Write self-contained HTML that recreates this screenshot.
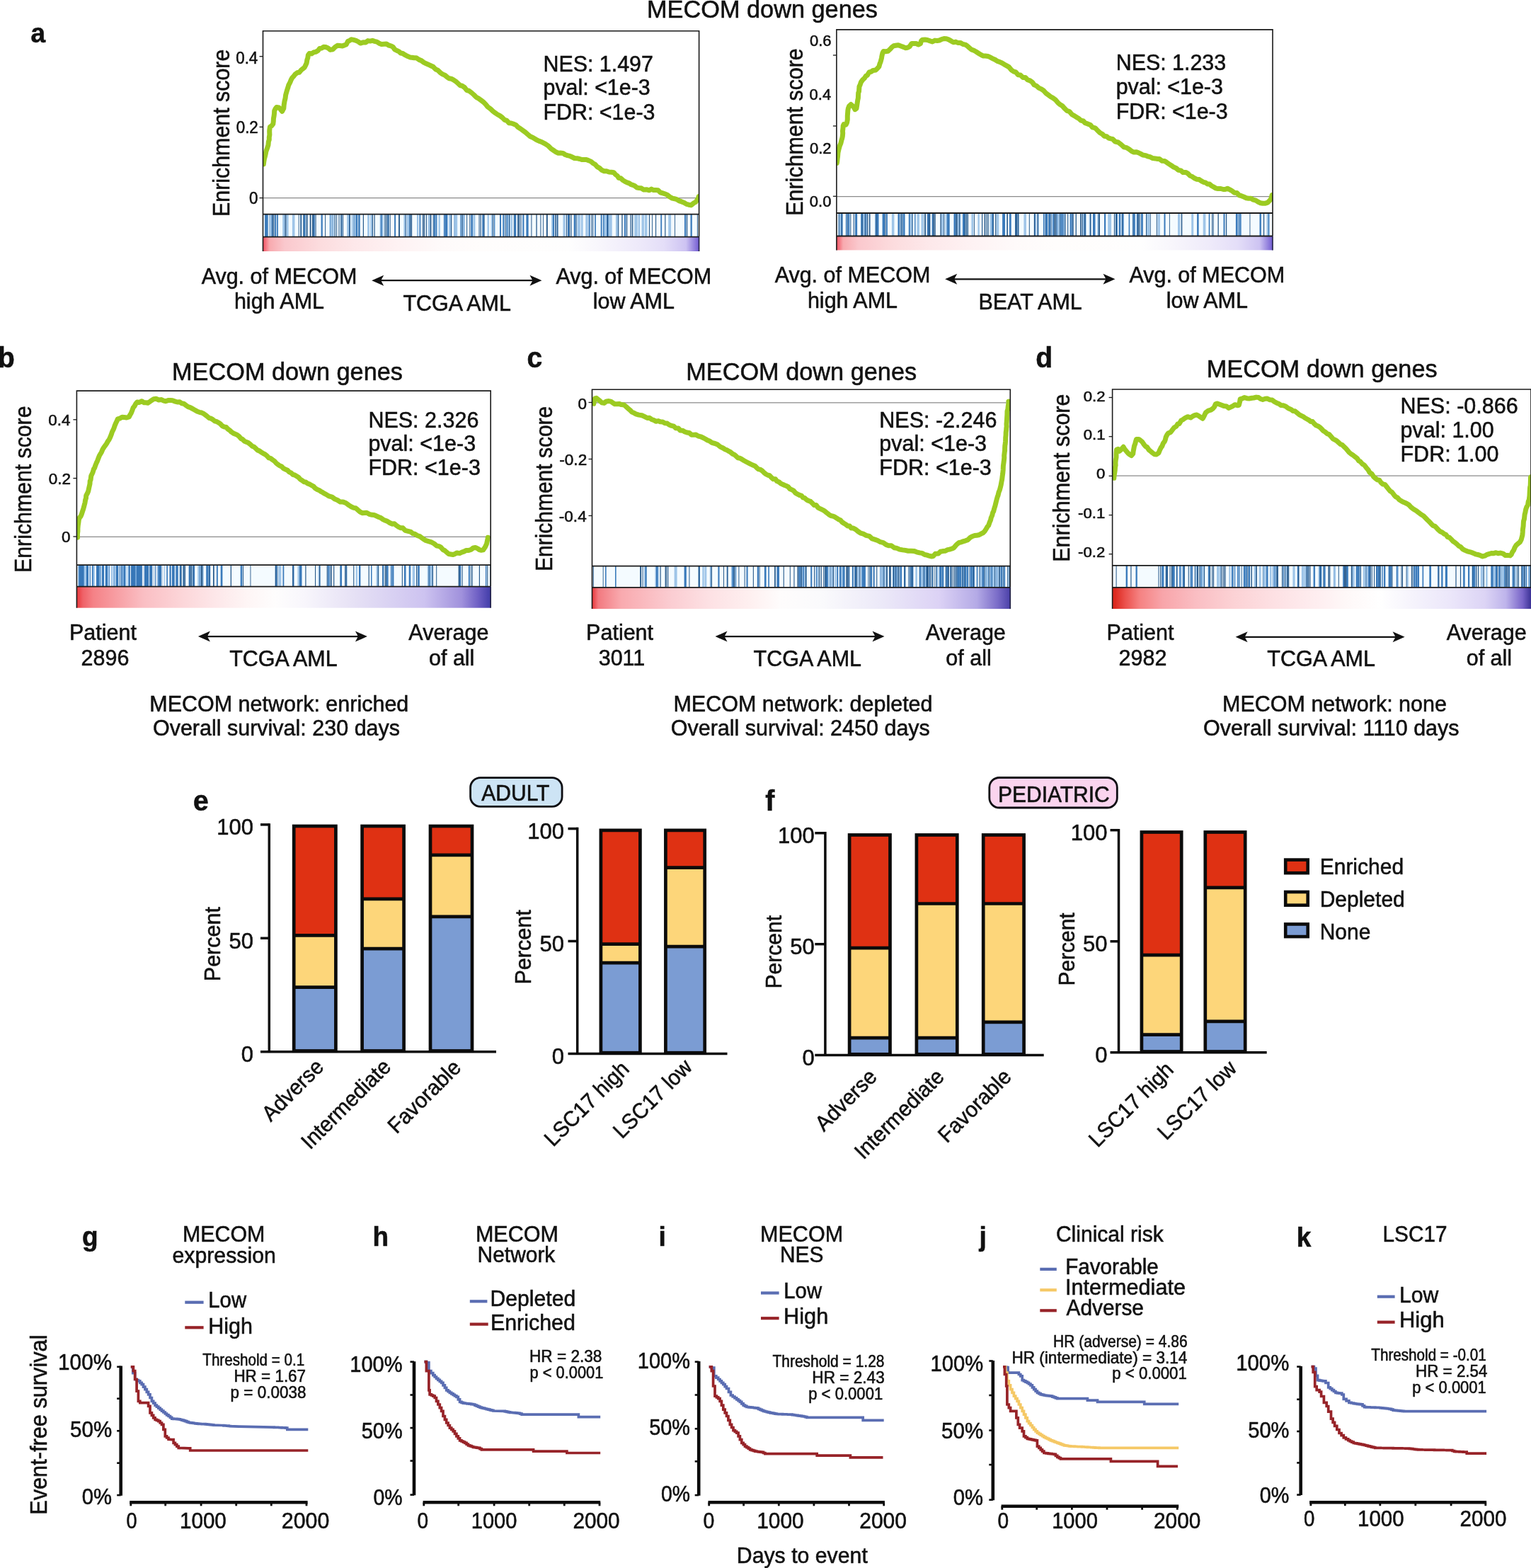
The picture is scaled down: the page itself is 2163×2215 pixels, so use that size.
<!DOCTYPE html>
<html><head><meta charset="utf-8"><title>MECOM figure</title>
<style>
html,body{margin:0;padding:0;background:#fff;}
svg{display:block;}
text{font-family:'Liberation Sans', Arial, Helvetica, sans-serif;fill:#111;stroke:#111;stroke-width:0.55px;}
</style></head>
<body>
<svg width="2163" height="2215" viewBox="0 0 2163 2215">
<rect width="2163" height="2215" fill="#fff"/>
<text x="1077.0" y="25.2" font-size="34.3" text-anchor="middle" transform="translate(1077.0 25.2) scale(1 1.04) translate(-1077.0 -25.2)">MECOM down genes</text>
<text x="43.6" y="59.6" font-size="37" text-anchor="start" font-weight="bold" transform="translate(43.6 59.6) scale(1 1.04) translate(-43.6 -59.6)">a</text>
<defs><linearGradient id="ga1" x1="0" x2="1" y1="0" y2="0"><stop offset="0" stop-color="#f05060"/><stop offset="0.015" stop-color="#f8aaaf"/><stop offset="0.05" stop-color="#fac8cd"/><stop offset="0.13" stop-color="#fcdcde"/><stop offset="0.21" stop-color="#fde8ea"/><stop offset="0.31" stop-color="#fef2f3"/><stop offset="0.41" stop-color="#fefafa"/><stop offset="0.5" stop-color="#fffdfc"/><stop offset="0.7" stop-color="#fefefe"/><stop offset="0.77" stop-color="#f8f6fc"/><stop offset="0.86" stop-color="#eeeafa"/><stop offset="0.92" stop-color="#e4def8"/><stop offset="0.97" stop-color="#cdc3f2"/><stop offset="0.995" stop-color="#826ed7"/><stop offset="1" stop-color="#6a55cc"/></linearGradient><clipPath id="ga1c"><rect x="371.5" y="43.7" width="616.1" height="258.90000000000003"/></clipPath></defs>
<rect x="371.5" y="334.7" width="616.1" height="20.30000000000001" fill="url(#ga1)"/>
<rect x="371.5" y="302.6" width="616.1" height="32.099999999999966" fill="#f4fbff"/>
<rect x="374.1" y="302.6" width="2.7" height="32.1" fill="#3b7bbb"/>
<rect x="375.8" y="302.6" width="2.2" height="32.1" fill="#3b7bbb"/>
<rect x="376.4" y="302.6" width="2.3" height="32.1" fill="#3b7bbb"/>
<rect x="380.6" y="302.6" width="1.0" height="32.1" fill="#27598a"/>
<rect x="380.9" y="302.6" width="3.4" height="32.1" fill="#9fc5e8"/>
<rect x="381.0" y="302.6" width="3.9" height="32.1" fill="#9fc5e8"/>
<rect x="383.9" y="302.6" width="1.6" height="32.1" fill="#3b7bbb"/>
<rect x="383.9" y="302.6" width="1.5" height="32.1" fill="#3b7bbb"/>
<rect x="384.5" y="302.6" width="0.9" height="32.1" fill="#27598a"/>
<rect x="386.2" y="302.6" width="1.2" height="32.1" fill="#27598a"/>
<rect x="388.1" y="302.6" width="2.1" height="32.1" fill="#3b7bbb"/>
<rect x="391.1" y="302.6" width="1.8" height="32.1" fill="#3b7bbb"/>
<rect x="399.2" y="302.6" width="3.7" height="32.1" fill="#9fc5e8"/>
<rect x="402.5" y="302.6" width="1.0" height="32.1" fill="#27598a"/>
<rect x="403.4" y="302.6" width="1.2" height="32.1" fill="#27598a"/>
<rect x="404.8" y="302.6" width="2.8" height="32.1" fill="#9fc5e8"/>
<rect x="412.9" y="302.6" width="2.0" height="32.1" fill="#9fc5e8"/>
<rect x="413.6" y="302.6" width="2.9" height="32.1" fill="#9fc5e8"/>
<rect x="421.7" y="302.6" width="0.9" height="32.1" fill="#27598a"/>
<rect x="424.4" y="302.6" width="1.8" height="32.1" fill="#3b7bbb"/>
<rect x="424.6" y="302.6" width="1.3" height="32.1" fill="#27598a"/>
<rect x="428.4" y="302.6" width="1.0" height="32.1" fill="#27598a"/>
<rect x="428.7" y="302.6" width="1.2" height="32.1" fill="#27598a"/>
<rect x="429.3" y="302.6" width="2.0" height="32.1" fill="#3b7bbb"/>
<rect x="429.8" y="302.6" width="1.6" height="32.1" fill="#3b7bbb"/>
<rect x="432.6" y="302.6" width="1.1" height="32.1" fill="#27598a"/>
<rect x="433.3" y="302.6" width="1.3" height="32.1" fill="#27598a"/>
<rect x="437.7" y="302.6" width="1.3" height="32.1" fill="#27598a"/>
<rect x="438.3" y="302.6" width="1.2" height="32.1" fill="#27598a"/>
<rect x="441.1" y="302.6" width="1.3" height="32.1" fill="#27598a"/>
<rect x="441.7" y="302.6" width="1.2" height="32.1" fill="#27598a"/>
<rect x="442.8" y="302.6" width="0.9" height="32.1" fill="#27598a"/>
<rect x="443.1" y="302.6" width="1.7" height="32.1" fill="#3b7bbb"/>
<rect x="445.5" y="302.6" width="1.1" height="32.1" fill="#27598a"/>
<rect x="453.6" y="302.6" width="2.2" height="32.1" fill="#3b7bbb"/>
<rect x="459.1" y="302.6" width="1.0" height="32.1" fill="#27598a"/>
<rect x="465.5" y="302.6" width="2.5" height="32.1" fill="#9fc5e8"/>
<rect x="466.1" y="302.6" width="2.7" height="32.1" fill="#3b7bbb"/>
<rect x="466.7" y="302.6" width="3.8" height="32.1" fill="#9fc5e8"/>
<rect x="469.2" y="302.6" width="0.9" height="32.1" fill="#27598a"/>
<rect x="469.3" y="302.6" width="2.5" height="32.1" fill="#9fc5e8"/>
<rect x="472.6" y="302.6" width="1.2" height="32.1" fill="#27598a"/>
<rect x="475.1" y="302.6" width="1.0" height="32.1" fill="#27598a"/>
<rect x="478.5" y="302.6" width="1.0" height="32.1" fill="#27598a"/>
<rect x="480.7" y="302.6" width="3.2" height="32.1" fill="#9fc5e8"/>
<rect x="481.6" y="302.6" width="2.4" height="32.1" fill="#9fc5e8"/>
<rect x="481.7" y="302.6" width="1.1" height="32.1" fill="#27598a"/>
<rect x="481.8" y="302.6" width="1.0" height="32.1" fill="#27598a"/>
<rect x="484.1" y="302.6" width="1.0" height="32.1" fill="#27598a"/>
<rect x="490.1" y="302.6" width="3.3" height="32.1" fill="#9fc5e8"/>
<rect x="493.3" y="302.6" width="1.6" height="32.1" fill="#3b7bbb"/>
<rect x="493.4" y="302.6" width="1.3" height="32.1" fill="#27598a"/>
<rect x="496.6" y="302.6" width="2.0" height="32.1" fill="#9fc5e8"/>
<rect x="499.4" y="302.6" width="2.4" height="32.1" fill="#3b7bbb"/>
<rect x="500.4" y="302.6" width="2.2" height="32.1" fill="#9fc5e8"/>
<rect x="502.6" y="302.6" width="2.7" height="32.1" fill="#3b7bbb"/>
<rect x="506.2" y="302.6" width="2.5" height="32.1" fill="#3b7bbb"/>
<rect x="512.8" y="302.6" width="1.2" height="32.1" fill="#27598a"/>
<rect x="519.1" y="302.6" width="2.8" height="32.1" fill="#9fc5e8"/>
<rect x="523.3" y="302.6" width="3.1" height="32.1" fill="#9fc5e8"/>
<rect x="525.9" y="302.6" width="1.1" height="32.1" fill="#27598a"/>
<rect x="528.5" y="302.6" width="1.2" height="32.1" fill="#27598a"/>
<rect x="536.6" y="302.6" width="3.5" height="32.1" fill="#9fc5e8"/>
<rect x="537.9" y="302.6" width="2.2" height="32.1" fill="#3b7bbb"/>
<rect x="539.5" y="302.6" width="2.2" height="32.1" fill="#9fc5e8"/>
<rect x="543.2" y="302.6" width="1.1" height="32.1" fill="#27598a"/>
<rect x="545.0" y="302.6" width="1.2" height="32.1" fill="#27598a"/>
<rect x="546.9" y="302.6" width="2.7" height="32.1" fill="#3b7bbb"/>
<rect x="547.7" y="302.6" width="1.0" height="32.1" fill="#27598a"/>
<rect x="550.7" y="302.6" width="1.0" height="32.1" fill="#27598a"/>
<rect x="557.1" y="302.6" width="2.0" height="32.1" fill="#3b7bbb"/>
<rect x="563.1" y="302.6" width="1.2" height="32.1" fill="#27598a"/>
<rect x="563.7" y="302.6" width="1.2" height="32.1" fill="#27598a"/>
<rect x="570.4" y="302.6" width="2.8" height="32.1" fill="#9fc5e8"/>
<rect x="572.7" y="302.6" width="1.0" height="32.1" fill="#27598a"/>
<rect x="574.6" y="302.6" width="3.7" height="32.1" fill="#9fc5e8"/>
<rect x="577.9" y="302.6" width="2.6" height="32.1" fill="#9fc5e8"/>
<rect x="578.4" y="302.6" width="1.8" height="32.1" fill="#3b7bbb"/>
<rect x="579.1" y="302.6" width="1.2" height="32.1" fill="#27598a"/>
<rect x="580.9" y="302.6" width="1.2" height="32.1" fill="#27598a"/>
<rect x="589.0" y="302.6" width="1.5" height="32.1" fill="#3b7bbb"/>
<rect x="589.1" y="302.6" width="2.1" height="32.1" fill="#9fc5e8"/>
<rect x="592.5" y="302.6" width="1.8" height="32.1" fill="#3b7bbb"/>
<rect x="596.7" y="302.6" width="1.0" height="32.1" fill="#27598a"/>
<rect x="598.3" y="302.6" width="1.2" height="32.1" fill="#27598a"/>
<rect x="599.1" y="302.6" width="0.9" height="32.1" fill="#27598a"/>
<rect x="601.7" y="302.6" width="1.2" height="32.1" fill="#27598a"/>
<rect x="604.6" y="302.6" width="3.9" height="32.1" fill="#9fc5e8"/>
<rect x="607.7" y="302.6" width="1.1" height="32.1" fill="#27598a"/>
<rect x="608.3" y="302.6" width="1.1" height="32.1" fill="#27598a"/>
<rect x="611.7" y="302.6" width="1.0" height="32.1" fill="#27598a"/>
<rect x="612.8" y="302.6" width="2.1" height="32.1" fill="#3b7bbb"/>
<rect x="615.4" y="302.6" width="2.0" height="32.1" fill="#3b7bbb"/>
<rect x="619.6" y="302.6" width="2.2" height="32.1" fill="#9fc5e8"/>
<rect x="626.9" y="302.6" width="1.6" height="32.1" fill="#3b7bbb"/>
<rect x="628.5" y="302.6" width="2.7" height="32.1" fill="#3b7bbb"/>
<rect x="629.8" y="302.6" width="2.6" height="32.1" fill="#3b7bbb"/>
<rect x="634.1" y="302.6" width="2.9" height="32.1" fill="#9fc5e8"/>
<rect x="637.0" y="302.6" width="1.2" height="32.1" fill="#27598a"/>
<rect x="641.6" y="302.6" width="2.4" height="32.1" fill="#3b7bbb"/>
<rect x="642.2" y="302.6" width="4.0" height="32.1" fill="#9fc5e8"/>
<rect x="650.3" y="302.6" width="2.5" height="32.1" fill="#3b7bbb"/>
<rect x="651.4" y="302.6" width="3.7" height="32.1" fill="#9fc5e8"/>
<rect x="652.5" y="302.6" width="1.1" height="32.1" fill="#27598a"/>
<rect x="654.7" y="302.6" width="2.1" height="32.1" fill="#3b7bbb"/>
<rect x="654.8" y="302.6" width="2.1" height="32.1" fill="#9fc5e8"/>
<rect x="659.1" y="302.6" width="1.0" height="32.1" fill="#27598a"/>
<rect x="663.3" y="302.6" width="1.0" height="32.1" fill="#27598a"/>
<rect x="665.3" y="302.6" width="2.6" height="32.1" fill="#3b7bbb"/>
<rect x="668.4" y="302.6" width="3.0" height="32.1" fill="#9fc5e8"/>
<rect x="676.5" y="302.6" width="1.0" height="32.1" fill="#27598a"/>
<rect x="678.5" y="302.6" width="1.2" height="32.1" fill="#27598a"/>
<rect x="681.3" y="302.6" width="2.6" height="32.1" fill="#3b7bbb"/>
<rect x="683.5" y="302.6" width="1.1" height="32.1" fill="#27598a"/>
<rect x="688.5" y="302.6" width="2.4" height="32.1" fill="#9fc5e8"/>
<rect x="693.7" y="302.6" width="3.0" height="32.1" fill="#9fc5e8"/>
<rect x="696.0" y="302.6" width="1.1" height="32.1" fill="#27598a"/>
<rect x="697.9" y="302.6" width="1.4" height="32.1" fill="#3b7bbb"/>
<rect x="706.0" y="302.6" width="2.0" height="32.1" fill="#3b7bbb"/>
<rect x="710.3" y="302.6" width="2.1" height="32.1" fill="#3b7bbb"/>
<rect x="713.5" y="302.6" width="1.1" height="32.1" fill="#27598a"/>
<rect x="715.0" y="302.6" width="3.8" height="32.1" fill="#9fc5e8"/>
<rect x="715.8" y="302.6" width="1.6" height="32.1" fill="#3b7bbb"/>
<rect x="717.3" y="302.6" width="3.8" height="32.1" fill="#9fc5e8"/>
<rect x="719.1" y="302.6" width="1.0" height="32.1" fill="#27598a"/>
<rect x="721.7" y="302.6" width="2.3" height="32.1" fill="#9fc5e8"/>
<rect x="725.8" y="302.6" width="1.0" height="32.1" fill="#27598a"/>
<rect x="726.5" y="302.6" width="1.9" height="32.1" fill="#3b7bbb"/>
<rect x="727.7" y="302.6" width="1.5" height="32.1" fill="#3b7bbb"/>
<rect x="731.2" y="302.6" width="1.1" height="32.1" fill="#27598a"/>
<rect x="732.0" y="302.6" width="1.1" height="32.1" fill="#27598a"/>
<rect x="733.5" y="302.6" width="1.1" height="32.1" fill="#27598a"/>
<rect x="735.6" y="302.6" width="1.0" height="32.1" fill="#27598a"/>
<rect x="738.3" y="302.6" width="2.1" height="32.1" fill="#3b7bbb"/>
<rect x="743.4" y="302.6" width="2.6" height="32.1" fill="#3b7bbb"/>
<rect x="744.1" y="302.6" width="2.5" height="32.1" fill="#3b7bbb"/>
<rect x="750.4" y="302.6" width="1.0" height="32.1" fill="#27598a"/>
<rect x="757.4" y="302.6" width="1.3" height="32.1" fill="#27598a"/>
<rect x="763.4" y="302.6" width="1.0" height="32.1" fill="#27598a"/>
<rect x="767.0" y="302.6" width="0.9" height="32.1" fill="#27598a"/>
<rect x="771.9" y="302.6" width="1.2" height="32.1" fill="#27598a"/>
<rect x="772.3" y="302.6" width="1.2" height="32.1" fill="#27598a"/>
<rect x="772.3" y="302.6" width="1.2" height="32.1" fill="#27598a"/>
<rect x="779.1" y="302.6" width="2.2" height="32.1" fill="#9fc5e8"/>
<rect x="781.0" y="302.6" width="2.1" height="32.1" fill="#3b7bbb"/>
<rect x="784.3" y="302.6" width="0.9" height="32.1" fill="#27598a"/>
<rect x="784.6" y="302.6" width="1.1" height="32.1" fill="#27598a"/>
<rect x="786.6" y="302.6" width="1.6" height="32.1" fill="#3b7bbb"/>
<rect x="787.2" y="302.6" width="1.2" height="32.1" fill="#27598a"/>
<rect x="795.6" y="302.6" width="2.2" height="32.1" fill="#9fc5e8"/>
<rect x="795.8" y="302.6" width="2.9" height="32.1" fill="#9fc5e8"/>
<rect x="799.9" y="302.6" width="1.1" height="32.1" fill="#27598a"/>
<rect x="801.9" y="302.6" width="1.1" height="32.1" fill="#27598a"/>
<rect x="802.0" y="302.6" width="2.6" height="32.1" fill="#3b7bbb"/>
<rect x="802.6" y="302.6" width="2.4" height="32.1" fill="#3b7bbb"/>
<rect x="804.0" y="302.6" width="1.0" height="32.1" fill="#27598a"/>
<rect x="806.1" y="302.6" width="1.3" height="32.1" fill="#27598a"/>
<rect x="810.7" y="302.6" width="2.6" height="32.1" fill="#3b7bbb"/>
<rect x="813.6" y="302.6" width="1.1" height="32.1" fill="#27598a"/>
<rect x="815.6" y="302.6" width="3.6" height="32.1" fill="#9fc5e8"/>
<rect x="816.4" y="302.6" width="3.5" height="32.1" fill="#9fc5e8"/>
<rect x="820.8" y="302.6" width="2.8" height="32.1" fill="#9fc5e8"/>
<rect x="827.3" y="302.6" width="3.4" height="32.1" fill="#9fc5e8"/>
<rect x="831.6" y="302.6" width="2.0" height="32.1" fill="#3b7bbb"/>
<rect x="835.3" y="302.6" width="1.0" height="32.1" fill="#27598a"/>
<rect x="837.2" y="302.6" width="1.0" height="32.1" fill="#27598a"/>
<rect x="840.2" y="302.6" width="1.7" height="32.1" fill="#3b7bbb"/>
<rect x="848.7" y="302.6" width="1.9" height="32.1" fill="#3b7bbb"/>
<rect x="851.9" y="302.6" width="2.1" height="32.1" fill="#3b7bbb"/>
<rect x="853.4" y="302.6" width="3.3" height="32.1" fill="#9fc5e8"/>
<rect x="857.0" y="302.6" width="2.8" height="32.1" fill="#3b7bbb"/>
<rect x="857.1" y="302.6" width="2.4" height="32.1" fill="#3b7bbb"/>
<rect x="857.9" y="302.6" width="0.9" height="32.1" fill="#27598a"/>
<rect x="858.6" y="302.6" width="0.9" height="32.1" fill="#27598a"/>
<rect x="859.5" y="302.6" width="3.1" height="32.1" fill="#9fc5e8"/>
<rect x="861.6" y="302.6" width="3.1" height="32.1" fill="#9fc5e8"/>
<rect x="870.6" y="302.6" width="2.5" height="32.1" fill="#3b7bbb"/>
<rect x="870.9" y="302.6" width="2.5" height="32.1" fill="#3b7bbb"/>
<rect x="871.0" y="302.6" width="2.3" height="32.1" fill="#9fc5e8"/>
<rect x="873.1" y="302.6" width="1.1" height="32.1" fill="#27598a"/>
<rect x="878.3" y="302.6" width="1.3" height="32.1" fill="#27598a"/>
<rect x="882.0" y="302.6" width="2.2" height="32.1" fill="#3b7bbb"/>
<rect x="885.0" y="302.6" width="1.2" height="32.1" fill="#27598a"/>
<rect x="890.5" y="302.6" width="1.2" height="32.1" fill="#27598a"/>
<rect x="892.8" y="302.6" width="1.0" height="32.1" fill="#27598a"/>
<rect x="893.1" y="302.6" width="1.2" height="32.1" fill="#27598a"/>
<rect x="896.4" y="302.6" width="3.5" height="32.1" fill="#9fc5e8"/>
<rect x="896.8" y="302.6" width="3.9" height="32.1" fill="#9fc5e8"/>
<rect x="897.3" y="302.6" width="2.9" height="32.1" fill="#9fc5e8"/>
<rect x="901.6" y="302.6" width="2.5" height="32.1" fill="#9fc5e8"/>
<rect x="906.5" y="302.6" width="3.4" height="32.1" fill="#9fc5e8"/>
<rect x="910.8" y="302.6" width="3.6" height="32.1" fill="#9fc5e8"/>
<rect x="916.9" y="302.6" width="1.1" height="32.1" fill="#27598a"/>
<rect x="921.0" y="302.6" width="0.9" height="32.1" fill="#27598a"/>
<rect x="926.0" y="302.6" width="1.1" height="32.1" fill="#27598a"/>
<rect x="933.3" y="302.6" width="1.8" height="32.1" fill="#3b7bbb"/>
<rect x="939.2" y="302.6" width="1.2" height="32.1" fill="#27598a"/>
<rect x="944.2" y="302.6" width="3.9" height="32.1" fill="#9fc5e8"/>
<rect x="953.0" y="302.6" width="0.9" height="32.1" fill="#27598a"/>
<rect x="967.0" y="302.6" width="2.3" height="32.1" fill="#3b7bbb"/>
<rect x="970.0" y="302.6" width="1.2" height="32.1" fill="#27598a"/>
<rect x="975.5" y="302.6" width="2.3" height="32.1" fill="#3b7bbb"/>
<rect x="984.9" y="302.6" width="1.0" height="32.1" fill="#27598a"/>
<line x1="371.5" y1="279.6" x2="987.6" y2="279.6" stroke="#8a8a8a" stroke-width="1.2"/>
<path d="M372.3,231.9 L372.7,229.1 L373.4,224.7 L374.3,221.4 L375.3,217.2 L375.9,213.7 L377.1,210.5 L378.0,208.0 L379.0,204.8 L379.4,200.0 L380.3,197.3 L380.3,193.8 L380.9,190.4 L380.7,185.7 L380.8,183.7 L381.4,179.4 L383.9,177.6 L385.8,175.2 L386.3,171.1 L386.4,167.8 L387.2,163.2 L387.5,160.4 L387.7,156.4 L388.9,153.9 L390.8,151.4 L393.9,151.9 L396.5,154.7 L398.6,157.3 L400.8,153.2 L401.2,148.2 L402.0,143.1 L403.1,138.7 L403.6,134.4 L404.8,129.9 L405.9,126.3 L406.8,123.8 L407.7,120.3 L409.9,116.1 L411.5,112.2 L412.9,109.7 L414.9,107.8 L417.1,104.8 L420.5,102.4 L422.8,102.2 L425.7,98.7 L428.5,96.6 L430.2,95.3 L431.9,91.9 L433.2,88.8 L433.9,84.4 L434.8,81.9 L435.4,77.8 L437.1,75.4 L440.3,75.9 L443.6,73.7 L446.0,73.4 L449.3,71.5 L451.5,68.5 L454.4,68.1 L457.1,66.3 L460.2,66.5 L463.5,67.9 L466.5,70.4 L470.2,69.7 L473.2,66.7 L476.7,64.3 L480.0,64.6 L483.8,64.9 L486.7,63.9 L489.3,62.7 L491.5,58.3 L493.7,57.5 L496.1,55.8 L499.8,56.4 L503.1,57.3 L506.4,59.0 L509.1,61.1 L513.1,59.8 L516.7,59.9 L519.8,57.6 L523.0,58.1 L526.1,57.3 L529.2,58.4 L532.5,59.1 L536.3,61.5 L539.4,62.6 L542.6,62.3 L546.0,62.0 L549.1,64.0 L552.3,64.8 L555.2,66.4 L557.7,69.9 L560.8,71.5 L563.4,72.6 L566.2,75.0 L569.0,75.5 L572.4,77.7 L574.8,79.0 L579.2,80.9 L581.9,81.2 L585.3,81.8 L588.1,81.7 L592.1,84.4 L595.3,85.6 L598.6,88.1 L602.0,89.8 L605.2,91.2 L609.0,93.0 L611.9,94.3 L615.7,98.1 L618.6,99.3 L622.4,102.9 L625.3,104.9 L628.6,106.3 L631.6,108.8 L634.3,110.7 L637.5,111.2 L640.7,112.9 L644.8,115.7 L647.6,118.3 L650.2,120.8 L653.1,121.3 L656.3,123.5 L659.6,127.6 L662.5,128.2 L666.2,131.0 L669.6,134.0 L672.9,137.4 L675.8,138.9 L679.3,141.4 L682.9,144.1 L685.8,146.9 L689.1,151.0 L692.4,153.3 L695.7,156.4 L699.5,159.4 L702.5,161.5 L706.4,163.6 L709.7,166.1 L712.9,169.4 L716.0,170.4 L719.2,173.7 L722.2,174.0 L725.3,175.0 L729.0,176.6 L732.0,179.8 L735.6,182.0 L738.8,184.3 L742.3,186.9 L745.7,189.9 L749.1,192.7 L752.6,194.2 L755.1,195.7 L758.4,197.8 L761.9,199.4 L765.8,200.8 L769.6,202.8 L774.0,205.6 L778.3,209.8 L782.2,212.5 L785.0,214.5 L788.7,216.2 L791.7,216.1 L795.4,216.4 L798.5,218.5 L801.8,219.6 L805.1,220.3 L808.6,222.0 L811.6,223.5 L815.3,223.7 L818.8,224.5 L821.8,225.4 L825.1,225.5 L828.4,225.5 L831.4,226.6 L834.9,228.1 L838.1,230.7 L840.8,232.2 L843.7,235.6 L847.0,237.4 L850.1,240.3 L853.5,241.7 L856.9,241.8 L860.4,243.0 L864.0,243.3 L867.2,243.8 L869.5,246.5 L872.3,248.5 L874.0,251.3 L877.0,251.7 L880.1,254.6 L882.9,256.4 L886.0,257.9 L889.0,258.9 L891.5,260.7 L894.7,261.6 L897.0,262.7 L899.9,265.1 L902.8,265.5 L905.8,265.8 L909.5,268.1 L913.3,267.7 L917.1,268.8 L920.3,267.1 L923.4,268.6 L926.6,268.6 L929.7,268.8 L933.1,272.1 L936.1,272.7 L939.7,274.1 L942.7,275.2 L946.1,278.0 L949.8,280.1 L952.8,280.7 L956.1,281.6 L959.2,283.6 L963.0,284.9 L966.4,286.2 L969.9,288.4 L973.0,289.2 L976.5,289.9 L980.2,286.8 L983.1,285.2 L985.0,282.3 L986.4,280.2 L987.1,277.6" fill="none" stroke="#9ccb22" stroke-width="7" stroke-linejoin="round" stroke-linecap="round" clip-path="url(#ga1c)"/>
<path d="M371.5,355 L371.5,43.7 L987.6,43.7 L987.6,334.7" fill="none" stroke="#1a1a1a" stroke-width="1.6"/>
<line x1="371.5" y1="302.6" x2="987.6" y2="302.6" stroke="#1a1a1a" stroke-width="1.8"/>
<line x1="371.5" y1="334.7" x2="987.6" y2="334.7" stroke="#1a1a1a" stroke-width="1.8"/>
<line x1="987.6" y1="334.7" x2="987.6" y2="355" stroke="#222244" stroke-width="1.6"/>
<line x1="366.5" y1="79.7" x2="371.5" y2="79.7" stroke="#1a1a1a" stroke-width="1.3"/>
<text x="333.2" y="89.6" font-size="22.4" text-anchor="start" textLength="31.14" lengthAdjust="spacingAndGlyphs" transform="translate(333.2 89.6) scale(1 1.04) translate(-333.2 -89.6)">0.4</text>
<line x1="366.5" y1="179.4" x2="371.5" y2="179.4" stroke="#1a1a1a" stroke-width="1.3"/>
<text x="333.7" y="188.2" font-size="22.4" text-anchor="start" textLength="31.14" lengthAdjust="spacingAndGlyphs" transform="translate(333.7 188.2) scale(1 1.04) translate(-333.7 -188.2)">0.2</text>
<line x1="366.5" y1="279.6" x2="371.5" y2="279.6" stroke="#1a1a1a" stroke-width="1.3"/>
<text x="352.1" y="287.8" font-size="22.4" text-anchor="start" textLength="12.46" lengthAdjust="spacingAndGlyphs" transform="translate(352.1 287.8) scale(1 1.04) translate(-352.1 -287.8)">0</text>
<text x="324.4" y="306.0" font-size="32.5" text-anchor="start" textLength="236.36" lengthAdjust="spacingAndGlyphs" transform="rotate(-90 324.4 306.0) translate(324.4 306.0) scale(1 1.04) translate(-324.4 -306.0)">Enrichment score</text>
<text x="767.5" y="101.0" font-size="30.4" text-anchor="start" transform="translate(767.5 101.0) scale(1 1.04) translate(-767.5 -101.0)">NES: 1.497</text>
<text x="767.5" y="134.5" font-size="30.4" text-anchor="start" transform="translate(767.5 134.5) scale(1 1.04) translate(-767.5 -134.5)">pval: &lt;1e-3</text>
<text x="767.5" y="168.7" font-size="30.4" text-anchor="start" transform="translate(767.5 168.7) scale(1 1.04) translate(-767.5 -168.7)">FDR: &lt;1e-3</text>
<text x="394.5" y="401.4" font-size="30.5" text-anchor="middle" transform="translate(394.5 401.4) scale(1 1.04) translate(-394.5 -401.4)">Avg. of MECOM</text>
<text x="394.5" y="435.6" font-size="30.5" text-anchor="middle" transform="translate(394.5 435.6) scale(1 1.04) translate(-394.5 -435.6)">high AML</text>
<text x="645.7" y="438.8" font-size="30.5" text-anchor="middle" transform="translate(645.7 438.8) scale(1 1.04) translate(-645.7 -438.8)">TCGA AML</text>
<text x="895.3" y="401.4" font-size="30.5" text-anchor="middle" transform="translate(895.3 401.4) scale(1 1.04) translate(-895.3 -401.4)">Avg. of MECOM</text>
<text x="895.3" y="435.6" font-size="30.5" text-anchor="middle" transform="translate(895.3 435.6) scale(1 1.04) translate(-895.3 -435.6)">low AML</text>
<line x1="535.2" y1="396.2" x2="755.5" y2="396.2" stroke="#111" stroke-width="2.2"/>
<path d="M525.2,396.2 L542.2,388.7 L538.2,396.2 L542.2,403.7 Z" fill="#111"/>
<path d="M765.5,396.2 L748.5,388.7 L752.5,396.2 L748.5,403.7 Z" fill="#111"/>
<defs><linearGradient id="ga2" x1="0" x2="1" y1="0" y2="0"><stop offset="0" stop-color="#f05060"/><stop offset="0.015" stop-color="#f8aaaf"/><stop offset="0.05" stop-color="#fac8cd"/><stop offset="0.13" stop-color="#fcdcde"/><stop offset="0.21" stop-color="#fde8ea"/><stop offset="0.31" stop-color="#fef2f3"/><stop offset="0.41" stop-color="#fefafa"/><stop offset="0.5" stop-color="#fffdfc"/><stop offset="0.7" stop-color="#fefefe"/><stop offset="0.77" stop-color="#f8f6fc"/><stop offset="0.86" stop-color="#eeeafa"/><stop offset="0.92" stop-color="#e4def8"/><stop offset="0.97" stop-color="#cdc3f2"/><stop offset="0.995" stop-color="#826ed7"/><stop offset="1" stop-color="#6a55cc"/></linearGradient><clipPath id="ga2c"><rect x="1181.9" y="41.9" width="616.0999999999999" height="259.1"/></clipPath></defs>
<rect x="1181.9" y="333.5" width="616.0999999999999" height="19.899999999999977" fill="url(#ga2)"/>
<rect x="1181.9" y="301" width="616.0999999999999" height="32.5" fill="#f4fbff"/>
<rect x="1184.6" y="301.0" width="2.3" height="32.5" fill="#3b7bbb"/>
<rect x="1185.0" y="301.0" width="1.0" height="32.5" fill="#27598a"/>
<rect x="1185.8" y="301.0" width="3.4" height="32.5" fill="#9fc5e8"/>
<rect x="1188.3" y="301.0" width="2.3" height="32.5" fill="#3b7bbb"/>
<rect x="1188.7" y="301.0" width="1.0" height="32.5" fill="#27598a"/>
<rect x="1194.9" y="301.0" width="1.2" height="32.5" fill="#27598a"/>
<rect x="1195.1" y="301.0" width="1.9" height="32.5" fill="#3b7bbb"/>
<rect x="1196.5" y="301.0" width="2.0" height="32.5" fill="#9fc5e8"/>
<rect x="1196.6" y="301.0" width="3.0" height="32.5" fill="#9fc5e8"/>
<rect x="1196.9" y="301.0" width="3.9" height="32.5" fill="#9fc5e8"/>
<rect x="1197.2" y="301.0" width="1.0" height="32.5" fill="#27598a"/>
<rect x="1198.2" y="301.0" width="1.6" height="32.5" fill="#3b7bbb"/>
<rect x="1201.3" y="301.0" width="1.0" height="32.5" fill="#27598a"/>
<rect x="1205.8" y="301.0" width="1.1" height="32.5" fill="#27598a"/>
<rect x="1208.2" y="301.0" width="1.9" height="32.5" fill="#3b7bbb"/>
<rect x="1208.3" y="301.0" width="2.8" height="32.5" fill="#3b7bbb"/>
<rect x="1216.2" y="301.0" width="1.9" height="32.5" fill="#3b7bbb"/>
<rect x="1217.4" y="301.0" width="2.3" height="32.5" fill="#3b7bbb"/>
<rect x="1217.7" y="301.0" width="1.0" height="32.5" fill="#27598a"/>
<rect x="1219.6" y="301.0" width="3.0" height="32.5" fill="#9fc5e8"/>
<rect x="1219.7" y="301.0" width="2.9" height="32.5" fill="#9fc5e8"/>
<rect x="1221.6" y="301.0" width="1.1" height="32.5" fill="#27598a"/>
<rect x="1222.9" y="301.0" width="1.5" height="32.5" fill="#3b7bbb"/>
<rect x="1225.0" y="301.0" width="1.2" height="32.5" fill="#27598a"/>
<rect x="1225.1" y="301.0" width="1.0" height="32.5" fill="#27598a"/>
<rect x="1227.8" y="301.0" width="1.1" height="32.5" fill="#27598a"/>
<rect x="1228.4" y="301.0" width="1.1" height="32.5" fill="#27598a"/>
<rect x="1236.4" y="301.0" width="2.7" height="32.5" fill="#3b7bbb"/>
<rect x="1236.9" y="301.0" width="2.7" height="32.5" fill="#9fc5e8"/>
<rect x="1237.4" y="301.0" width="2.7" height="32.5" fill="#3b7bbb"/>
<rect x="1237.5" y="301.0" width="1.2" height="32.5" fill="#27598a"/>
<rect x="1238.6" y="301.0" width="0.9" height="32.5" fill="#27598a"/>
<rect x="1238.7" y="301.0" width="2.8" height="32.5" fill="#3b7bbb"/>
<rect x="1246.6" y="301.0" width="1.4" height="32.5" fill="#3b7bbb"/>
<rect x="1247.7" y="301.0" width="2.6" height="32.5" fill="#3b7bbb"/>
<rect x="1250.4" y="301.0" width="1.1" height="32.5" fill="#27598a"/>
<rect x="1252.1" y="301.0" width="1.8" height="32.5" fill="#3b7bbb"/>
<rect x="1259.9" y="301.0" width="2.3" height="32.5" fill="#9fc5e8"/>
<rect x="1260.8" y="301.0" width="2.6" height="32.5" fill="#9fc5e8"/>
<rect x="1268.5" y="301.0" width="2.4" height="32.5" fill="#3b7bbb"/>
<rect x="1271.7" y="301.0" width="1.0" height="32.5" fill="#27598a"/>
<rect x="1272.5" y="301.0" width="2.4" height="32.5" fill="#3b7bbb"/>
<rect x="1272.9" y="301.0" width="2.8" height="32.5" fill="#9fc5e8"/>
<rect x="1273.6" y="301.0" width="1.3" height="32.5" fill="#27598a"/>
<rect x="1275.8" y="301.0" width="2.7" height="32.5" fill="#3b7bbb"/>
<rect x="1283.8" y="301.0" width="2.0" height="32.5" fill="#3b7bbb"/>
<rect x="1286.2" y="301.0" width="3.6" height="32.5" fill="#9fc5e8"/>
<rect x="1288.5" y="301.0" width="1.0" height="32.5" fill="#27598a"/>
<rect x="1292.1" y="301.0" width="1.4" height="32.5" fill="#3b7bbb"/>
<rect x="1295.4" y="301.0" width="3.6" height="32.5" fill="#9fc5e8"/>
<rect x="1301.5" y="301.0" width="3.1" height="32.5" fill="#9fc5e8"/>
<rect x="1305.6" y="301.0" width="0.9" height="32.5" fill="#27598a"/>
<rect x="1306.8" y="301.0" width="1.3" height="32.5" fill="#27598a"/>
<rect x="1309.9" y="301.0" width="2.3" height="32.5" fill="#3b7bbb"/>
<rect x="1310.3" y="301.0" width="2.4" height="32.5" fill="#3b7bbb"/>
<rect x="1311.6" y="301.0" width="1.1" height="32.5" fill="#27598a"/>
<rect x="1312.7" y="301.0" width="1.6" height="32.5" fill="#3b7bbb"/>
<rect x="1312.9" y="301.0" width="1.2" height="32.5" fill="#27598a"/>
<rect x="1316.7" y="301.0" width="2.7" height="32.5" fill="#3b7bbb"/>
<rect x="1318.0" y="301.0" width="1.1" height="32.5" fill="#27598a"/>
<rect x="1319.5" y="301.0" width="1.2" height="32.5" fill="#27598a"/>
<rect x="1320.7" y="301.0" width="1.0" height="32.5" fill="#27598a"/>
<rect x="1328.4" y="301.0" width="1.0" height="32.5" fill="#27598a"/>
<rect x="1329.3" y="301.0" width="1.1" height="32.5" fill="#27598a"/>
<rect x="1329.9" y="301.0" width="3.0" height="32.5" fill="#9fc5e8"/>
<rect x="1333.2" y="301.0" width="1.1" height="32.5" fill="#27598a"/>
<rect x="1335.7" y="301.0" width="2.5" height="32.5" fill="#9fc5e8"/>
<rect x="1337.3" y="301.0" width="3.7" height="32.5" fill="#9fc5e8"/>
<rect x="1338.0" y="301.0" width="2.5" height="32.5" fill="#3b7bbb"/>
<rect x="1339.4" y="301.0" width="2.3" height="32.5" fill="#3b7bbb"/>
<rect x="1347.5" y="301.0" width="2.4" height="32.5" fill="#3b7bbb"/>
<rect x="1348.6" y="301.0" width="1.9" height="32.5" fill="#3b7bbb"/>
<rect x="1350.5" y="301.0" width="1.0" height="32.5" fill="#27598a"/>
<rect x="1350.9" y="301.0" width="1.1" height="32.5" fill="#27598a"/>
<rect x="1351.7" y="301.0" width="1.2" height="32.5" fill="#27598a"/>
<rect x="1352.6" y="301.0" width="3.2" height="32.5" fill="#9fc5e8"/>
<rect x="1353.9" y="301.0" width="3.8" height="32.5" fill="#9fc5e8"/>
<rect x="1354.9" y="301.0" width="1.2" height="32.5" fill="#27598a"/>
<rect x="1359.9" y="301.0" width="2.5" height="32.5" fill="#3b7bbb"/>
<rect x="1361.4" y="301.0" width="1.8" height="32.5" fill="#3b7bbb"/>
<rect x="1362.8" y="301.0" width="1.1" height="32.5" fill="#27598a"/>
<rect x="1364.2" y="301.0" width="2.3" height="32.5" fill="#9fc5e8"/>
<rect x="1364.8" y="301.0" width="1.3" height="32.5" fill="#27598a"/>
<rect x="1366.8" y="301.0" width="1.2" height="32.5" fill="#27598a"/>
<rect x="1372.4" y="301.0" width="2.7" height="32.5" fill="#9fc5e8"/>
<rect x="1375.9" y="301.0" width="1.0" height="32.5" fill="#27598a"/>
<rect x="1381.4" y="301.0" width="2.4" height="32.5" fill="#9fc5e8"/>
<rect x="1387.1" y="301.0" width="1.0" height="32.5" fill="#27598a"/>
<rect x="1387.1" y="301.0" width="1.0" height="32.5" fill="#27598a"/>
<rect x="1390.6" y="301.0" width="1.0" height="32.5" fill="#27598a"/>
<rect x="1391.1" y="301.0" width="1.2" height="32.5" fill="#27598a"/>
<rect x="1393.6" y="301.0" width="1.2" height="32.5" fill="#27598a"/>
<rect x="1395.7" y="301.0" width="1.1" height="32.5" fill="#27598a"/>
<rect x="1398.6" y="301.0" width="3.0" height="32.5" fill="#9fc5e8"/>
<rect x="1401.3" y="301.0" width="2.3" height="32.5" fill="#3b7bbb"/>
<rect x="1402.7" y="301.0" width="1.1" height="32.5" fill="#27598a"/>
<rect x="1406.1" y="301.0" width="1.3" height="32.5" fill="#27598a"/>
<rect x="1407.9" y="301.0" width="3.4" height="32.5" fill="#9fc5e8"/>
<rect x="1416.1" y="301.0" width="2.0" height="32.5" fill="#3b7bbb"/>
<rect x="1417.5" y="301.0" width="2.5" height="32.5" fill="#3b7bbb"/>
<rect x="1422.5" y="301.0" width="0.9" height="32.5" fill="#27598a"/>
<rect x="1422.8" y="301.0" width="0.9" height="32.5" fill="#27598a"/>
<rect x="1422.8" y="301.0" width="0.9" height="32.5" fill="#27598a"/>
<rect x="1425.9" y="301.0" width="2.8" height="32.5" fill="#3b7bbb"/>
<rect x="1434.1" y="301.0" width="2.7" height="32.5" fill="#3b7bbb"/>
<rect x="1434.2" y="301.0" width="1.3" height="32.5" fill="#27598a"/>
<rect x="1436.0" y="301.0" width="1.2" height="32.5" fill="#27598a"/>
<rect x="1437.5" y="301.0" width="1.8" height="32.5" fill="#3b7bbb"/>
<rect x="1438.2" y="301.0" width="1.1" height="32.5" fill="#27598a"/>
<rect x="1446.4" y="301.0" width="3.5" height="32.5" fill="#9fc5e8"/>
<rect x="1453.8" y="301.0" width="1.0" height="32.5" fill="#27598a"/>
<rect x="1460.9" y="301.0" width="2.3" height="32.5" fill="#3b7bbb"/>
<rect x="1460.9" y="301.0" width="1.1" height="32.5" fill="#27598a"/>
<rect x="1464.5" y="301.0" width="3.5" height="32.5" fill="#9fc5e8"/>
<rect x="1465.6" y="301.0" width="1.2" height="32.5" fill="#27598a"/>
<rect x="1473.9" y="301.0" width="1.7" height="32.5" fill="#3b7bbb"/>
<rect x="1476.5" y="301.0" width="1.9" height="32.5" fill="#3b7bbb"/>
<rect x="1477.3" y="301.0" width="1.1" height="32.5" fill="#27598a"/>
<rect x="1477.6" y="301.0" width="2.7" height="32.5" fill="#3b7bbb"/>
<rect x="1481.4" y="301.0" width="1.1" height="32.5" fill="#27598a"/>
<rect x="1481.7" y="301.0" width="2.3" height="32.5" fill="#3b7bbb"/>
<rect x="1482.2" y="301.0" width="2.2" height="32.5" fill="#3b7bbb"/>
<rect x="1484.6" y="301.0" width="1.0" height="32.5" fill="#27598a"/>
<rect x="1485.8" y="301.0" width="2.7" height="32.5" fill="#9fc5e8"/>
<rect x="1487.7" y="301.0" width="1.6" height="32.5" fill="#3b7bbb"/>
<rect x="1489.1" y="301.0" width="1.0" height="32.5" fill="#27598a"/>
<rect x="1490.4" y="301.0" width="1.3" height="32.5" fill="#27598a"/>
<rect x="1491.3" y="301.0" width="1.2" height="32.5" fill="#27598a"/>
<rect x="1492.7" y="301.0" width="2.3" height="32.5" fill="#3b7bbb"/>
<rect x="1492.9" y="301.0" width="1.5" height="32.5" fill="#3b7bbb"/>
<rect x="1493.7" y="301.0" width="4.0" height="32.5" fill="#9fc5e8"/>
<rect x="1496.8" y="301.0" width="1.1" height="32.5" fill="#27598a"/>
<rect x="1497.7" y="301.0" width="2.5" height="32.5" fill="#9fc5e8"/>
<rect x="1498.3" y="301.0" width="2.3" height="32.5" fill="#3b7bbb"/>
<rect x="1500.8" y="301.0" width="2.7" height="32.5" fill="#3b7bbb"/>
<rect x="1502.5" y="301.0" width="2.8" height="32.5" fill="#9fc5e8"/>
<rect x="1504.2" y="301.0" width="1.2" height="32.5" fill="#27598a"/>
<rect x="1508.1" y="301.0" width="1.1" height="32.5" fill="#27598a"/>
<rect x="1511.6" y="301.0" width="2.3" height="32.5" fill="#3b7bbb"/>
<rect x="1514.3" y="301.0" width="1.9" height="32.5" fill="#3b7bbb"/>
<rect x="1515.3" y="301.0" width="1.3" height="32.5" fill="#27598a"/>
<rect x="1519.6" y="301.0" width="1.3" height="32.5" fill="#27598a"/>
<rect x="1526.0" y="301.0" width="1.2" height="32.5" fill="#27598a"/>
<rect x="1527.5" y="301.0" width="1.0" height="32.5" fill="#27598a"/>
<rect x="1529.0" y="301.0" width="0.9" height="32.5" fill="#27598a"/>
<rect x="1529.4" y="301.0" width="1.0" height="32.5" fill="#27598a"/>
<rect x="1529.7" y="301.0" width="2.8" height="32.5" fill="#9fc5e8"/>
<rect x="1531.6" y="301.0" width="2.7" height="32.5" fill="#3b7bbb"/>
<rect x="1532.0" y="301.0" width="1.2" height="32.5" fill="#27598a"/>
<rect x="1538.7" y="301.0" width="3.1" height="32.5" fill="#9fc5e8"/>
<rect x="1540.0" y="301.0" width="1.3" height="32.5" fill="#27598a"/>
<rect x="1544.0" y="301.0" width="2.5" height="32.5" fill="#3b7bbb"/>
<rect x="1544.8" y="301.0" width="2.7" height="32.5" fill="#3b7bbb"/>
<rect x="1545.1" y="301.0" width="1.7" height="32.5" fill="#3b7bbb"/>
<rect x="1550.2" y="301.0" width="3.3" height="32.5" fill="#9fc5e8"/>
<rect x="1551.8" y="301.0" width="1.1" height="32.5" fill="#27598a"/>
<rect x="1553.0" y="301.0" width="0.9" height="32.5" fill="#27598a"/>
<rect x="1560.0" y="301.0" width="2.2" height="32.5" fill="#3b7bbb"/>
<rect x="1565.2" y="301.0" width="3.1" height="32.5" fill="#9fc5e8"/>
<rect x="1567.4" y="301.0" width="2.7" height="32.5" fill="#9fc5e8"/>
<rect x="1573.9" y="301.0" width="1.2" height="32.5" fill="#27598a"/>
<rect x="1576.0" y="301.0" width="2.8" height="32.5" fill="#3b7bbb"/>
<rect x="1576.7" y="301.0" width="1.2" height="32.5" fill="#27598a"/>
<rect x="1580.7" y="301.0" width="2.5" height="32.5" fill="#3b7bbb"/>
<rect x="1583.9" y="301.0" width="3.3" height="32.5" fill="#9fc5e8"/>
<rect x="1585.2" y="301.0" width="0.9" height="32.5" fill="#27598a"/>
<rect x="1585.5" y="301.0" width="1.3" height="32.5" fill="#27598a"/>
<rect x="1586.0" y="301.0" width="1.6" height="32.5" fill="#3b7bbb"/>
<rect x="1594.6" y="301.0" width="1.6" height="32.5" fill="#3b7bbb"/>
<rect x="1599.6" y="301.0" width="4.0" height="32.5" fill="#9fc5e8"/>
<rect x="1600.4" y="301.0" width="1.2" height="32.5" fill="#27598a"/>
<rect x="1601.3" y="301.0" width="2.4" height="32.5" fill="#3b7bbb"/>
<rect x="1605.4" y="301.0" width="3.5" height="32.5" fill="#9fc5e8"/>
<rect x="1606.4" y="301.0" width="2.0" height="32.5" fill="#3b7bbb"/>
<rect x="1606.9" y="301.0" width="1.1" height="32.5" fill="#27598a"/>
<rect x="1608.2" y="301.0" width="1.1" height="32.5" fill="#27598a"/>
<rect x="1609.8" y="301.0" width="1.1" height="32.5" fill="#27598a"/>
<rect x="1612.0" y="301.0" width="2.8" height="32.5" fill="#3b7bbb"/>
<rect x="1619.0" y="301.0" width="1.2" height="32.5" fill="#27598a"/>
<rect x="1620.1" y="301.0" width="2.1" height="32.5" fill="#9fc5e8"/>
<rect x="1621.2" y="301.0" width="3.3" height="32.5" fill="#9fc5e8"/>
<rect x="1624.8" y="301.0" width="0.9" height="32.5" fill="#27598a"/>
<rect x="1633.8" y="301.0" width="1.0" height="32.5" fill="#27598a"/>
<rect x="1635.5" y="301.0" width="3.4" height="32.5" fill="#9fc5e8"/>
<rect x="1644.5" y="301.0" width="2.0" height="32.5" fill="#3b7bbb"/>
<rect x="1651.9" y="301.0" width="0.9" height="32.5" fill="#27598a"/>
<rect x="1664.0" y="301.0" width="3.3" height="32.5" fill="#9fc5e8"/>
<rect x="1668.7" y="301.0" width="1.0" height="32.5" fill="#27598a"/>
<rect x="1669.2" y="301.0" width="1.1" height="32.5" fill="#27598a"/>
<rect x="1683.2" y="301.0" width="3.0" height="32.5" fill="#9fc5e8"/>
<rect x="1691.1" y="301.0" width="2.5" height="32.5" fill="#3b7bbb"/>
<rect x="1699.7" y="301.0" width="3.7" height="32.5" fill="#9fc5e8"/>
<rect x="1707.7" y="301.0" width="1.6" height="32.5" fill="#3b7bbb"/>
<rect x="1712.1" y="301.0" width="1.0" height="32.5" fill="#27598a"/>
<rect x="1713.7" y="301.0" width="1.0" height="32.5" fill="#27598a"/>
<rect x="1720.5" y="301.0" width="1.3" height="32.5" fill="#27598a"/>
<rect x="1728.5" y="301.0" width="2.0" height="32.5" fill="#3b7bbb"/>
<rect x="1731.9" y="301.0" width="1.3" height="32.5" fill="#27598a"/>
<rect x="1745.9" y="301.0" width="2.3" height="32.5" fill="#3b7bbb"/>
<rect x="1747.0" y="301.0" width="1.6" height="32.5" fill="#3b7bbb"/>
<rect x="1749.6" y="301.0" width="1.6" height="32.5" fill="#3b7bbb"/>
<rect x="1751.5" y="301.0" width="2.1" height="32.5" fill="#3b7bbb"/>
<rect x="1765.5" y="301.0" width="0.9" height="32.5" fill="#27598a"/>
<rect x="1779.5" y="301.0" width="2.4" height="32.5" fill="#3b7bbb"/>
<rect x="1784.9" y="301.0" width="1.3" height="32.5" fill="#27598a"/>
<rect x="1789.5" y="301.0" width="2.3" height="32.5" fill="#9fc5e8"/>
<rect x="1791.7" y="301.0" width="1.7" height="32.5" fill="#3b7bbb"/>
<line x1="1181.9" y1="277.6" x2="1798" y2="277.6" stroke="#8a8a8a" stroke-width="1.2"/>
<path d="M1182.3,230.3 L1182.8,227.5 L1183.1,223.9 L1183.5,221.5 L1183.9,216.2 L1184.5,213.1 L1185.2,210.2 L1186.3,206.2 L1187.8,202.7 L1189.0,197.6 L1189.7,195.6 L1190.3,192.7 L1190.7,188.3 L1190.5,185.1 L1191.0,180.9 L1191.2,177.6 L1192.1,175.6 L1195.2,176.2 L1196.6,173.0 L1197.3,168.9 L1197.3,163.7 L1197.6,159.7 L1197.9,155.9 L1198.4,153.1 L1199.7,149.8 L1202.2,147.5 L1204.9,149.9 L1206.7,152.0 L1207.9,154.7 L1210.0,153.1 L1210.9,147.4 L1211.7,141.8 L1212.4,138.6 L1212.5,135.6 L1212.7,131.3 L1213.5,129.2 L1214.0,122.3 L1215.2,119.7 L1216.5,115.9 L1218.9,112.6 L1221.1,110.7 L1223.3,107.4 L1225.4,106.2 L1228.1,102.0 L1230.7,101.4 L1233.5,99.4 L1237.1,99.0 L1239.8,96.4 L1241.8,94.2 L1243.0,90.0 L1244.2,86.9 L1245.4,82.4 L1245.9,79.2 L1246.9,74.9 L1248.1,72.6 L1251.2,72.7 L1254.6,72.3 L1257.2,69.8 L1259.9,66.8 L1262.6,64.8 L1265.5,64.3 L1269.1,63.7 L1273.2,65.3 L1276.3,66.4 L1279.1,67.7 L1282.3,67.3 L1285.1,65.7 L1288.0,61.4 L1290.9,61.5 L1294.3,61.5 L1297.6,63.0 L1300.4,61.7 L1301.6,57.6 L1303.2,56.2 L1306.8,56.0 L1310.2,56.5 L1314.1,57.9 L1317.3,58.9 L1320.9,57.1 L1324.1,57.5 L1327.1,57.0 L1330.7,55.3 L1333.6,54.6 L1337.2,54.8 L1340.2,55.9 L1343.8,57.9 L1347.0,59.8 L1350.2,59.1 L1353.1,60.4 L1356.8,60.4 L1360.6,62.5 L1363.8,63.1 L1366.4,64.7 L1369.3,67.4 L1372.3,69.9 L1375.9,71.3 L1379.0,73.0 L1382.4,75.2 L1385.9,77.4 L1388.8,78.9 L1392.1,79.0 L1395.7,79.4 L1399.1,80.9 L1402.0,82.6 L1405.8,84.3 L1409.0,86.4 L1412.0,87.3 L1415.6,89.0 L1419.0,91.1 L1421.8,92.6 L1425.3,94.6 L1428.8,98.8 L1432.3,101.1 L1435.2,101.9 L1438.4,105.7 L1441.6,106.0 L1445.3,109.5 L1448.6,109.4 L1451.6,112.7 L1455.2,113.9 L1458.4,116.1 L1461.1,119.9 L1464.6,121.4 L1467.4,124.1 L1470.7,125.6 L1474.1,127.7 L1477.7,131.6 L1480.8,133.9 L1484.2,136.5 L1487.6,138.4 L1491.0,140.8 L1494.6,145.1 L1497.5,147.5 L1500.7,149.4 L1504.2,153.3 L1507.3,156.4 L1510.9,157.5 L1514.5,161.7 L1517.9,163.6 L1521.6,166.0 L1524.2,167.5 L1527.1,170.1 L1530.5,171.0 L1533.1,173.7 L1536.6,174.9 L1540.6,176.5 L1543.5,179.9 L1547.4,180.8 L1550.8,184.5 L1553.9,187.4 L1557.5,189.5 L1560.0,192.2 L1563.5,192.7 L1566.4,195.1 L1569.3,195.9 L1571.8,196.4 L1575.7,200.1 L1579.8,201.0 L1584.0,204.2 L1588.0,207.9 L1591.8,208.7 L1595.2,210.7 L1598.5,213.4 L1601.5,215.0 L1605.2,214.7 L1608.1,215.6 L1611.3,217.1 L1614.6,219.0 L1618.7,219.6 L1621.3,220.8 L1624.8,221.7 L1628.6,223.6 L1632.2,223.9 L1635.4,224.5 L1638.1,224.6 L1641.9,227.3 L1645.4,227.5 L1648.2,229.3 L1651.5,231.6 L1654.8,233.7 L1658.1,236.1 L1661.6,237.5 L1664.9,240.4 L1668.3,240.9 L1671.4,243.6 L1675.2,243.4 L1677.9,244.8 L1681.2,248.1 L1684.2,249.4 L1687.1,251.5 L1690.5,253.2 L1694.3,253.6 L1697.2,255.6 L1700.2,257.3 L1703.0,257.9 L1706.0,260.0 L1708.9,260.1 L1711.7,262.5 L1714.2,263.8 L1717.3,265.8 L1720.8,266.6 L1724.7,266.5 L1728.2,267.5 L1731.3,267.4 L1734.1,266.2 L1737.9,268.1 L1740.4,269.5 L1744.0,272.3 L1747.5,272.5 L1750.7,275.8 L1753.8,276.7 L1757.1,278.0 L1760.8,279.7 L1763.9,280.2 L1767.4,280.3 L1770.6,282.2 L1774.2,283.1 L1777.6,285.3 L1780.8,286.7 L1783.9,287.3 L1787.9,287.2 L1791.0,286.2 L1793.9,283.1 L1795.7,280.8 L1796.7,277.2 L1797.1,275.6" fill="none" stroke="#9ccb22" stroke-width="7" stroke-linejoin="round" stroke-linecap="round" clip-path="url(#ga2c)"/>
<path d="M1181.9,353.4 L1181.9,41.9 L1798,41.9 L1798,333.5" fill="none" stroke="#1a1a1a" stroke-width="1.6"/>
<line x1="1181.9" y1="301" x2="1798" y2="301" stroke="#1a1a1a" stroke-width="1.8"/>
<line x1="1181.9" y1="333.5" x2="1798" y2="333.5" stroke="#1a1a1a" stroke-width="1.8"/>
<line x1="1798" y1="333.5" x2="1798" y2="353.4" stroke="#222244" stroke-width="1.6"/>
<line x1="1176.9" y1="78" x2="1181.9" y2="78" stroke="#1a1a1a" stroke-width="1.3"/>
<text x="1144.0" y="65.4" font-size="22" text-anchor="start" textLength="30.58" lengthAdjust="spacingAndGlyphs" transform="translate(1144.0 65.4) scale(1 1.04) translate(-1144.0 -65.4)">0.6</text>
<line x1="1176.9" y1="178" x2="1181.9" y2="178" stroke="#1a1a1a" stroke-width="1.3"/>
<text x="1143.6" y="141.4" font-size="22" text-anchor="start" textLength="30.58" lengthAdjust="spacingAndGlyphs" transform="translate(1143.6 141.4) scale(1 1.04) translate(-1143.6 -141.4)">0.4</text>
<line x1="1176.9" y1="277.3" x2="1181.9" y2="277.3" stroke="#1a1a1a" stroke-width="1.3"/>
<text x="1144.0" y="216.8" font-size="22" text-anchor="start" textLength="30.58" lengthAdjust="spacingAndGlyphs" transform="translate(1144.0 216.8) scale(1 1.04) translate(-1144.0 -216.8)">0.2</text>
<text x="1143.8" y="292.1" font-size="22" text-anchor="start" textLength="30.58" lengthAdjust="spacingAndGlyphs" transform="translate(1143.8 292.1) scale(1 1.04) translate(-1143.8 -292.1)">0.0</text>
<text x="1133.6" y="304.7" font-size="32.5" text-anchor="start" textLength="236.46" lengthAdjust="spacingAndGlyphs" transform="rotate(-90 1133.6 304.7) translate(1133.6 304.7) scale(1 1.04) translate(-1133.6 -304.7)">Enrichment score</text>
<text x="1576.7" y="99.4" font-size="30.4" text-anchor="start" transform="translate(1576.7 99.4) scale(1 1.04) translate(-1576.7 -99.4)">NES: 1.233</text>
<text x="1576.7" y="133.5" font-size="30.4" text-anchor="start" transform="translate(1576.7 133.5) scale(1 1.04) translate(-1576.7 -133.5)">pval: &lt;1e-3</text>
<text x="1576.7" y="167.6" font-size="30.4" text-anchor="start" transform="translate(1576.7 167.6) scale(1 1.04) translate(-1576.7 -167.6)">FDR: &lt;1e-3</text>
<text x="1204.5" y="399.4" font-size="30.5" text-anchor="middle" transform="translate(1204.5 399.4) scale(1 1.04) translate(-1204.5 -399.4)">Avg. of MECOM</text>
<text x="1204.5" y="434.8" font-size="30.5" text-anchor="middle" transform="translate(1204.5 434.8) scale(1 1.04) translate(-1204.5 -434.8)">high AML</text>
<text x="1455.6" y="436.8" font-size="30.5" text-anchor="middle" transform="translate(1455.6 436.8) scale(1 1.04) translate(-1455.6 -436.8)">BEAT AML</text>
<text x="1705.3" y="399.4" font-size="30.5" text-anchor="middle" transform="translate(1705.3 399.4) scale(1 1.04) translate(-1705.3 -399.4)">Avg. of MECOM</text>
<text x="1705.3" y="434.8" font-size="30.5" text-anchor="middle" transform="translate(1705.3 434.8) scale(1 1.04) translate(-1705.3 -434.8)">low AML</text>
<line x1="1345.2" y1="394.3" x2="1565.5" y2="394.3" stroke="#111" stroke-width="2.2"/>
<path d="M1335.2,394.3 L1352.2,386.8 L1348.2,394.3 L1352.2,401.8 Z" fill="#111"/>
<path d="M1575.5,394.3 L1558.5,386.8 L1562.5,394.3 L1558.5,401.8 Z" fill="#111"/>
<text x="-3.0" y="518.7" font-size="39" text-anchor="start" font-weight="bold" transform="translate(-3.0 518.7) scale(1 1.04) translate(3.0 -518.7)">b</text>
<text x="744.6" y="518.7" font-size="39" text-anchor="start" font-weight="bold" transform="translate(744.6 518.7) scale(1 1.04) translate(-744.6 -518.7)">c</text>
<text x="1463.2" y="518.7" font-size="39" text-anchor="start" font-weight="bold" transform="translate(1463.2 518.7) scale(1 1.04) translate(-1463.2 -518.7)">d</text>
<defs><linearGradient id="gb" x1="0" x2="1" y1="0" y2="0"><stop offset="0" stop-color="#e8373a"/><stop offset="0.015" stop-color="#ef6268"/><stop offset="0.04" stop-color="#f58287"/><stop offset="0.16" stop-color="#fabec3"/><stop offset="0.26" stop-color="#fcd7da"/><stop offset="0.33" stop-color="#fde6e8"/><stop offset="0.41" stop-color="#fef5f5"/><stop offset="0.48" stop-color="#fefdfd"/><stop offset="0.55" stop-color="#f8f6fc"/><stop offset="0.67" stop-color="#e6e1f5"/><stop offset="0.84" stop-color="#cdc3f0"/><stop offset="0.93" stop-color="#a091dc"/><stop offset="0.97" stop-color="#6e5fc4"/><stop offset="1" stop-color="#413ca8"/></linearGradient><clipPath id="gbc"><rect x="108.4" y="552.1" width="584.8000000000001" height="246.10000000000002"/></clipPath></defs>
<rect x="108.4" y="828.6" width="584.8000000000001" height="30.100000000000023" fill="url(#gb)"/>
<rect x="108.4" y="798.2" width="584.8000000000001" height="30.399999999999977" fill="#f4fbff"/>
<rect x="253.7" y="798.2" width="2.3" height="30.4" fill="#3b7bbb"/>
<rect x="255.4" y="798.2" width="1.2" height="30.4" fill="#27598a"/>
<rect x="258.4" y="798.2" width="2.1" height="30.4" fill="#3b7bbb"/>
<rect x="258.9" y="798.2" width="1.0" height="30.4" fill="#27598a"/>
<rect x="260.6" y="798.2" width="1.2" height="30.4" fill="#27598a"/>
<rect x="261.0" y="798.2" width="0.9" height="30.4" fill="#27598a"/>
<rect x="266.6" y="798.2" width="2.6" height="30.4" fill="#3b7bbb"/>
<rect x="268.5" y="798.2" width="1.0" height="30.4" fill="#27598a"/>
<rect x="269.8" y="798.2" width="1.3" height="30.4" fill="#27598a"/>
<rect x="270.7" y="798.2" width="1.2" height="30.4" fill="#27598a"/>
<rect x="270.9" y="798.2" width="2.9" height="30.4" fill="#9fc5e8"/>
<rect x="272.5" y="798.2" width="1.1" height="30.4" fill="#27598a"/>
<rect x="272.9" y="798.2" width="1.2" height="30.4" fill="#27598a"/>
<rect x="273.4" y="798.2" width="1.7" height="30.4" fill="#3b7bbb"/>
<rect x="279.3" y="798.2" width="3.5" height="30.4" fill="#9fc5e8"/>
<rect x="282.2" y="798.2" width="2.4" height="30.4" fill="#3b7bbb"/>
<rect x="282.5" y="798.2" width="2.6" height="30.4" fill="#3b7bbb"/>
<rect x="282.9" y="798.2" width="3.8" height="30.4" fill="#9fc5e8"/>
<rect x="284.0" y="798.2" width="1.1" height="30.4" fill="#27598a"/>
<rect x="285.0" y="798.2" width="2.8" height="30.4" fill="#9fc5e8"/>
<rect x="285.1" y="798.2" width="1.2" height="30.4" fill="#27598a"/>
<rect x="291.2" y="798.2" width="2.1" height="30.4" fill="#3b7bbb"/>
<rect x="292.9" y="798.2" width="1.7" height="30.4" fill="#3b7bbb"/>
<rect x="294.9" y="798.2" width="2.3" height="30.4" fill="#3b7bbb"/>
<rect x="295.4" y="798.2" width="1.0" height="30.4" fill="#27598a"/>
<rect x="301.0" y="798.2" width="1.1" height="30.4" fill="#27598a"/>
<rect x="301.8" y="798.2" width="0.9" height="30.4" fill="#27598a"/>
<rect x="305.9" y="798.2" width="1.9" height="30.4" fill="#3b7bbb"/>
<rect x="311.7" y="798.2" width="2.7" height="30.4" fill="#3b7bbb"/>
<rect x="325.7" y="798.2" width="1.3" height="30.4" fill="#27598a"/>
<rect x="339.7" y="798.2" width="2.6" height="30.4" fill="#3b7bbb"/>
<rect x="343.1" y="798.2" width="1.0" height="30.4" fill="#27598a"/>
<rect x="353.5" y="798.2" width="0.9" height="30.4" fill="#27598a"/>
<rect x="388.7" y="798.2" width="2.6" height="30.4" fill="#3b7bbb"/>
<rect x="388.9" y="798.2" width="1.0" height="30.4" fill="#27598a"/>
<rect x="391.4" y="798.2" width="0.9" height="30.4" fill="#27598a"/>
<rect x="393.3" y="798.2" width="4.0" height="30.4" fill="#9fc5e8"/>
<rect x="399.5" y="798.2" width="1.8" height="30.4" fill="#3b7bbb"/>
<rect x="413.1" y="798.2" width="2.4" height="30.4" fill="#3b7bbb"/>
<rect x="413.3" y="798.2" width="1.2" height="30.4" fill="#27598a"/>
<rect x="420.5" y="798.2" width="3.2" height="30.4" fill="#9fc5e8"/>
<rect x="423.0" y="798.2" width="2.6" height="30.4" fill="#3b7bbb"/>
<rect x="424.7" y="798.2" width="1.8" height="30.4" fill="#3b7bbb"/>
<rect x="431.3" y="798.2" width="1.2" height="30.4" fill="#27598a"/>
<rect x="445.0" y="798.2" width="1.1" height="30.4" fill="#27598a"/>
<rect x="449.6" y="798.2" width="3.2" height="30.4" fill="#9fc5e8"/>
<rect x="451.0" y="798.2" width="1.3" height="30.4" fill="#27598a"/>
<rect x="461.7" y="798.2" width="0.9" height="30.4" fill="#27598a"/>
<rect x="462.2" y="798.2" width="1.1" height="30.4" fill="#27598a"/>
<rect x="462.9" y="798.2" width="3.3" height="30.4" fill="#9fc5e8"/>
<rect x="463.5" y="798.2" width="1.9" height="30.4" fill="#3b7bbb"/>
<rect x="466.6" y="798.2" width="1.0" height="30.4" fill="#27598a"/>
<rect x="467.5" y="798.2" width="1.2" height="30.4" fill="#27598a"/>
<rect x="471.1" y="798.2" width="1.2" height="30.4" fill="#27598a"/>
<rect x="480.5" y="798.2" width="2.5" height="30.4" fill="#3b7bbb"/>
<rect x="480.6" y="798.2" width="1.5" height="30.4" fill="#3b7bbb"/>
<rect x="487.1" y="798.2" width="1.2" height="30.4" fill="#27598a"/>
<rect x="488.5" y="798.2" width="1.8" height="30.4" fill="#3b7bbb"/>
<rect x="488.7" y="798.2" width="1.0" height="30.4" fill="#27598a"/>
<rect x="499.2" y="798.2" width="1.1" height="30.4" fill="#27598a"/>
<rect x="502.8" y="798.2" width="2.2" height="30.4" fill="#9fc5e8"/>
<rect x="507.0" y="798.2" width="2.4" height="30.4" fill="#3b7bbb"/>
<rect x="520.6" y="798.2" width="1.2" height="30.4" fill="#27598a"/>
<rect x="524.0" y="798.2" width="1.5" height="30.4" fill="#3b7bbb"/>
<rect x="531.6" y="798.2" width="2.7" height="30.4" fill="#9fc5e8"/>
<rect x="533.4" y="798.2" width="2.2" height="30.4" fill="#9fc5e8"/>
<rect x="533.7" y="798.2" width="1.2" height="30.4" fill="#27598a"/>
<rect x="540.2" y="798.2" width="1.1" height="30.4" fill="#27598a"/>
<rect x="540.3" y="798.2" width="2.0" height="30.4" fill="#3b7bbb"/>
<rect x="543.6" y="798.2" width="1.1" height="30.4" fill="#27598a"/>
<rect x="544.8" y="798.2" width="1.1" height="30.4" fill="#27598a"/>
<rect x="546.1" y="798.2" width="2.5" height="30.4" fill="#3b7bbb"/>
<rect x="551.9" y="798.2" width="1.7" height="30.4" fill="#3b7bbb"/>
<rect x="554.1" y="798.2" width="2.3" height="30.4" fill="#3b7bbb"/>
<rect x="567.8" y="798.2" width="1.1" height="30.4" fill="#27598a"/>
<rect x="570.9" y="798.2" width="2.6" height="30.4" fill="#3b7bbb"/>
<rect x="577.7" y="798.2" width="2.5" height="30.4" fill="#3b7bbb"/>
<rect x="582.7" y="798.2" width="3.4" height="30.4" fill="#9fc5e8"/>
<rect x="588.0" y="798.2" width="1.3" height="30.4" fill="#27598a"/>
<rect x="590.2" y="798.2" width="2.6" height="30.4" fill="#3b7bbb"/>
<rect x="603.8" y="798.2" width="2.0" height="30.4" fill="#9fc5e8"/>
<rect x="605.5" y="798.2" width="1.1" height="30.4" fill="#27598a"/>
<rect x="606.2" y="798.2" width="1.5" height="30.4" fill="#3b7bbb"/>
<rect x="607.9" y="798.2" width="3.5" height="30.4" fill="#9fc5e8"/>
<rect x="610.7" y="798.2" width="1.3" height="30.4" fill="#27598a"/>
<rect x="616.2" y="798.2" width="1.0" height="30.4" fill="#27598a"/>
<rect x="647.6" y="798.2" width="1.3" height="30.4" fill="#27598a"/>
<rect x="648.9" y="798.2" width="1.2" height="30.4" fill="#27598a"/>
<rect x="649.5" y="798.2" width="1.7" height="30.4" fill="#3b7bbb"/>
<rect x="652.5" y="798.2" width="1.1" height="30.4" fill="#27598a"/>
<rect x="661.9" y="798.2" width="2.0" height="30.4" fill="#3b7bbb"/>
<rect x="665.1" y="798.2" width="1.0" height="30.4" fill="#27598a"/>
<rect x="666.8" y="798.2" width="1.0" height="30.4" fill="#27598a"/>
<rect x="676.8" y="798.2" width="1.2" height="30.4" fill="#27598a"/>
<rect x="685.9" y="798.2" width="1.4" height="30.4" fill="#3b7bbb"/>
<rect x="688.2" y="798.2" width="1.1" height="30.4" fill="#27598a"/>
<rect x="692.2" y="798.2" width="0.5" height="30.4" fill="#27598a"/>
<rect x="108.4" y="798.2" width="143.3" height="30.399999999999977" fill="#3777b8"/>
<rect x="108.7" y="798.2" width="1.9" height="30.399999999999977" fill="#ffffff"/>
<rect x="110.0" y="798.2" width="1.3" height="30.399999999999977" fill="#a9cdee"/>
<rect x="118.7" y="798.2" width="1.1" height="30.399999999999977" fill="#a9cdee"/>
<rect x="119.3" y="798.2" width="1.0" height="30.399999999999977" fill="#a9cdee"/>
<rect x="119.8" y="798.2" width="1.9" height="30.399999999999977" fill="#8fbbe6"/>
<rect x="120.1" y="798.2" width="1.6" height="30.399999999999977" fill="#a9cdee"/>
<rect x="125.0" y="798.2" width="1.6" height="30.399999999999977" fill="#e8f4ff"/>
<rect x="127.9" y="798.2" width="1.9" height="30.399999999999977" fill="#ffffff"/>
<rect x="131.4" y="798.2" width="1.8" height="30.399999999999977" fill="#8fbbe6"/>
<rect x="132.9" y="798.2" width="1.8" height="30.399999999999977" fill="#a9cdee"/>
<rect x="133.9" y="798.2" width="1.9" height="30.399999999999977" fill="#ffffff"/>
<rect x="134.4" y="798.2" width="1.1" height="30.399999999999977" fill="#ffffff"/>
<rect x="134.5" y="798.2" width="1.4" height="30.399999999999977" fill="#ffffff"/>
<rect x="140.3" y="798.2" width="0.9" height="30.399999999999977" fill="#8fbbe6"/>
<rect x="141.6" y="798.2" width="1.1" height="30.399999999999977" fill="#a9cdee"/>
<rect x="143.0" y="798.2" width="0.8" height="30.399999999999977" fill="#ffffff"/>
<rect x="147.0" y="798.2" width="1.1" height="30.399999999999977" fill="#e8f4ff"/>
<rect x="148.1" y="798.2" width="0.8" height="30.399999999999977" fill="#e8f4ff"/>
<rect x="152.0" y="798.2" width="1.8" height="30.399999999999977" fill="#ffffff"/>
<rect x="152.5" y="798.2" width="1.6" height="30.399999999999977" fill="#8fbbe6"/>
<rect x="152.7" y="798.2" width="1.0" height="30.399999999999977" fill="#8fbbe6"/>
<rect x="154.8" y="798.2" width="1.1" height="30.399999999999977" fill="#a9cdee"/>
<rect x="155.0" y="798.2" width="1.2" height="30.399999999999977" fill="#ffffff"/>
<rect x="156.2" y="798.2" width="1.3" height="30.399999999999977" fill="#ffffff"/>
<rect x="157.5" y="798.2" width="1.7" height="30.399999999999977" fill="#a9cdee"/>
<rect x="159.2" y="798.2" width="1.4" height="30.399999999999977" fill="#a9cdee"/>
<rect x="159.3" y="798.2" width="1.0" height="30.399999999999977" fill="#ffffff"/>
<rect x="159.8" y="798.2" width="1.9" height="30.399999999999977" fill="#8fbbe6"/>
<rect x="162.3" y="798.2" width="1.3" height="30.399999999999977" fill="#e8f4ff"/>
<rect x="162.4" y="798.2" width="0.9" height="30.399999999999977" fill="#a9cdee"/>
<rect x="167.5" y="798.2" width="0.9" height="30.399999999999977" fill="#ffffff"/>
<rect x="167.7" y="798.2" width="1.0" height="30.399999999999977" fill="#e8f4ff"/>
<rect x="170.2" y="798.2" width="0.9" height="30.399999999999977" fill="#ffffff"/>
<rect x="172.8" y="798.2" width="1.8" height="30.399999999999977" fill="#8fbbe6"/>
<rect x="177.1" y="798.2" width="1.7" height="30.399999999999977" fill="#a9cdee"/>
<rect x="178.7" y="798.2" width="2.0" height="30.399999999999977" fill="#ffffff"/>
<rect x="179.8" y="798.2" width="1.9" height="30.399999999999977" fill="#a9cdee"/>
<rect x="183.9" y="798.2" width="1.0" height="30.399999999999977" fill="#ffffff"/>
<rect x="191.4" y="798.2" width="1.3" height="30.399999999999977" fill="#8fbbe6"/>
<rect x="200.9" y="798.2" width="1.0" height="30.399999999999977" fill="#ffffff"/>
<rect x="202.3" y="798.2" width="1.5" height="30.399999999999977" fill="#ffffff"/>
<rect x="210.2" y="798.2" width="0.9" height="30.399999999999977" fill="#ffffff"/>
<rect x="215.4" y="798.2" width="1.9" height="30.399999999999977" fill="#ffffff"/>
<rect x="217.8" y="798.2" width="1.3" height="30.399999999999977" fill="#ffffff"/>
<rect x="220.3" y="798.2" width="1.5" height="30.399999999999977" fill="#ffffff"/>
<rect x="221.6" y="798.2" width="1.5" height="30.399999999999977" fill="#ffffff"/>
<rect x="222.1" y="798.2" width="1.3" height="30.399999999999977" fill="#8fbbe6"/>
<rect x="228.3" y="798.2" width="1.0" height="30.399999999999977" fill="#ffffff"/>
<rect x="229.5" y="798.2" width="2.0" height="30.399999999999977" fill="#ffffff"/>
<rect x="231.5" y="798.2" width="1.3" height="30.399999999999977" fill="#ffffff"/>
<rect x="232.0" y="798.2" width="0.9" height="30.399999999999977" fill="#ffffff"/>
<rect x="232.0" y="798.2" width="1.7" height="30.399999999999977" fill="#ffffff"/>
<rect x="232.1" y="798.2" width="2.0" height="30.399999999999977" fill="#a9cdee"/>
<rect x="233.3" y="798.2" width="1.1" height="30.399999999999977" fill="#8fbbe6"/>
<rect x="233.4" y="798.2" width="1.8" height="30.399999999999977" fill="#ffffff"/>
<rect x="236.8" y="798.2" width="1.9" height="30.399999999999977" fill="#a9cdee"/>
<rect x="237.4" y="798.2" width="2.0" height="30.399999999999977" fill="#ffffff"/>
<rect x="241.7" y="798.2" width="1.3" height="30.399999999999977" fill="#e8f4ff"/>
<rect x="246.7" y="798.2" width="1.5" height="30.399999999999977" fill="#ffffff"/>
<rect x="247.7" y="798.2" width="0.8" height="30.399999999999977" fill="#8fbbe6"/>
<line x1="108.4" y1="758.3" x2="693.2" y2="758.3" stroke="#8a8a8a" stroke-width="1.2"/>
<path d="M109.5,759.3 L109.4,754.4 L109.9,750.6 L109.9,746.8 L110.3,742.0 L110.7,739.5 L111.4,734.0 L112.5,731.0 L113.8,729.7 L115.2,726.7 L116.4,722.9 L117.9,718.4 L119.2,713.3 L120.0,710.3 L120.7,705.9 L121.5,703.8 L121.7,700.1 L123.5,696.8 L124.7,693.9 L125.5,690.3 L126.0,687.9 L127.0,683.5 L127.2,679.7 L128.1,677.6 L128.7,672.5 L129.6,670.4 L131.0,667.5 L132.5,662.5 L133.6,661.1 L134.9,657.2 L136.4,653.5 L137.4,651.6 L139.0,647.3 L140.5,643.5 L141.9,641.2 L143.4,638.7 L145.1,634.6 L147.1,631.5 L148.5,629.6 L150.4,627.0 L152.5,623.2 L154.1,621.1 L155.9,617.2 L157.4,613.4 L158.5,610.0 L160.1,606.9 L161.1,604.5 L162.1,601.4 L163.4,598.3 L165.1,594.8 L166.3,591.9 L169.1,591.2 L172.4,589.3 L175.6,589.5 L179.0,590.0 L182.2,589.0 L183.8,586.0 L185.3,583.6 L186.7,580.0 L188.1,576.1 L189.8,574.1 L191.9,570.1 L193.9,568.0 L196.9,568.5 L200.3,566.7 L203.6,568.8 L206.3,568.8 L208.9,569.2 L211.8,567.4 L213.6,565.9 L217.1,563.8 L220.5,563.3 L224.3,565.0 L228.2,564.6 L231.3,566.1 L234.2,566.7 L237.5,565.6 L240.7,565.4 L243.8,565.8 L247.5,567.1 L250.6,568.0 L253.9,567.8 L256.6,569.8 L259.5,570.2 L263.2,572.9 L265.7,574.6 L268.8,575.6 L272.0,577.4 L275.3,579.2 L278.8,581.3 L281.7,582.3 L284.9,583.0 L288.2,584.7 L291.8,587.4 L295.6,590.6 L297.8,591.0 L300.6,592.6 L303.4,594.9 L306.4,595.7 L308.7,597.0 L311.2,598.6 L313.8,601.5 L316.5,602.8 L319.5,603.5 L321.9,606.0 L324.5,607.8 L326.9,610.1 L330.1,612.2 L332.6,613.3 L334.9,614.2 L337.6,616.2 L340.4,619.5 L342.8,620.7 L345.4,623.3 L348.3,624.4 L350.8,625.5 L353.7,627.8 L356.3,630.2 L358.9,631.2 L361.4,633.6 L363.7,635.9 L366.4,636.9 L368.9,638.7 L371.6,640.3 L374.6,641.9 L377.2,644.0 L379.8,646.9 L382.2,647.4 L385.2,649.6 L387.7,651.3 L390.5,654.5 L392.7,656.1 L395.3,658.0 L397.8,658.8 L400.4,661.7 L403.2,663.0 L406.1,664.2 L408.7,666.9 L411.3,668.0 L413.8,670.3 L416.7,671.2 L419.2,672.7 L421.6,674.2 L424.1,677.0 L427.3,678.9 L429.6,680.7 L431.9,680.9 L434.6,683.0 L437.7,684.1 L440.1,685.6 L442.6,686.8 L445.4,689.7 L448.2,691.4 L450.7,692.4 L453.5,694.4 L456.0,695.7 L458.8,697.4 L461.3,698.8 L464.9,700.9 L469.2,702.1 L473.2,705.1 L476.8,706.5 L480.8,709.1 L484.8,709.1 L488.6,710.5 L492.8,713.6 L496.6,716.0 L499.7,717.4 L502.4,717.8 L504.7,719.6 L508.4,722.9 L511.8,724.7 L515.1,724.4 L518.0,724.2 L521.6,726.3 L525.6,727.3 L528.4,727.4 L530.9,728.5 L535.2,730.5 L538.1,731.6 L541.3,733.9 L544.3,735.3 L547.3,736.4 L550.5,738.5 L553.9,740.2 L557.0,739.7 L559.8,742.1 L563.1,744.3 L566.3,745.8 L569.2,745.8 L572.5,749.3 L576.5,750.3 L580.5,751.4 L583.1,753.6 L585.6,754.1 L589.5,756.5 L593.5,757.9 L597.9,761.3 L601.4,763.4 L605.3,764.6 L609.4,765.9 L613.4,768.0 L617.1,771.1 L620.2,771.6 L622.8,773.0 L625.8,776.5 L628.4,777.7 L631.2,780.3 L634.0,782.5 L636.9,783.0 L640.1,783.5 L642.8,782.4 L645.6,781.0 L649.4,781.6 L652.4,780.2 L655.5,779.2 L658.9,777.4 L662.3,777.4 L665.4,776.5 L668.8,773.9 L671.6,773.5 L674.9,774.9 L677.2,776.6 L679.9,777.3 L682.6,776.9 L685.1,773.3 L686.6,770.4 L687.5,768.4 L688.6,763.1 L689.1,760.7 L689.3,759.3" fill="none" stroke="#9ccb22" stroke-width="7" stroke-linejoin="round" stroke-linecap="round" clip-path="url(#gbc)"/>
<path d="M108.4,858.7 L108.4,552.1 L693.2,552.1 L693.2,828.6" fill="none" stroke="#1a1a1a" stroke-width="1.6"/>
<line x1="108.4" y1="798.2" x2="693.2" y2="798.2" stroke="#1a1a1a" stroke-width="1.8"/>
<line x1="108.4" y1="828.6" x2="693.2" y2="828.6" stroke="#1a1a1a" stroke-width="1.8"/>
<line x1="693.2" y1="828.6" x2="693.2" y2="858.7" stroke="#222244" stroke-width="1.6"/>
<line x1="103.4" y1="592.8" x2="108.4" y2="592.8" stroke="#1a1a1a" stroke-width="1.3"/>
<text x="68.3" y="600.7" font-size="22" text-anchor="start" textLength="31.19" lengthAdjust="spacingAndGlyphs" transform="translate(68.3 600.7) scale(1 1.04) translate(-68.3 -600.7)">0.4</text>
<line x1="103.4" y1="675.6" x2="108.4" y2="675.6" stroke="#1a1a1a" stroke-width="1.3"/>
<text x="68.7" y="683.7" font-size="22" text-anchor="start" textLength="31.19" lengthAdjust="spacingAndGlyphs" transform="translate(68.7 683.7) scale(1 1.04) translate(-68.7 -683.7)">0.2</text>
<line x1="103.4" y1="758" x2="108.4" y2="758" stroke="#1a1a1a" stroke-width="1.3"/>
<text x="87.1" y="766.3" font-size="22" text-anchor="start" textLength="12.48" lengthAdjust="spacingAndGlyphs" transform="translate(87.1 766.3) scale(1 1.04) translate(-87.1 -766.3)">0</text>
<text x="43.6" y="808.9" font-size="32.5" text-anchor="start" textLength="235.44" lengthAdjust="spacingAndGlyphs" transform="rotate(-90 43.6 808.9) translate(43.6 808.9) scale(1 1.04) translate(-43.6 -808.9)">Enrichment score</text>
<text x="520.4" y="603.7" font-size="30.5" text-anchor="start" transform="translate(520.4 603.7) scale(1 1.04) translate(-520.4 -603.7)">NES: 2.326</text>
<text x="520.4" y="637.5" font-size="30.5" text-anchor="start" transform="translate(520.4 637.5) scale(1 1.04) translate(-520.4 -637.5)">pval: &lt;1e-3</text>
<text x="520.4" y="671.3" font-size="30.5" text-anchor="start" transform="translate(520.4 671.3) scale(1 1.04) translate(-520.4 -671.3)">FDR: &lt;1e-3</text>
<text x="406.0" y="536.7" font-size="34.3" text-anchor="middle" transform="translate(406.0 536.7) scale(1 1.04) translate(-406.0 -536.7)">MECOM down genes</text>
<text x="145.5" y="904.4" font-size="30.5" text-anchor="middle" transform="translate(145.5 904.4) scale(1 1.04) translate(-145.5 -904.4)">Patient</text>
<text x="148.5" y="939.9" font-size="30.5" text-anchor="middle" transform="translate(148.5 939.9) scale(1 1.04) translate(-148.5 -939.9)">2896</text>
<text x="400.4" y="941.4" font-size="30.5" text-anchor="middle" transform="translate(400.4 941.4) scale(1 1.04) translate(-400.4 -941.4)">TCGA AML</text>
<text x="633.9" y="904.4" font-size="30.5" text-anchor="middle" transform="translate(633.9 904.4) scale(1 1.04) translate(-633.9 -904.4)">Average</text>
<text x="638.2" y="939.9" font-size="30.5" text-anchor="middle" transform="translate(638.2 939.9) scale(1 1.04) translate(-638.2 -939.9)">of all</text>
<text x="394.3" y="1004.8" font-size="30.5" text-anchor="middle" transform="translate(394.3 1004.8) scale(1 1.04) translate(-394.3 -1004.8)">MECOM network: enriched</text>
<text x="390.5" y="1039.2" font-size="30.5" text-anchor="middle" transform="translate(390.5 1039.2) scale(1 1.04) translate(-390.5 -1039.2)">Overall survival: 230 days</text>
<line x1="289.9" y1="899.1" x2="508.9" y2="899.1" stroke="#111" stroke-width="2.2"/>
<path d="M279.9,899.1 L296.9,891.6 L292.9,899.1 L296.9,906.6 Z" fill="#111"/>
<path d="M518.9,899.1 L501.9,891.6 L505.9,899.1 L501.9,906.6 Z" fill="#111"/>
<defs><linearGradient id="gc" x1="0" x2="1" y1="0" y2="0"><stop offset="0" stop-color="#e8373a"/><stop offset="0.015" stop-color="#f27a80"/><stop offset="0.07" stop-color="#f9aaaf"/><stop offset="0.19" stop-color="#fbcdd2"/><stop offset="0.28" stop-color="#fde1e4"/><stop offset="0.38" stop-color="#fef0f0"/><stop offset="0.45" stop-color="#fefcfc"/><stop offset="0.55" stop-color="#fafafc"/><stop offset="0.7" stop-color="#ebe8f8"/><stop offset="0.83" stop-color="#dcd2f5"/><stop offset="0.92" stop-color="#b4aae6"/><stop offset="0.97" stop-color="#7a6cc8"/><stop offset="1" stop-color="#4a40a8"/></linearGradient><clipPath id="gcc"><rect x="836.5" y="550.3" width="590.8" height="249.30000000000007"/></clipPath></defs>
<rect x="836.5" y="829.8" width="590.8" height="30.300000000000068" fill="url(#gc)"/>
<rect x="836.5" y="799.6" width="590.8" height="30.199999999999932" fill="#f4fbff"/>
<rect x="837.7" y="799.6" width="1.1" height="30.2" fill="#27598a"/>
<rect x="851.7" y="799.6" width="0.9" height="30.2" fill="#27598a"/>
<rect x="855.0" y="799.6" width="1.6" height="30.2" fill="#3b7bbb"/>
<rect x="869.0" y="799.6" width="1.6" height="30.2" fill="#3b7bbb"/>
<rect x="904.2" y="799.6" width="1.3" height="30.2" fill="#27598a"/>
<rect x="904.8" y="799.6" width="1.3" height="30.2" fill="#27598a"/>
<rect x="907.6" y="799.6" width="1.0" height="30.2" fill="#27598a"/>
<rect x="910.1" y="799.6" width="2.4" height="30.2" fill="#9fc5e8"/>
<rect x="911.5" y="799.6" width="2.2" height="30.2" fill="#3b7bbb"/>
<rect x="925.5" y="799.6" width="2.7" height="30.2" fill="#9fc5e8"/>
<rect x="926.7" y="799.6" width="4.0" height="30.2" fill="#9fc5e8"/>
<rect x="926.9" y="799.6" width="2.6" height="30.2" fill="#3b7bbb"/>
<rect x="932.5" y="799.6" width="1.2" height="30.2" fill="#27598a"/>
<rect x="939.6" y="799.6" width="1.2" height="30.2" fill="#27598a"/>
<rect x="940.9" y="799.6" width="1.0" height="30.2" fill="#27598a"/>
<rect x="943.0" y="799.6" width="1.2" height="30.2" fill="#27598a"/>
<rect x="952.6" y="799.6" width="4.0" height="30.2" fill="#9fc5e8"/>
<rect x="966.6" y="799.6" width="1.8" height="30.2" fill="#3b7bbb"/>
<rect x="967.6" y="799.6" width="2.2" height="30.2" fill="#3b7bbb"/>
<rect x="973.4" y="799.6" width="1.0" height="30.2" fill="#27598a"/>
<rect x="986.5" y="799.6" width="2.4" height="30.2" fill="#3b7bbb"/>
<rect x="987.0" y="799.6" width="1.3" height="30.2" fill="#27598a"/>
<rect x="992.3" y="799.6" width="2.4" height="30.2" fill="#9fc5e8"/>
<rect x="995.4" y="799.6" width="2.9" height="30.2" fill="#9fc5e8"/>
<rect x="1003.2" y="799.6" width="1.6" height="30.2" fill="#3b7bbb"/>
<rect x="1003.7" y="799.6" width="2.2" height="30.2" fill="#9fc5e8"/>
<rect x="1004.8" y="799.6" width="1.2" height="30.2" fill="#27598a"/>
<rect x="1014.4" y="799.6" width="2.1" height="30.2" fill="#3b7bbb"/>
<rect x="1022.0" y="799.6" width="1.0" height="30.2" fill="#27598a"/>
<rect x="1026.7" y="799.6" width="1.5" height="30.2" fill="#3b7bbb"/>
<rect x="1027.3" y="799.6" width="1.2" height="30.2" fill="#27598a"/>
<rect x="1033.0" y="799.6" width="3.5" height="30.2" fill="#9fc5e8"/>
<rect x="1034.5" y="799.6" width="2.8" height="30.2" fill="#3b7bbb"/>
<rect x="1036.5" y="799.6" width="1.1" height="30.2" fill="#27598a"/>
<rect x="1038.1" y="799.6" width="0.9" height="30.2" fill="#27598a"/>
<rect x="1038.8" y="799.6" width="2.1" height="30.2" fill="#9fc5e8"/>
<rect x="1043.4" y="799.6" width="1.0" height="30.2" fill="#27598a"/>
<rect x="1051.6" y="799.6" width="1.0" height="30.2" fill="#27598a"/>
<rect x="1054.5" y="799.6" width="2.1" height="30.2" fill="#3b7bbb"/>
<rect x="1063.8" y="799.6" width="1.1" height="30.2" fill="#27598a"/>
<rect x="1069.8" y="799.6" width="2.4" height="30.2" fill="#3b7bbb"/>
<rect x="1072.7" y="799.6" width="0.9" height="30.2" fill="#27598a"/>
<rect x="1079.9" y="799.6" width="2.7" height="30.2" fill="#3b7bbb"/>
<rect x="1085.3" y="799.6" width="1.6" height="30.2" fill="#3b7bbb"/>
<rect x="1094.1" y="799.6" width="1.1" height="30.2" fill="#27598a"/>
<rect x="1094.8" y="799.6" width="1.0" height="30.2" fill="#27598a"/>
<rect x="1097.4" y="799.6" width="2.2" height="30.2" fill="#3b7bbb"/>
<rect x="1098.6" y="799.6" width="2.4" height="30.2" fill="#3b7bbb"/>
<rect x="1106.7" y="799.6" width="1.1" height="30.2" fill="#27598a"/>
<rect x="1115.8" y="799.6" width="1.0" height="30.2" fill="#27598a"/>
<rect x="1121.4" y="799.6" width="1.1" height="30.2" fill="#27598a"/>
<rect x="1126.5" y="799.6" width="1.0" height="30.2" fill="#27598a"/>
<rect x="1127.1" y="799.6" width="1.2" height="30.2" fill="#27598a"/>
<rect x="1128.4" y="799.6" width="1.5" height="30.2" fill="#3b7bbb"/>
<rect x="1129.1" y="799.6" width="2.1" height="30.2" fill="#3b7bbb"/>
<rect x="1130.9" y="799.6" width="2.6" height="30.2" fill="#9fc5e8"/>
<rect x="1131.4" y="799.6" width="1.1" height="30.2" fill="#27598a"/>
<rect x="1132.3" y="799.6" width="1.4" height="30.2" fill="#3b7bbb"/>
<rect x="1132.3" y="799.6" width="1.2" height="30.2" fill="#27598a"/>
<rect x="1133.2" y="799.6" width="3.2" height="30.2" fill="#9fc5e8"/>
<rect x="1134.5" y="799.6" width="1.7" height="30.2" fill="#3b7bbb"/>
<rect x="1136.8" y="799.6" width="3.1" height="30.2" fill="#9fc5e8"/>
<rect x="1137.8" y="799.6" width="1.1" height="30.2" fill="#27598a"/>
<rect x="1138.3" y="799.6" width="1.1" height="30.2" fill="#27598a"/>
<rect x="1145.2" y="799.6" width="2.1" height="30.2" fill="#3b7bbb"/>
<rect x="1150.0" y="799.6" width="1.1" height="30.2" fill="#27598a"/>
<rect x="1152.7" y="799.6" width="1.7" height="30.2" fill="#3b7bbb"/>
<rect x="1153.9" y="799.6" width="2.5" height="30.2" fill="#9fc5e8"/>
<rect x="1156.8" y="799.6" width="1.3" height="30.2" fill="#27598a"/>
<rect x="1159.5" y="799.6" width="1.3" height="30.2" fill="#27598a"/>
<rect x="1163.2" y="799.6" width="1.0" height="30.2" fill="#27598a"/>
<rect x="1164.8" y="799.6" width="2.3" height="30.2" fill="#9fc5e8"/>
<rect x="1164.9" y="799.6" width="0.9" height="30.2" fill="#27598a"/>
<rect x="1166.1" y="799.6" width="2.0" height="30.2" fill="#3b7bbb"/>
<rect x="1166.5" y="799.6" width="1.2" height="30.2" fill="#27598a"/>
<rect x="1167.8" y="799.6" width="2.1" height="30.2" fill="#3b7bbb"/>
<rect x="1170.5" y="799.6" width="3.7" height="30.2" fill="#9fc5e8"/>
<rect x="1173.4" y="799.6" width="1.0" height="30.2" fill="#27598a"/>
<rect x="1173.6" y="799.6" width="2.1" height="30.2" fill="#9fc5e8"/>
<rect x="1175.5" y="799.6" width="2.6" height="30.2" fill="#9fc5e8"/>
<rect x="1176.7" y="799.6" width="1.3" height="30.2" fill="#27598a"/>
<rect x="1179.2" y="799.6" width="2.1" height="30.2" fill="#9fc5e8"/>
<rect x="1182.2" y="799.6" width="2.0" height="30.2" fill="#3b7bbb"/>
<rect x="1185.9" y="799.6" width="2.7" height="30.2" fill="#3b7bbb"/>
<rect x="1188.9" y="799.6" width="2.9" height="30.2" fill="#9fc5e8"/>
<rect x="1190.7" y="799.6" width="2.0" height="30.2" fill="#3b7bbb"/>
<rect x="1191.0" y="799.6" width="2.6" height="30.2" fill="#3b7bbb"/>
<rect x="1195.4" y="799.6" width="1.1" height="30.2" fill="#27598a"/>
<rect x="1196.0" y="799.6" width="1.3" height="30.2" fill="#27598a"/>
<rect x="1197.2" y="799.6" width="1.0" height="30.2" fill="#27598a"/>
<rect x="1198.4" y="799.6" width="1.9" height="30.2" fill="#3b7bbb"/>
<rect x="1198.8" y="799.6" width="1.0" height="30.2" fill="#27598a"/>
<rect x="1203.9" y="799.6" width="1.2" height="30.2" fill="#27598a"/>
<rect x="1204.1" y="799.6" width="1.8" height="30.2" fill="#3b7bbb"/>
<rect x="1207.3" y="799.6" width="0.9" height="30.2" fill="#27598a"/>
<rect x="1207.5" y="799.6" width="2.2" height="30.2" fill="#3b7bbb"/>
<rect x="1208.9" y="799.6" width="1.2" height="30.2" fill="#27598a"/>
<rect x="1210.3" y="799.6" width="1.1" height="30.2" fill="#27598a"/>
<rect x="1211.1" y="799.6" width="3.1" height="30.2" fill="#9fc5e8"/>
<rect x="1214.2" y="799.6" width="1.2" height="30.2" fill="#27598a"/>
<rect x="1216.1" y="799.6" width="3.8" height="30.2" fill="#9fc5e8"/>
<rect x="1217.8" y="799.6" width="2.5" height="30.2" fill="#3b7bbb"/>
<rect x="1218.4" y="799.6" width="2.5" height="30.2" fill="#3b7bbb"/>
<rect x="1220.3" y="799.6" width="2.6" height="30.2" fill="#3b7bbb"/>
<rect x="1226.4" y="799.6" width="0.9" height="30.2" fill="#27598a"/>
<rect x="1228.3" y="799.6" width="1.3" height="30.2" fill="#27598a"/>
<rect x="1229.6" y="799.6" width="2.5" height="30.2" fill="#3b7bbb"/>
<rect x="1233.7" y="799.6" width="1.1" height="30.2" fill="#27598a"/>
<rect x="1234.1" y="799.6" width="1.6" height="30.2" fill="#3b7bbb"/>
<rect x="1238.2" y="799.6" width="1.1" height="30.2" fill="#27598a"/>
<rect x="1242.7" y="799.6" width="2.7" height="30.2" fill="#9fc5e8"/>
<rect x="1244.1" y="799.6" width="1.7" height="30.2" fill="#3b7bbb"/>
<rect x="1244.4" y="799.6" width="2.3" height="30.2" fill="#9fc5e8"/>
<rect x="1246.8" y="799.6" width="2.2" height="30.2" fill="#3b7bbb"/>
<rect x="1247.6" y="799.6" width="3.6" height="30.2" fill="#9fc5e8"/>
<rect x="1247.7" y="799.6" width="3.3" height="30.2" fill="#9fc5e8"/>
<rect x="1248.4" y="799.6" width="0.9" height="30.2" fill="#27598a"/>
<rect x="1251.6" y="799.6" width="2.7" height="30.2" fill="#9fc5e8"/>
<rect x="1252.0" y="799.6" width="1.1" height="30.2" fill="#27598a"/>
<rect x="1252.7" y="799.6" width="1.0" height="30.2" fill="#27598a"/>
<rect x="1256.0" y="799.6" width="1.1" height="30.2" fill="#27598a"/>
<rect x="1257.3" y="799.6" width="0.9" height="30.2" fill="#27598a"/>
<rect x="1257.5" y="799.6" width="1.3" height="30.2" fill="#27598a"/>
<rect x="1261.2" y="799.6" width="2.7" height="30.2" fill="#3b7bbb"/>
<rect x="1262.0" y="799.6" width="1.2" height="30.2" fill="#27598a"/>
<rect x="1263.7" y="799.6" width="2.7" height="30.2" fill="#9fc5e8"/>
<rect x="1264.7" y="799.6" width="2.6" height="30.2" fill="#3b7bbb"/>
<rect x="1265.1" y="799.6" width="0.9" height="30.2" fill="#27598a"/>
<rect x="1266.6" y="799.6" width="3.1" height="30.2" fill="#9fc5e8"/>
<rect x="1266.9" y="799.6" width="2.3" height="30.2" fill="#3b7bbb"/>
<rect x="1267.1" y="799.6" width="3.3" height="30.2" fill="#9fc5e8"/>
<rect x="1268.3" y="799.6" width="1.0" height="30.2" fill="#27598a"/>
<rect x="1269.5" y="799.6" width="1.0" height="30.2" fill="#27598a"/>
<rect x="1271.4" y="799.6" width="2.7" height="30.2" fill="#3b7bbb"/>
<rect x="1277.0" y="799.6" width="2.4" height="30.2" fill="#3b7bbb"/>
<rect x="1277.8" y="799.6" width="1.1" height="30.2" fill="#27598a"/>
<rect x="1283.3" y="799.6" width="1.1" height="30.2" fill="#27598a"/>
<rect x="1284.1" y="799.6" width="3.9" height="30.2" fill="#9fc5e8"/>
<rect x="1285.2" y="799.6" width="1.1" height="30.2" fill="#27598a"/>
<rect x="1286.8" y="799.6" width="2.5" height="30.2" fill="#3b7bbb"/>
<rect x="1287.9" y="799.6" width="2.5" height="30.2" fill="#3b7bbb"/>
<rect x="1288.0" y="799.6" width="1.2" height="30.2" fill="#27598a"/>
<rect x="1293.3" y="799.6" width="2.6" height="30.2" fill="#9fc5e8"/>
<rect x="1298.7" y="799.6" width="1.1" height="30.2" fill="#27598a"/>
<rect x="1299.0" y="799.6" width="1.9" height="30.2" fill="#3b7bbb"/>
<rect x="1301.0" y="799.6" width="2.3" height="30.2" fill="#9fc5e8"/>
<rect x="1302.9" y="799.6" width="1.8" height="30.2" fill="#3b7bbb"/>
<rect x="1302.9" y="799.6" width="3.4" height="30.2" fill="#9fc5e8"/>
<rect x="1304.6" y="799.6" width="1.3" height="30.2" fill="#27598a"/>
<rect x="1305.5" y="799.6" width="2.2" height="30.2" fill="#3b7bbb"/>
<rect x="1306.5" y="799.6" width="2.9" height="30.2" fill="#9fc5e8"/>
<rect x="1308.5" y="799.6" width="2.7" height="30.2" fill="#3b7bbb"/>
<rect x="1308.8" y="799.6" width="1.3" height="30.2" fill="#27598a"/>
<rect x="1310.4" y="799.6" width="1.3" height="30.2" fill="#27598a"/>
<rect x="1310.7" y="799.6" width="0.9" height="30.2" fill="#27598a"/>
<rect x="1312.6" y="799.6" width="1.8" height="30.2" fill="#3b7bbb"/>
<rect x="1313.6" y="799.6" width="1.2" height="30.2" fill="#27598a"/>
<rect x="1316.0" y="799.6" width="1.2" height="30.2" fill="#27598a"/>
<rect x="1316.1" y="799.6" width="1.6" height="30.2" fill="#3b7bbb"/>
<rect x="1316.3" y="799.6" width="1.5" height="30.2" fill="#3b7bbb"/>
<rect x="1316.4" y="799.6" width="1.1" height="30.2" fill="#27598a"/>
<rect x="1319.4" y="799.6" width="0.9" height="30.2" fill="#27598a"/>
<rect x="1321.9" y="799.6" width="4.0" height="30.2" fill="#9fc5e8"/>
<rect x="1322.0" y="799.6" width="1.1" height="30.2" fill="#27598a"/>
<rect x="1327.0" y="799.6" width="2.6" height="30.2" fill="#3b7bbb"/>
<rect x="1327.5" y="799.6" width="2.4" height="30.2" fill="#3b7bbb"/>
<rect x="1327.9" y="799.6" width="2.6" height="30.2" fill="#3b7bbb"/>
<rect x="1330.7" y="799.6" width="2.6" height="30.2" fill="#3b7bbb"/>
<rect x="1335.7" y="799.6" width="1.7" height="30.2" fill="#3b7bbb"/>
<rect x="1336.1" y="799.6" width="1.3" height="30.2" fill="#27598a"/>
<rect x="1337.5" y="799.6" width="2.6" height="30.2" fill="#3b7bbb"/>
<rect x="1339.4" y="799.6" width="1.1" height="30.2" fill="#27598a"/>
<rect x="1339.6" y="799.6" width="1.0" height="30.2" fill="#27598a"/>
<rect x="1342.2" y="799.6" width="2.2" height="30.2" fill="#3b7bbb"/>
<rect x="1343.0" y="799.6" width="1.1" height="30.2" fill="#27598a"/>
<rect x="1343.1" y="799.6" width="1.3" height="30.2" fill="#27598a"/>
<rect x="1345.8" y="799.6" width="1.1" height="30.2" fill="#27598a"/>
<rect x="1348.0" y="799.6" width="1.0" height="30.2" fill="#27598a"/>
<rect x="1349.5" y="799.6" width="1.3" height="30.2" fill="#27598a"/>
<rect x="1349.5" y="799.6" width="3.3" height="30.2" fill="#9fc5e8"/>
<rect x="1350.3" y="799.6" width="1.2" height="30.2" fill="#27598a"/>
<rect x="1352.3" y="799.6" width="1.0" height="30.2" fill="#27598a"/>
<rect x="1352.5" y="799.6" width="2.0" height="30.2" fill="#3b7bbb"/>
<rect x="1353.1" y="799.6" width="1.8" height="30.2" fill="#3b7bbb"/>
<rect x="1353.3" y="799.6" width="2.6" height="30.2" fill="#3b7bbb"/>
<rect x="1356.0" y="799.6" width="2.4" height="30.2" fill="#3b7bbb"/>
<rect x="1359.1" y="799.6" width="1.0" height="30.2" fill="#27598a"/>
<rect x="1359.8" y="799.6" width="1.9" height="30.2" fill="#3b7bbb"/>
<rect x="1362.1" y="799.6" width="1.3" height="30.2" fill="#27598a"/>
<rect x="1363.0" y="799.6" width="2.3" height="30.2" fill="#3b7bbb"/>
<rect x="1365.7" y="799.6" width="1.7" height="30.2" fill="#3b7bbb"/>
<rect x="1366.6" y="799.6" width="1.5" height="30.2" fill="#3b7bbb"/>
<rect x="1369.4" y="799.6" width="1.3" height="30.2" fill="#27598a"/>
<rect x="1370.1" y="799.6" width="3.4" height="30.2" fill="#9fc5e8"/>
<rect x="1370.9" y="799.6" width="1.4" height="30.2" fill="#3b7bbb"/>
<rect x="1371.0" y="799.6" width="1.8" height="30.2" fill="#3b7bbb"/>
<rect x="1371.9" y="799.6" width="2.1" height="30.2" fill="#3b7bbb"/>
<rect x="1373.3" y="799.6" width="2.6" height="30.2" fill="#3b7bbb"/>
<rect x="1373.5" y="799.6" width="3.5" height="30.2" fill="#9fc5e8"/>
<rect x="1373.9" y="799.6" width="1.0" height="30.2" fill="#27598a"/>
<rect x="1374.0" y="799.6" width="2.8" height="30.2" fill="#3b7bbb"/>
<rect x="1375.1" y="799.6" width="1.0" height="30.2" fill="#27598a"/>
<rect x="1379.7" y="799.6" width="1.7" height="30.2" fill="#3b7bbb"/>
<rect x="1383.4" y="799.6" width="1.3" height="30.2" fill="#27598a"/>
<rect x="1384.5" y="799.6" width="1.0" height="30.2" fill="#27598a"/>
<rect x="1384.5" y="799.6" width="2.7" height="30.2" fill="#9fc5e8"/>
<rect x="1386.5" y="799.6" width="2.8" height="30.2" fill="#9fc5e8"/>
<rect x="1387.6" y="799.6" width="2.3" height="30.2" fill="#3b7bbb"/>
<rect x="1388.3" y="799.6" width="1.0" height="30.2" fill="#27598a"/>
<rect x="1388.3" y="799.6" width="2.3" height="30.2" fill="#3b7bbb"/>
<rect x="1390.6" y="799.6" width="1.2" height="30.2" fill="#27598a"/>
<rect x="1391.8" y="799.6" width="3.1" height="30.2" fill="#9fc5e8"/>
<rect x="1393.5" y="799.6" width="1.7" height="30.2" fill="#3b7bbb"/>
<rect x="1393.6" y="799.6" width="3.4" height="30.2" fill="#9fc5e8"/>
<rect x="1394.7" y="799.6" width="2.4" height="30.2" fill="#9fc5e8"/>
<rect x="1396.7" y="799.6" width="1.5" height="30.2" fill="#3b7bbb"/>
<rect x="1396.9" y="799.6" width="1.0" height="30.2" fill="#27598a"/>
<rect x="1399.1" y="799.6" width="1.5" height="30.2" fill="#3b7bbb"/>
<rect x="1400.1" y="799.6" width="3.6" height="30.2" fill="#9fc5e8"/>
<rect x="1400.7" y="799.6" width="1.9" height="30.2" fill="#3b7bbb"/>
<rect x="1401.1" y="799.6" width="1.4" height="30.2" fill="#3b7bbb"/>
<rect x="1402.0" y="799.6" width="3.5" height="30.2" fill="#9fc5e8"/>
<rect x="1403.6" y="799.6" width="3.9" height="30.2" fill="#9fc5e8"/>
<rect x="1404.1" y="799.6" width="3.8" height="30.2" fill="#9fc5e8"/>
<rect x="1405.1" y="799.6" width="1.1" height="30.2" fill="#27598a"/>
<rect x="1406.1" y="799.6" width="2.5" height="30.2" fill="#9fc5e8"/>
<rect x="1407.9" y="799.6" width="2.2" height="30.2" fill="#3b7bbb"/>
<rect x="1408.4" y="799.6" width="2.5" height="30.2" fill="#9fc5e8"/>
<rect x="1411.3" y="799.6" width="3.1" height="30.2" fill="#9fc5e8"/>
<rect x="1411.4" y="799.6" width="0.9" height="30.2" fill="#27598a"/>
<rect x="1411.7" y="799.6" width="1.1" height="30.2" fill="#27598a"/>
<rect x="1414.1" y="799.6" width="1.2" height="30.2" fill="#27598a"/>
<rect x="1414.2" y="799.6" width="1.4" height="30.2" fill="#3b7bbb"/>
<rect x="1414.9" y="799.6" width="3.7" height="30.2" fill="#9fc5e8"/>
<rect x="1415.0" y="799.6" width="1.3" height="30.2" fill="#27598a"/>
<rect x="1415.2" y="799.6" width="1.8" height="30.2" fill="#3b7bbb"/>
<rect x="1415.8" y="799.6" width="1.6" height="30.2" fill="#3b7bbb"/>
<rect x="1416.0" y="799.6" width="3.5" height="30.2" fill="#9fc5e8"/>
<rect x="1417.3" y="799.6" width="1.0" height="30.2" fill="#27598a"/>
<rect x="1418.7" y="799.6" width="1.4" height="30.2" fill="#3b7bbb"/>
<rect x="1423.1" y="799.6" width="1.0" height="30.2" fill="#27598a"/>
<rect x="1424.5" y="799.6" width="2.3" height="30.2" fill="#9fc5e8"/>
<rect x="1425.5" y="799.6" width="1.1" height="30.2" fill="#27598a"/>
<line x1="836.5" y1="568.9" x2="1427.3" y2="568.9" stroke="#8a8a8a" stroke-width="1.2"/>
<path d="M838.8,570.2 L839.5,566.8 L840.4,562.8 L842.5,562.3 L844.9,564.2 L847.5,566.3 L850.1,568.7 L853.5,569.4 L856.8,566.9 L860.2,566.6 L863.0,567.1 L865.3,568.7 L868.5,570.7 L871.8,570.7 L874.6,570.4 L877.9,571.6 L881.4,571.9 L884.5,574.4 L887.3,577.0 L890.3,579.4 L892.4,581.8 L895.3,583.2 L898.4,584.8 L902.6,586.1 L906.8,586.7 L910.9,588.6 L914.5,590.5 L917.6,590.2 L920.6,592.4 L923.7,593.6 L926.6,595.3 L930.1,594.6 L932.7,595.8 L936.2,596.0 L939.3,597.8 L942.6,598.1 L945.3,600.0 L948.9,601.4 L952.0,602.2 L954.7,604.7 L958.3,605.0 L961.1,608.0 L964.6,608.3 L967.5,610.0 L970.5,611.0 L973.8,611.5 L977.1,614.2 L979.8,614.3 L983.2,614.1 L986.5,616.0 L989.9,616.8 L994.0,618.7 L996.4,620.1 L999.5,621.9 L1001.9,622.7 L1005.8,625.4 L1010.1,626.5 L1013.9,628.1 L1017.6,631.1 L1021.6,633.0 L1024.1,634.7 L1027.0,635.8 L1029.7,637.4 L1032.1,638.7 L1035.1,641.2 L1037.7,642.4 L1040.3,644.7 L1042.5,646.8 L1045.4,647.2 L1047.9,648.6 L1050.8,650.5 L1054.5,652.5 L1058.6,654.6 L1062.3,656.5 L1066.6,658.2 L1069.2,660.8 L1071.6,662.9 L1074.1,663.3 L1076.8,665.0 L1079.2,667.4 L1082.1,669.7 L1085.0,671.3 L1087.4,671.8 L1089.7,674.3 L1092.5,676.8 L1095.5,676.7 L1097.6,679.6 L1100.8,681.0 L1102.9,682.8 L1105.9,684.3 L1108.5,685.5 L1111.3,686.6 L1113.4,687.7 L1116.2,690.8 L1119.1,691.9 L1121.3,693.2 L1124.0,696.5 L1126.5,697.9 L1129.7,699.5 L1132.2,700.1 L1134.6,703.0 L1137.1,703.7 L1139.9,706.3 L1142.6,707.5 L1145.2,708.4 L1148.1,711.2 L1150.1,713.5 L1153.2,713.6 L1155.8,717.2 L1158.2,718.4 L1160.7,719.5 L1163.4,720.9 L1166.0,722.7 L1168.9,725.1 L1171.7,727.3 L1173.8,728.5 L1176.5,729.1 L1179.6,730.3 L1182.2,732.1 L1184.8,733.7 L1187.2,734.7 L1190.0,737.8 L1192.3,739.3 L1195.2,741.0 L1197.4,742.9 L1200.2,742.9 L1202.7,746.1 L1205.5,746.1 L1208.4,747.6 L1212.0,750.5 L1215.9,753.2 L1219.7,754.2 L1223.7,756.3 L1228.1,757.3 L1232.0,760.9 L1236.0,762.1 L1239.9,763.5 L1243.9,765.7 L1247.9,766.6 L1251.8,769.4 L1255.3,770.7 L1259.3,770.7 L1263.4,773.7 L1267.0,774.4 L1270.9,776.1 L1275.2,776.9 L1279.0,777.4 L1283.0,778.2 L1287.1,778.2 L1291.2,778.4 L1295.0,779.8 L1299.2,780.9 L1302.6,781.4 L1306.4,783.5 L1309.6,784.2 L1312.4,785.1 L1316.2,786.0 L1318.6,785.5 L1321.4,782.3 L1325.7,782.1 L1328.6,779.3 L1332.0,778.6 L1335.2,778.3 L1338.7,776.6 L1341.5,776.1 L1345.1,775.0 L1347.6,773.8 L1350.0,770.9 L1352.4,768.4 L1354.6,766.7 L1358.1,765.8 L1361.3,764.6 L1364.1,763.8 L1367.4,762.6 L1370.8,759.3 L1373.5,757.7 L1377.0,756.5 L1379.9,756.3 L1383.5,755.5 L1386.4,753.9 L1389.2,752.5 L1391.2,750.3 L1393.3,747.1 L1395.4,743.5 L1396.5,742.5 L1398.5,736.9 L1399.5,734.7 L1400.2,731.4 L1401.7,728.1 L1402.6,724.3 L1403.7,722.3 L1404.6,718.7 L1406.0,714.2 L1407.0,710.1 L1407.9,706.5 L1409.1,702.1 L1410.0,699.9 L1411.1,695.1 L1412.3,692.4 L1413.3,688.7 L1414.2,684.9 L1414.9,680.8 L1415.6,677.6 L1416.2,672.5 L1416.7,669.1 L1417.2,663.7 L1417.4,658.0 L1418.1,653.1 L1418.8,646.7 L1418.7,643.3 L1419.2,639.1 L1419.6,636.2 L1419.6,633.6 L1419.8,629.5 L1420.2,627.1 L1420.5,623.8 L1420.7,620.6 L1420.7,618.5 L1421.1,614.7 L1421.2,610.7 L1421.7,607.3 L1421.8,605.1 L1422.2,602.6 L1422.0,599.1 L1422.3,595.6 L1422.6,590.6 L1422.9,585.7 L1423.0,580.8 L1423.9,578.1 L1424.2,574.6 L1424.8,570.1 L1425.3,567.6 L1425.0,567.1" fill="none" stroke="#9ccb22" stroke-width="7" stroke-linejoin="round" stroke-linecap="round" clip-path="url(#gcc)"/>
<path d="M836.5,860.1 L836.5,550.3 L1427.3,550.3 L1427.3,829.8" fill="none" stroke="#1a1a1a" stroke-width="1.6"/>
<line x1="836.5" y1="799.6" x2="1427.3" y2="799.6" stroke="#1a1a1a" stroke-width="1.8"/>
<line x1="836.5" y1="829.8" x2="1427.3" y2="829.8" stroke="#1a1a1a" stroke-width="1.8"/>
<line x1="1427.3" y1="829.8" x2="1427.3" y2="860.1" stroke="#222244" stroke-width="1.6"/>
<line x1="831.5" y1="568.5" x2="836.5" y2="568.5" stroke="#1a1a1a" stroke-width="1.3"/>
<text x="816.5" y="577.6" font-size="21.5" text-anchor="start" textLength="12.55" lengthAdjust="spacingAndGlyphs" transform="translate(816.5 577.6) scale(1 1.04) translate(-816.5 -577.6)">0</text>
<line x1="831.5" y1="648.5" x2="836.5" y2="648.5" stroke="#1a1a1a" stroke-width="1.3"/>
<text x="790.3" y="657.4" font-size="21.5" text-anchor="start" textLength="38.90" lengthAdjust="spacingAndGlyphs" transform="translate(790.3 657.4) scale(1 1.04) translate(-790.3 -657.4)">-0.2</text>
<line x1="831.5" y1="728.5" x2="836.5" y2="728.5" stroke="#1a1a1a" stroke-width="1.3"/>
<text x="789.8" y="736.7" font-size="21.5" text-anchor="start" textLength="38.90" lengthAdjust="spacingAndGlyphs" transform="translate(789.8 736.7) scale(1 1.04) translate(-789.8 -736.7)">-0.4</text>
<text x="780.5" y="807.1" font-size="32.5" text-anchor="start" textLength="233.41" lengthAdjust="spacingAndGlyphs" transform="rotate(-90 780.5 807.1) translate(780.5 807.1) scale(1 1.04) translate(-780.5 -807.1)">Enrichment score</text>
<text x="1242.3" y="603.7" font-size="30.5" text-anchor="start" transform="translate(1242.3 603.7) scale(1 1.04) translate(-1242.3 -603.7)">NES: -2.246</text>
<text x="1242.3" y="637.5" font-size="30.5" text-anchor="start" transform="translate(1242.3 637.5) scale(1 1.04) translate(-1242.3 -637.5)">pval: &lt;1e-3</text>
<text x="1242.3" y="671.3" font-size="30.5" text-anchor="start" transform="translate(1242.3 671.3) scale(1 1.04) translate(-1242.3 -671.3)">FDR: &lt;1e-3</text>
<text x="1132.2" y="536.7" font-size="34.3" text-anchor="middle" transform="translate(1132.2 536.7) scale(1 1.04) translate(-1132.2 -536.7)">MECOM down genes</text>
<text x="875.6" y="904.4" font-size="30.5" text-anchor="middle" transform="translate(875.6 904.4) scale(1 1.04) translate(-875.6 -904.4)">Patient</text>
<text x="878.5" y="939.9" font-size="30.5" text-anchor="middle" transform="translate(878.5 939.9) scale(1 1.04) translate(-878.5 -939.9)">3011</text>
<text x="1140.8" y="941.4" font-size="30.5" text-anchor="middle" transform="translate(1140.8 941.4) scale(1 1.04) translate(-1140.8 -941.4)">TCGA AML</text>
<text x="1364.3" y="904.4" font-size="30.5" text-anchor="middle" transform="translate(1364.3 904.4) scale(1 1.04) translate(-1364.3 -904.4)">Average</text>
<text x="1368.5" y="939.9" font-size="30.5" text-anchor="middle" transform="translate(1368.5 939.9) scale(1 1.04) translate(-1368.5 -939.9)">of all</text>
<text x="1134.5" y="1004.8" font-size="30.5" text-anchor="middle" transform="translate(1134.5 1004.8) scale(1 1.04) translate(-1134.5 -1004.8)">MECOM network: depleted</text>
<text x="1130.8" y="1039.2" font-size="30.5" text-anchor="middle" transform="translate(1130.8 1039.2) scale(1 1.04) translate(-1130.8 -1039.2)">Overall survival: 2450 days</text>
<line x1="1020.5" y1="899.1" x2="1239.5" y2="899.1" stroke="#111" stroke-width="2.2"/>
<path d="M1010.5,899.1 L1027.5,891.6 L1023.5,899.1 L1027.5,906.6 Z" fill="#111"/>
<path d="M1249.5,899.1 L1232.5,891.6 L1236.5,899.1 L1232.5,906.6 Z" fill="#111"/>
<defs><linearGradient id="gd" x1="0" x2="1" y1="0" y2="0"><stop offset="0" stop-color="#dc281e"/><stop offset="0.006" stop-color="#dc281e"/><stop offset="0.03" stop-color="#eb504b"/><stop offset="0.065" stop-color="#f58282"/><stop offset="0.12" stop-color="#f8a5aa"/><stop offset="0.2" stop-color="#fabec3"/><stop offset="0.29" stop-color="#fcd2d5"/><stop offset="0.39" stop-color="#fde1e4"/><stop offset="0.49" stop-color="#feeef0"/><stop offset="0.56" stop-color="#fef8f8"/><stop offset="0.64" stop-color="#ffffff"/><stop offset="0.72" stop-color="#f5f3fc"/><stop offset="0.81" stop-color="#ebe6fa"/><stop offset="0.89" stop-color="#dcd4f5"/><stop offset="0.94" stop-color="#beb4eb"/><stop offset="0.98" stop-color="#7864c8"/><stop offset="1" stop-color="#3c3296"/></linearGradient><clipPath id="gdc"><rect x="1571.6" y="550" width="591.4000000000001" height="248.79999999999995"/></clipPath></defs>
<rect x="1571.6" y="829.8" width="591.4000000000001" height="30.300000000000068" fill="url(#gd)"/>
<rect x="1571.6" y="798.8" width="591.4000000000001" height="31.0" fill="#f4fbff"/>
<rect x="1576.6" y="798.8" width="1.0" height="31.0" fill="#27598a"/>
<rect x="1590.6" y="798.8" width="2.4" height="31.0" fill="#3b7bbb"/>
<rect x="1597.3" y="798.8" width="1.2" height="31.0" fill="#27598a"/>
<rect x="1604.5" y="798.8" width="2.3" height="31.0" fill="#3b7bbb"/>
<rect x="1636.5" y="798.8" width="1.0" height="31.0" fill="#27598a"/>
<rect x="1639.1" y="798.8" width="1.2" height="31.0" fill="#27598a"/>
<rect x="1641.0" y="798.8" width="1.2" height="31.0" fill="#27598a"/>
<rect x="1641.1" y="798.8" width="3.7" height="31.0" fill="#9fc5e8"/>
<rect x="1641.6" y="798.8" width="2.4" height="31.0" fill="#3b7bbb"/>
<rect x="1641.9" y="798.8" width="1.6" height="31.0" fill="#3b7bbb"/>
<rect x="1646.8" y="798.8" width="2.8" height="31.0" fill="#3b7bbb"/>
<rect x="1646.9" y="798.8" width="1.1" height="31.0" fill="#27598a"/>
<rect x="1648.7" y="798.8" width="1.3" height="31.0" fill="#27598a"/>
<rect x="1652.5" y="798.8" width="1.0" height="31.0" fill="#27598a"/>
<rect x="1654.7" y="798.8" width="1.2" height="31.0" fill="#27598a"/>
<rect x="1656.1" y="798.8" width="0.9" height="31.0" fill="#27598a"/>
<rect x="1656.4" y="798.8" width="2.4" height="31.0" fill="#3b7bbb"/>
<rect x="1657.5" y="798.8" width="2.2" height="31.0" fill="#3b7bbb"/>
<rect x="1661.8" y="798.8" width="1.9" height="31.0" fill="#3b7bbb"/>
<rect x="1662.1" y="798.8" width="0.9" height="31.0" fill="#27598a"/>
<rect x="1666.1" y="798.8" width="3.5" height="31.0" fill="#9fc5e8"/>
<rect x="1666.3" y="798.8" width="1.6" height="31.0" fill="#3b7bbb"/>
<rect x="1670.8" y="798.8" width="2.4" height="31.0" fill="#3b7bbb"/>
<rect x="1672.7" y="798.8" width="1.2" height="31.0" fill="#27598a"/>
<rect x="1678.7" y="798.8" width="1.1" height="31.0" fill="#27598a"/>
<rect x="1681.4" y="798.8" width="2.0" height="31.0" fill="#3b7bbb"/>
<rect x="1682.6" y="798.8" width="2.6" height="31.0" fill="#9fc5e8"/>
<rect x="1683.1" y="798.8" width="1.8" height="31.0" fill="#3b7bbb"/>
<rect x="1687.7" y="798.8" width="1.3" height="31.0" fill="#27598a"/>
<rect x="1688.7" y="798.8" width="3.5" height="31.0" fill="#9fc5e8"/>
<rect x="1691.4" y="798.8" width="1.0" height="31.0" fill="#27598a"/>
<rect x="1691.4" y="798.8" width="1.2" height="31.0" fill="#27598a"/>
<rect x="1691.6" y="798.8" width="1.1" height="31.0" fill="#27598a"/>
<rect x="1691.9" y="798.8" width="1.0" height="31.0" fill="#27598a"/>
<rect x="1694.2" y="798.8" width="1.3" height="31.0" fill="#27598a"/>
<rect x="1696.1" y="798.8" width="2.2" height="31.0" fill="#3b7bbb"/>
<rect x="1697.5" y="798.8" width="3.8" height="31.0" fill="#9fc5e8"/>
<rect x="1701.0" y="798.8" width="1.1" height="31.0" fill="#27598a"/>
<rect x="1706.8" y="798.8" width="2.1" height="31.0" fill="#3b7bbb"/>
<rect x="1708.9" y="798.8" width="1.2" height="31.0" fill="#27598a"/>
<rect x="1712.1" y="798.8" width="1.1" height="31.0" fill="#27598a"/>
<rect x="1713.9" y="798.8" width="1.2" height="31.0" fill="#27598a"/>
<rect x="1719.1" y="798.8" width="2.6" height="31.0" fill="#9fc5e8"/>
<rect x="1719.5" y="798.8" width="3.2" height="31.0" fill="#9fc5e8"/>
<rect x="1723.1" y="798.8" width="2.6" height="31.0" fill="#9fc5e8"/>
<rect x="1724.9" y="798.8" width="1.2" height="31.0" fill="#27598a"/>
<rect x="1727.3" y="798.8" width="1.1" height="31.0" fill="#27598a"/>
<rect x="1729.2" y="798.8" width="1.0" height="31.0" fill="#27598a"/>
<rect x="1730.5" y="798.8" width="1.1" height="31.0" fill="#27598a"/>
<rect x="1736.3" y="798.8" width="2.1" height="31.0" fill="#9fc5e8"/>
<rect x="1739.9" y="798.8" width="2.4" height="31.0" fill="#3b7bbb"/>
<rect x="1740.0" y="798.8" width="1.7" height="31.0" fill="#3b7bbb"/>
<rect x="1743.3" y="798.8" width="1.0" height="31.0" fill="#27598a"/>
<rect x="1743.7" y="798.8" width="2.4" height="31.0" fill="#9fc5e8"/>
<rect x="1748.0" y="798.8" width="1.6" height="31.0" fill="#3b7bbb"/>
<rect x="1750.2" y="798.8" width="1.4" height="31.0" fill="#3b7bbb"/>
<rect x="1753.7" y="798.8" width="0.9" height="31.0" fill="#27598a"/>
<rect x="1756.8" y="798.8" width="1.9" height="31.0" fill="#3b7bbb"/>
<rect x="1757.2" y="798.8" width="2.2" height="31.0" fill="#3b7bbb"/>
<rect x="1759.6" y="798.8" width="2.2" height="31.0" fill="#3b7bbb"/>
<rect x="1762.3" y="798.8" width="1.0" height="31.0" fill="#27598a"/>
<rect x="1763.6" y="798.8" width="2.5" height="31.0" fill="#3b7bbb"/>
<rect x="1767.6" y="798.8" width="1.2" height="31.0" fill="#27598a"/>
<rect x="1767.9" y="798.8" width="0.9" height="31.0" fill="#27598a"/>
<rect x="1771.6" y="798.8" width="3.3" height="31.0" fill="#9fc5e8"/>
<rect x="1774.5" y="798.8" width="1.2" height="31.0" fill="#27598a"/>
<rect x="1774.7" y="798.8" width="1.0" height="31.0" fill="#27598a"/>
<rect x="1778.9" y="798.8" width="1.0" height="31.0" fill="#27598a"/>
<rect x="1779.0" y="798.8" width="2.6" height="31.0" fill="#9fc5e8"/>
<rect x="1783.9" y="798.8" width="1.2" height="31.0" fill="#27598a"/>
<rect x="1784.4" y="798.8" width="3.9" height="31.0" fill="#9fc5e8"/>
<rect x="1788.8" y="798.8" width="2.7" height="31.0" fill="#3b7bbb"/>
<rect x="1793.9" y="798.8" width="2.6" height="31.0" fill="#9fc5e8"/>
<rect x="1797.9" y="798.8" width="1.9" height="31.0" fill="#3b7bbb"/>
<rect x="1798.3" y="798.8" width="2.9" height="31.0" fill="#9fc5e8"/>
<rect x="1799.9" y="798.8" width="3.0" height="31.0" fill="#9fc5e8"/>
<rect x="1800.5" y="798.8" width="2.1" height="31.0" fill="#3b7bbb"/>
<rect x="1801.1" y="798.8" width="2.7" height="31.0" fill="#3b7bbb"/>
<rect x="1801.7" y="798.8" width="3.5" height="31.0" fill="#9fc5e8"/>
<rect x="1803.3" y="798.8" width="1.2" height="31.0" fill="#27598a"/>
<rect x="1804.0" y="798.8" width="1.2" height="31.0" fill="#27598a"/>
<rect x="1804.6" y="798.8" width="1.2" height="31.0" fill="#27598a"/>
<rect x="1811.0" y="798.8" width="1.1" height="31.0" fill="#27598a"/>
<rect x="1812.6" y="798.8" width="1.4" height="31.0" fill="#3b7bbb"/>
<rect x="1814.8" y="798.8" width="1.3" height="31.0" fill="#27598a"/>
<rect x="1815.9" y="798.8" width="2.9" height="31.0" fill="#9fc5e8"/>
<rect x="1818.2" y="798.8" width="1.0" height="31.0" fill="#27598a"/>
<rect x="1818.9" y="798.8" width="1.0" height="31.0" fill="#27598a"/>
<rect x="1820.1" y="798.8" width="1.1" height="31.0" fill="#27598a"/>
<rect x="1826.4" y="798.8" width="3.2" height="31.0" fill="#9fc5e8"/>
<rect x="1832.8" y="798.8" width="2.3" height="31.0" fill="#3b7bbb"/>
<rect x="1834.1" y="798.8" width="1.3" height="31.0" fill="#27598a"/>
<rect x="1838.9" y="798.8" width="3.4" height="31.0" fill="#9fc5e8"/>
<rect x="1842.4" y="798.8" width="3.9" height="31.0" fill="#9fc5e8"/>
<rect x="1845.6" y="798.8" width="1.3" height="31.0" fill="#27598a"/>
<rect x="1847.3" y="798.8" width="2.0" height="31.0" fill="#3b7bbb"/>
<rect x="1848.0" y="798.8" width="1.1" height="31.0" fill="#27598a"/>
<rect x="1850.1" y="798.8" width="1.3" height="31.0" fill="#27598a"/>
<rect x="1855.0" y="798.8" width="3.1" height="31.0" fill="#9fc5e8"/>
<rect x="1856.1" y="798.8" width="1.9" height="31.0" fill="#3b7bbb"/>
<rect x="1862.5" y="798.8" width="3.8" height="31.0" fill="#9fc5e8"/>
<rect x="1864.1" y="798.8" width="2.4" height="31.0" fill="#3b7bbb"/>
<rect x="1864.8" y="798.8" width="1.3" height="31.0" fill="#27598a"/>
<rect x="1865.5" y="798.8" width="1.1" height="31.0" fill="#27598a"/>
<rect x="1865.7" y="798.8" width="1.6" height="31.0" fill="#3b7bbb"/>
<rect x="1869.4" y="798.8" width="1.2" height="31.0" fill="#27598a"/>
<rect x="1870.1" y="798.8" width="2.5" height="31.0" fill="#3b7bbb"/>
<rect x="1876.5" y="798.8" width="1.3" height="31.0" fill="#27598a"/>
<rect x="1876.9" y="798.8" width="0.9" height="31.0" fill="#27598a"/>
<rect x="1878.3" y="798.8" width="1.1" height="31.0" fill="#27598a"/>
<rect x="1884.2" y="798.8" width="2.3" height="31.0" fill="#3b7bbb"/>
<rect x="1884.4" y="798.8" width="2.7" height="31.0" fill="#9fc5e8"/>
<rect x="1890.8" y="798.8" width="1.0" height="31.0" fill="#27598a"/>
<rect x="1897.2" y="798.8" width="1.7" height="31.0" fill="#3b7bbb"/>
<rect x="1898.5" y="798.8" width="1.8" height="31.0" fill="#3b7bbb"/>
<rect x="1899.0" y="798.8" width="1.1" height="31.0" fill="#27598a"/>
<rect x="1900.2" y="798.8" width="1.1" height="31.0" fill="#27598a"/>
<rect x="1901.1" y="798.8" width="1.2" height="31.0" fill="#27598a"/>
<rect x="1901.5" y="798.8" width="1.1" height="31.0" fill="#27598a"/>
<rect x="1902.2" y="798.8" width="2.6" height="31.0" fill="#3b7bbb"/>
<rect x="1908.5" y="798.8" width="3.8" height="31.0" fill="#9fc5e8"/>
<rect x="1909.1" y="798.8" width="0.9" height="31.0" fill="#27598a"/>
<rect x="1909.8" y="798.8" width="1.0" height="31.0" fill="#27598a"/>
<rect x="1910.7" y="798.8" width="3.0" height="31.0" fill="#9fc5e8"/>
<rect x="1915.7" y="798.8" width="2.4" height="31.0" fill="#3b7bbb"/>
<rect x="1918.1" y="798.8" width="2.7" height="31.0" fill="#3b7bbb"/>
<rect x="1920.1" y="798.8" width="1.7" height="31.0" fill="#3b7bbb"/>
<rect x="1920.3" y="798.8" width="1.1" height="31.0" fill="#27598a"/>
<rect x="1920.6" y="798.8" width="2.0" height="31.0" fill="#9fc5e8"/>
<rect x="1921.9" y="798.8" width="1.1" height="31.0" fill="#27598a"/>
<rect x="1925.8" y="798.8" width="2.8" height="31.0" fill="#9fc5e8"/>
<rect x="1928.5" y="798.8" width="2.6" height="31.0" fill="#9fc5e8"/>
<rect x="1929.6" y="798.8" width="1.2" height="31.0" fill="#27598a"/>
<rect x="1930.4" y="798.8" width="2.4" height="31.0" fill="#9fc5e8"/>
<rect x="1932.9" y="798.8" width="1.4" height="31.0" fill="#3b7bbb"/>
<rect x="1933.8" y="798.8" width="2.8" height="31.0" fill="#9fc5e8"/>
<rect x="1933.9" y="798.8" width="2.2" height="31.0" fill="#3b7bbb"/>
<rect x="1935.3" y="798.8" width="1.3" height="31.0" fill="#27598a"/>
<rect x="1937.7" y="798.8" width="1.1" height="31.0" fill="#27598a"/>
<rect x="1941.0" y="798.8" width="1.1" height="31.0" fill="#27598a"/>
<rect x="1944.1" y="798.8" width="1.0" height="31.0" fill="#27598a"/>
<rect x="1944.2" y="798.8" width="2.5" height="31.0" fill="#3b7bbb"/>
<rect x="1946.6" y="798.8" width="1.4" height="31.0" fill="#3b7bbb"/>
<rect x="1947.6" y="798.8" width="1.9" height="31.0" fill="#3b7bbb"/>
<rect x="1948.2" y="798.8" width="1.0" height="31.0" fill="#27598a"/>
<rect x="1948.4" y="798.8" width="1.4" height="31.0" fill="#3b7bbb"/>
<rect x="1949.6" y="798.8" width="1.2" height="31.0" fill="#27598a"/>
<rect x="1952.3" y="798.8" width="1.4" height="31.0" fill="#3b7bbb"/>
<rect x="1955.0" y="798.8" width="2.3" height="31.0" fill="#3b7bbb"/>
<rect x="1961.6" y="798.8" width="2.0" height="31.0" fill="#3b7bbb"/>
<rect x="1963.3" y="798.8" width="1.2" height="31.0" fill="#27598a"/>
<rect x="1963.6" y="798.8" width="2.3" height="31.0" fill="#3b7bbb"/>
<rect x="1966.2" y="798.8" width="1.2" height="31.0" fill="#27598a"/>
<rect x="1972.5" y="798.8" width="3.5" height="31.0" fill="#9fc5e8"/>
<rect x="1972.9" y="798.8" width="1.6" height="31.0" fill="#3b7bbb"/>
<rect x="1979.5" y="798.8" width="0.9" height="31.0" fill="#27598a"/>
<rect x="1980.7" y="798.8" width="1.3" height="31.0" fill="#27598a"/>
<rect x="1986.6" y="798.8" width="1.2" height="31.0" fill="#27598a"/>
<rect x="1987.6" y="798.8" width="2.2" height="31.0" fill="#9fc5e8"/>
<rect x="1994.0" y="798.8" width="1.0" height="31.0" fill="#27598a"/>
<rect x="1995.4" y="798.8" width="0.9" height="31.0" fill="#27598a"/>
<rect x="1997.0" y="798.8" width="2.8" height="31.0" fill="#3b7bbb"/>
<rect x="1998.9" y="798.8" width="1.0" height="31.0" fill="#27598a"/>
<rect x="1998.9" y="798.8" width="3.4" height="31.0" fill="#9fc5e8"/>
<rect x="1999.7" y="798.8" width="2.4" height="31.0" fill="#3b7bbb"/>
<rect x="2002.4" y="798.8" width="2.6" height="31.0" fill="#3b7bbb"/>
<rect x="2009.5" y="798.8" width="1.7" height="31.0" fill="#3b7bbb"/>
<rect x="2019.3" y="798.8" width="2.7" height="31.0" fill="#3b7bbb"/>
<rect x="2031.1" y="798.8" width="1.5" height="31.0" fill="#3b7bbb"/>
<rect x="2032.2" y="798.8" width="1.2" height="31.0" fill="#27598a"/>
<rect x="2036.2" y="798.8" width="2.3" height="31.0" fill="#3b7bbb"/>
<rect x="2041.8" y="798.8" width="2.6" height="31.0" fill="#3b7bbb"/>
<rect x="2042.4" y="798.8" width="2.5" height="31.0" fill="#3b7bbb"/>
<rect x="2056.4" y="798.8" width="1.2" height="31.0" fill="#27598a"/>
<rect x="2062.9" y="798.8" width="1.2" height="31.0" fill="#27598a"/>
<rect x="2066.9" y="798.8" width="2.8" height="31.0" fill="#9fc5e8"/>
<rect x="2067.2" y="798.8" width="2.3" height="31.0" fill="#3b7bbb"/>
<rect x="2074.0" y="798.8" width="2.2" height="31.0" fill="#3b7bbb"/>
<rect x="2079.2" y="798.8" width="3.2" height="31.0" fill="#9fc5e8"/>
<rect x="2080.0" y="798.8" width="1.1" height="31.0" fill="#27598a"/>
<rect x="2080.1" y="798.8" width="1.3" height="31.0" fill="#27598a"/>
<rect x="2080.8" y="798.8" width="2.4" height="31.0" fill="#3b7bbb"/>
<rect x="2081.8" y="798.8" width="2.6" height="31.0" fill="#3b7bbb"/>
<rect x="2085.2" y="798.8" width="1.3" height="31.0" fill="#27598a"/>
<rect x="2088.0" y="798.8" width="1.2" height="31.0" fill="#27598a"/>
<rect x="2091.8" y="798.8" width="3.7" height="31.0" fill="#9fc5e8"/>
<rect x="2095.7" y="798.8" width="1.2" height="31.0" fill="#27598a"/>
<rect x="2099.2" y="798.8" width="2.4" height="31.0" fill="#9fc5e8"/>
<rect x="2106.3" y="798.8" width="2.7" height="31.0" fill="#3b7bbb"/>
<rect x="2107.9" y="798.8" width="2.2" height="31.0" fill="#3b7bbb"/>
<rect x="2108.7" y="798.8" width="2.6" height="31.0" fill="#3b7bbb"/>
<rect x="2109.5" y="798.8" width="3.5" height="31.0" fill="#9fc5e8"/>
<rect x="2112.9" y="798.8" width="2.4" height="31.0" fill="#3b7bbb"/>
<rect x="2115.2" y="798.8" width="0.9" height="31.0" fill="#27598a"/>
<rect x="2117.0" y="798.8" width="2.2" height="31.0" fill="#3b7bbb"/>
<rect x="2118.1" y="798.8" width="1.5" height="31.0" fill="#3b7bbb"/>
<rect x="2120.4" y="798.8" width="1.0" height="31.0" fill="#27598a"/>
<rect x="2120.5" y="798.8" width="3.8" height="31.0" fill="#9fc5e8"/>
<rect x="2122.6" y="798.8" width="2.4" height="31.0" fill="#9fc5e8"/>
<rect x="2125.0" y="798.8" width="1.6" height="31.0" fill="#3b7bbb"/>
<rect x="2126.8" y="798.8" width="1.0" height="31.0" fill="#27598a"/>
<rect x="2127.1" y="798.8" width="1.3" height="31.0" fill="#27598a"/>
<rect x="2128.5" y="798.8" width="1.6" height="31.0" fill="#3b7bbb"/>
<rect x="2128.9" y="798.8" width="1.2" height="31.0" fill="#27598a"/>
<rect x="2130.7" y="798.8" width="2.2" height="31.0" fill="#3b7bbb"/>
<rect x="2131.2" y="798.8" width="1.0" height="31.0" fill="#27598a"/>
<rect x="2136.6" y="798.8" width="2.6" height="31.0" fill="#3b7bbb"/>
<rect x="2138.8" y="798.8" width="3.5" height="31.0" fill="#9fc5e8"/>
<rect x="2138.8" y="798.8" width="0.9" height="31.0" fill="#27598a"/>
<rect x="2143.2" y="798.8" width="1.1" height="31.0" fill="#27598a"/>
<rect x="2145.0" y="798.8" width="1.0" height="31.0" fill="#27598a"/>
<rect x="2149.1" y="798.8" width="1.2" height="31.0" fill="#27598a"/>
<rect x="2150.3" y="798.8" width="1.9" height="31.0" fill="#3b7bbb"/>
<rect x="2152.5" y="798.8" width="2.0" height="31.0" fill="#3b7bbb"/>
<rect x="2153.2" y="798.8" width="1.2" height="31.0" fill="#27598a"/>
<rect x="2153.2" y="798.8" width="1.0" height="31.0" fill="#27598a"/>
<rect x="2155.5" y="798.8" width="1.7" height="31.0" fill="#3b7bbb"/>
<rect x="2159.4" y="798.8" width="2.6" height="31.0" fill="#3b7bbb"/>
<rect x="2160.3" y="798.8" width="2.2" height="31.0" fill="#9fc5e8"/>
<rect x="2161.1" y="798.8" width="1.2" height="31.0" fill="#27598a"/>
<rect x="2161.4" y="798.8" width="1.1" height="31.0" fill="#9fc5e8"/>
<rect x="2161.7" y="798.8" width="0.8" height="31.0" fill="#3b7bbb"/>
<rect x="2161.8" y="798.8" width="0.7" height="31.0" fill="#3b7bbb"/>
<line x1="1571.6" y1="672.1" x2="2163" y2="672.1" stroke="#8a8a8a" stroke-width="1.2"/>
<path d="M1573.8,675.3 L1574.2,671.2 L1574.8,667.5 L1575.3,663.7 L1575.6,659.3 L1576.1,657.4 L1575.9,653.5 L1576.3,649.9 L1577.0,646.1 L1577.0,642.2 L1577.1,639.6 L1577.5,635.3 L1579.5,634.4 L1581.5,637.2 L1583.8,635.3 L1585.0,633.8 L1587.2,631.3 L1589.0,634.7 L1591.0,636.9 L1593.8,640.3 L1595.6,641.8 L1598.4,643.6 L1600.7,641.0 L1601.2,637.1 L1601.9,633.5 L1602.6,629.7 L1603.6,627.4 L1604.4,624.1 L1605.5,620.5 L1608.8,620.4 L1611.0,621.9 L1613.7,624.1 L1616.3,628.0 L1618.6,630.7 L1620.5,631.5 L1623.2,635.5 L1625.8,637.7 L1628.3,639.8 L1631.0,641.8 L1633.9,641.9 L1636.9,639.8 L1638.8,635.2 L1640.2,632.4 L1641.7,630.4 L1643.5,625.9 L1645.3,623.7 L1646.3,621.2 L1647.2,617.4 L1649.0,613.9 L1650.5,612.0 L1653.9,610.5 L1656.8,606.6 L1658.9,604.0 L1661.8,602.3 L1663.8,599.0 L1666.1,598.6 L1668.8,593.9 L1671.0,592.9 L1674.1,590.7 L1678.0,588.7 L1682.1,590.0 L1685.3,587.9 L1687.4,586.7 L1690.8,586.0 L1694.0,587.8 L1696.2,589.3 L1699.2,591.2 L1701.2,587.6 L1702.2,585.4 L1703.5,582.8 L1706.6,580.4 L1710.5,579.2 L1713.4,577.3 L1715.5,575.0 L1717.4,570.8 L1719.6,569.9 L1722.4,571.0 L1725.8,572.3 L1729.4,573.6 L1732.9,574.0 L1736.0,576.4 L1739.2,574.9 L1741.8,573.6 L1744.6,571.7 L1748.0,572.7 L1750.4,572.2 L1751.6,567.3 L1752.2,563.7 L1754.8,563.2 L1758.0,561.5 L1761.7,562.7 L1764.8,563.0 L1768.9,562.3 L1771.4,562.0 L1774.9,561.1 L1778.1,561.5 L1780.9,563.5 L1784.0,564.5 L1787.5,563.3 L1790.5,563.1 L1793.7,564.7 L1797.2,564.9 L1800.5,567.5 L1803.7,569.2 L1807.0,570.5 L1809.6,572.4 L1813.1,572.8 L1816.4,574.0 L1820.1,576.8 L1824.1,578.4 L1826.7,580.5 L1829.5,580.8 L1831.7,582.5 L1835.8,585.9 L1838.2,587.1 L1841.3,588.6 L1843.5,590.3 L1846.6,592.0 L1849.1,593.3 L1851.8,595.5 L1854.4,595.6 L1856.6,598.4 L1859.1,600.7 L1862.3,602.0 L1864.7,603.6 L1867.2,606.0 L1869.8,608.8 L1872.4,610.3 L1875.1,612.7 L1877.8,613.6 L1880.6,616.8 L1883.1,619.7 L1885.7,621.2 L1888.4,622.6 L1890.9,624.9 L1893.7,627.5 L1896.3,628.5 L1898.7,630.9 L1901.5,633.5 L1903.6,636.0 L1906.5,639.4 L1909.2,641.6 L1912.0,643.3 L1914.2,645.2 L1917.2,647.3 L1919.7,651.0 L1922.0,652.2 L1925.1,655.7 L1927.5,657.0 L1930.3,660.7 L1933.0,663.8 L1935.1,667.6 L1938.2,669.5 L1940.6,673.4 L1943.0,675.5 L1945.6,677.7 L1948.7,678.2 L1951.0,681.6 L1953.8,684.0 L1956.6,684.4 L1959.0,687.5 L1961.3,690.4 L1964.1,693.7 L1966.6,695.2 L1969.6,699.3 L1972.0,701.9 L1974.4,703.0 L1976.9,705.9 L1979.6,707.7 L1982.7,709.3 L1985.1,710.3 L1987.7,711.5 L1990.6,713.3 L1993.2,716.2 L1995.8,718.3 L1998.1,719.9 L2001.0,721.5 L2003.1,723.2 L2006.2,725.6 L2008.5,727.3 L2011.1,728.8 L2013.8,731.5 L2016.7,734.5 L2019.2,736.8 L2021.8,739.7 L2024.4,742.4 L2027.2,743.3 L2029.7,745.8 L2032.2,748.5 L2034.6,750.7 L2037.5,751.9 L2040.3,754.2 L2042.8,755.2 L2045.1,758.4 L2048.1,759.6 L2050.4,761.9 L2053.1,764.8 L2055.9,766.6 L2058.3,768.6 L2061.1,771.4 L2063.9,772.7 L2066.5,775.7 L2069.1,777.1 L2073.1,778.8 L2077.1,779.8 L2080.9,781.1 L2084.6,782.8 L2087.9,783.5 L2090.9,784.3 L2094.1,786.0 L2097.8,785.2 L2100.3,783.6 L2103.4,782.6 L2107.0,781.5 L2110.4,781.7 L2113.6,780.7 L2116.5,781.7 L2119.8,781.1 L2123.6,782.1 L2126.9,784.6 L2130.1,784.4 L2133.5,784.9 L2135.3,783.2 L2136.9,779.4 L2138.4,777.6 L2140.0,773.6 L2142.0,770.2 L2144.9,767.8 L2147.4,765.7 L2149.2,762.4 L2150.3,758.2 L2150.9,755.8 L2151.2,752.0 L2151.4,747.9 L2152.1,743.2 L2152.3,739.3 L2152.5,736.3 L2153.5,732.9 L2153.8,729.9 L2154.1,726.8 L2154.9,723.8 L2155.6,719.9 L2156.7,716.5 L2158.5,713.4 L2159.3,708.1 L2160.3,705.9 L2161.0,699.8 L2161.2,694.8 L2161.4,691.6 L2161.6,688.6 L2162.2,685.8 L2162.4,679.1 L2162.5,674.6 L2162.7,673.8" fill="none" stroke="#9ccb22" stroke-width="7" stroke-linejoin="round" stroke-linecap="round" clip-path="url(#gdc)"/>
<path d="M1571.6,860.1 L1571.6,550 L2163,550 L2163,829.8" fill="none" stroke="#1a1a1a" stroke-width="1.6"/>
<line x1="1571.6" y1="798.8" x2="2163" y2="798.8" stroke="#1a1a1a" stroke-width="1.8"/>
<line x1="1571.6" y1="829.8" x2="2163" y2="829.8" stroke="#1a1a1a" stroke-width="1.8"/>
<line x1="1566.6" y1="561.5" x2="1571.6" y2="561.5" stroke="#1a1a1a" stroke-width="1.3"/>
<text x="1530.7" y="566.6" font-size="19.8" text-anchor="start" textLength="30.82" lengthAdjust="spacingAndGlyphs" transform="translate(1530.7 566.6) scale(1 1.04) translate(-1530.7 -566.6)">0.2</text>
<line x1="1566.6" y1="616.7" x2="1571.6" y2="616.7" stroke="#1a1a1a" stroke-width="1.3"/>
<text x="1530.7" y="621.1" font-size="19.8" text-anchor="start" textLength="30.82" lengthAdjust="spacingAndGlyphs" transform="translate(1530.7 621.1) scale(1 1.04) translate(-1530.7 -621.1)">0.1</text>
<line x1="1566.6" y1="672.4" x2="1571.6" y2="672.4" stroke="#1a1a1a" stroke-width="1.3"/>
<text x="1548.9" y="676.2" font-size="19.8" text-anchor="start" textLength="12.33" lengthAdjust="spacingAndGlyphs" transform="translate(1548.9 676.2) scale(1 1.04) translate(-1548.9 -676.2)">0</text>
<line x1="1566.6" y1="727.6" x2="1571.6" y2="727.6" stroke="#1a1a1a" stroke-width="1.3"/>
<text x="1523.1" y="732.0" font-size="19.8" text-anchor="start" textLength="38.21" lengthAdjust="spacingAndGlyphs" transform="translate(1523.1 732.0) scale(1 1.04) translate(-1523.1 -732.0)">-0.1</text>
<line x1="1566.6" y1="782.7" x2="1571.6" y2="782.7" stroke="#1a1a1a" stroke-width="1.3"/>
<text x="1523.1" y="787.1" font-size="19.8" text-anchor="start" textLength="38.21" lengthAdjust="spacingAndGlyphs" transform="translate(1523.1 787.1) scale(1 1.04) translate(-1523.1 -787.1)">-0.2</text>
<text x="1511.0" y="793.8" font-size="32.5" text-anchor="start" textLength="237.27" lengthAdjust="spacingAndGlyphs" transform="rotate(-90 1511.0 793.8) translate(1511.0 793.8) scale(1 1.04) translate(-1511.0 -793.8)">Enrichment score</text>
<text x="1978.5" y="584.0" font-size="30.5" text-anchor="start" transform="translate(1978.5 584.0) scale(1 1.04) translate(-1978.5 -584.0)">NES: -0.866</text>
<text x="1978.5" y="618.0" font-size="30.5" text-anchor="start" transform="translate(1978.5 618.0) scale(1 1.04) translate(-1978.5 -618.0)">pval: 1.00</text>
<text x="1978.5" y="652.0" font-size="30.5" text-anchor="start" transform="translate(1978.5 652.0) scale(1 1.04) translate(-1978.5 -652.0)">FDR: 1.00</text>
<text x="1867.7" y="533.0" font-size="34.3" text-anchor="middle" transform="translate(1867.7 533.0) scale(1 1.04) translate(-1867.7 -533.0)">MECOM down genes</text>
<text x="1610.9" y="904.4" font-size="30.5" text-anchor="middle" transform="translate(1610.9 904.4) scale(1 1.04) translate(-1610.9 -904.4)">Patient</text>
<text x="1614.5" y="939.9" font-size="30.5" text-anchor="middle" transform="translate(1614.5 939.9) scale(1 1.04) translate(-1614.5 -939.9)">2982</text>
<text x="1866.6" y="941.4" font-size="30.5" text-anchor="middle" transform="translate(1866.6 941.4) scale(1 1.04) translate(-1866.6 -941.4)">TCGA AML</text>
<text x="2100.2" y="904.4" font-size="30.5" text-anchor="middle" transform="translate(2100.2 904.4) scale(1 1.04) translate(-2100.2 -904.4)">Average</text>
<text x="2103.9" y="939.9" font-size="30.5" text-anchor="middle" transform="translate(2103.9 939.9) scale(1 1.04) translate(-2103.9 -939.9)">of all</text>
<text x="1885.5" y="1004.8" font-size="30.5" text-anchor="middle" transform="translate(1885.5 1004.8) scale(1 1.04) translate(-1885.5 -1004.8)">MECOM network: none</text>
<text x="1880.8" y="1039.2" font-size="30.5" text-anchor="middle" transform="translate(1880.8 1039.2) scale(1 1.04) translate(-1880.8 -1039.2)">Overall survival: 1110 days</text>
<line x1="1755.6" y1="899.8" x2="1974.6" y2="899.8" stroke="#111" stroke-width="2.2"/>
<path d="M1745.6,899.8 L1762.6,892.3 L1758.6,899.8 L1762.6,907.3 Z" fill="#111"/>
<path d="M1984.6,899.8 L1967.6,892.3 L1971.6,899.8 L1967.6,907.3 Z" fill="#111"/>
<text x="273.1" y="1145.3" font-size="39" text-anchor="start" font-weight="bold" transform="translate(273.1 1145.3) scale(1 1.04) translate(-273.1 -1145.3)">e</text>
<rect x="664.6" y="1098.7" width="129.5" height="40.7" rx="14" ry="14" fill="#cde4f5" stroke="#0d0d12" stroke-width="2.8"/><text x="728.4" y="1131.1" font-size="30" text-anchor="middle" transform="translate(728.4 1131.1) scale(1 1.04) translate(-728.4 -1131.1)">ADULT</text>
<line x1="380.3" y1="1163.2" x2="380.3" y2="1485.8" stroke="#0b0b0b" stroke-width="3.5"/>
<line x1="368" y1="1485.8" x2="701" y2="1485.8" stroke="#0b0b0b" stroke-width="3.5"/>
<line x1="368" y1="1164.9" x2="380.3" y2="1164.9" stroke="#0b0b0b" stroke-width="3.5"/>
<line x1="368" y1="1325.3" x2="380.3" y2="1325.3" stroke="#0b0b0b" stroke-width="3.5"/>
<text x="358.0" y="1179.3" font-size="31" text-anchor="end" transform="translate(358.0 1179.3) scale(1 1.04) translate(-358.0 -1179.3)">100</text>
<text x="358.0" y="1339.7" font-size="31" text-anchor="end" transform="translate(358.0 1339.7) scale(1 1.04) translate(-358.0 -1339.7)">50</text>
<text x="358.0" y="1500.2" font-size="31" text-anchor="end" transform="translate(358.0 1500.2) scale(1 1.04) translate(-358.0 -1500.2)">0</text>
<text x="310.6" y="1386.2" font-size="31" text-anchor="start" textLength="105.13" lengthAdjust="spacingAndGlyphs" transform="rotate(-90 310.6 1386.2) translate(310.6 1386.2) scale(1 1.04) translate(-310.6 -1386.2)">Percent</text>
<rect x="415.2" y="1167.0" width="59.2" height="154.2" fill="#df3113"/>
<rect x="415.2" y="1321.3" width="59.2" height="73.4" fill="#fdd67a"/>
<rect x="415.2" y="1394.7" width="59.2" height="91.1" fill="#7b9cd3"/>
<rect x="415.2" y="1167.0" width="59.2" height="317.5" fill="none" stroke="#0b0b0b" stroke-width="4.7"/>
<line x1="415.2" y1="1321.3" x2="474.4" y2="1321.3" stroke="#0b0b0b" stroke-width="4.7"/>
<line x1="415.2" y1="1394.7" x2="474.4" y2="1394.7" stroke="#0b0b0b" stroke-width="4.7"/>
<rect x="511.6" y="1167.0" width="59.0" height="102.9" fill="#df3113"/>
<rect x="511.6" y="1269.9" width="59.0" height="70.2" fill="#fdd67a"/>
<rect x="511.6" y="1340.1" width="59.0" height="145.7" fill="#7b9cd3"/>
<rect x="511.6" y="1167.0" width="59.0" height="317.5" fill="none" stroke="#0b0b0b" stroke-width="4.7"/>
<line x1="511.6" y1="1269.9" x2="570.5" y2="1269.9" stroke="#0b0b0b" stroke-width="4.7"/>
<line x1="511.6" y1="1340.1" x2="570.5" y2="1340.1" stroke="#0b0b0b" stroke-width="4.7"/>
<rect x="608.0" y="1167.0" width="59.0" height="40.9" fill="#df3113"/>
<rect x="608.0" y="1207.9" width="59.0" height="87.0" fill="#fdd67a"/>
<rect x="608.0" y="1294.9" width="59.0" height="190.9" fill="#7b9cd3"/>
<rect x="608.0" y="1167.0" width="59.0" height="317.5" fill="none" stroke="#0b0b0b" stroke-width="4.7"/>
<line x1="608.0" y1="1207.9" x2="666.9" y2="1207.9" stroke="#0b0b0b" stroke-width="4.7"/>
<line x1="608.0" y1="1294.9" x2="666.9" y2="1294.9" stroke="#0b0b0b" stroke-width="4.7"/>
<text x="459.0" y="1509.0" font-size="29.5" text-anchor="end" transform="rotate(-45 459.0 1509.0) translate(459.0 1509.0) scale(1 1.04) translate(-459.0 -1509.0)">Adverse</text>
<text x="554.0" y="1509.0" font-size="29.5" text-anchor="end" transform="rotate(-45 554.0 1509.0) translate(554.0 1509.0) scale(1 1.04) translate(-554.0 -1509.0)">Intermediate</text>
<text x="653.0" y="1510.0" font-size="29.5" text-anchor="end" transform="rotate(-45 653.0 1510.0) translate(653.0 1510.0) scale(1 1.04) translate(-653.0 -1510.0)">Favorable</text>
<line x1="815.7" y1="1168.8" x2="815.7" y2="1488.4" stroke="#0b0b0b" stroke-width="3.5"/>
<line x1="802.5" y1="1488.4" x2="1027.5" y2="1488.4" stroke="#0b0b0b" stroke-width="3.5"/>
<line x1="802.5" y1="1170.6" x2="815.7" y2="1170.6" stroke="#0b0b0b" stroke-width="3.5"/>
<line x1="802.5" y1="1329.5" x2="815.7" y2="1329.5" stroke="#0b0b0b" stroke-width="3.5"/>
<text x="797.0" y="1185.0" font-size="31" text-anchor="end" transform="translate(797.0 1185.0) scale(1 1.04) translate(-797.0 -1185.0)">100</text>
<text x="797.0" y="1343.9" font-size="31" text-anchor="end" transform="translate(797.0 1343.9) scale(1 1.04) translate(-797.0 -1343.9)">50</text>
<text x="797.0" y="1502.8" font-size="31" text-anchor="end" transform="translate(797.0 1502.8) scale(1 1.04) translate(-797.0 -1502.8)">0</text>
<text x="749.6" y="1390.6" font-size="31" text-anchor="start" textLength="105.23" lengthAdjust="spacingAndGlyphs" transform="rotate(-90 749.6 1390.6) translate(749.6 1390.6) scale(1 1.04) translate(-749.6 -1390.6)">Percent</text>
<rect x="848.9" y="1172.9" width="55.5" height="160.8" fill="#df3113"/>
<rect x="848.9" y="1333.7" width="55.5" height="26.4" fill="#fdd67a"/>
<rect x="848.9" y="1360.1" width="55.5" height="128.3" fill="#7b9cd3"/>
<rect x="848.9" y="1172.9" width="55.5" height="314.3" fill="none" stroke="#0b0b0b" stroke-width="4.7"/>
<line x1="848.9" y1="1333.7" x2="904.4" y2="1333.7" stroke="#0b0b0b" stroke-width="4.7"/>
<line x1="848.9" y1="1360.1" x2="904.4" y2="1360.1" stroke="#0b0b0b" stroke-width="4.7"/>
<rect x="940.4" y="1172.9" width="55.3" height="52.7" fill="#df3113"/>
<rect x="940.4" y="1225.6" width="55.3" height="111.6" fill="#fdd67a"/>
<rect x="940.4" y="1337.2" width="55.3" height="151.2" fill="#7b9cd3"/>
<rect x="940.4" y="1172.9" width="55.3" height="314.3" fill="none" stroke="#0b0b0b" stroke-width="4.7"/>
<line x1="940.4" y1="1225.6" x2="995.6" y2="1225.6" stroke="#0b0b0b" stroke-width="4.7"/>
<line x1="940.4" y1="1337.2" x2="995.6" y2="1337.2" stroke="#0b0b0b" stroke-width="4.7"/>
<text x="890.5" y="1512.0" font-size="29.5" text-anchor="end" transform="rotate(-45 890.5 1512.0) translate(890.5 1512.0) scale(1 1.04) translate(-890.5 -1512.0)">LSC17 high</text>
<text x="979.5" y="1509.0" font-size="29.5" text-anchor="end" transform="rotate(-45 979.5 1509.0) translate(979.5 1509.0) scale(1 1.04) translate(-979.5 -1509.0)">LSC17 low</text>
<text x="1081.3" y="1145.5" font-size="39" text-anchor="start" font-weight="bold" transform="translate(1081.3 1145.5) scale(1 1.04) translate(-1081.3 -1145.5)">f</text>
<rect x="1397.8" y="1098.5" width="180.5" height="42.5" rx="14" ry="14" fill="#fad4ee" stroke="#0d0d12" stroke-width="2.8"/><text x="1488.9" y="1132.6" font-size="30" text-anchor="middle" transform="translate(1488.9 1132.6) scale(1 1.04) translate(-1488.9 -1132.6)">PEDIATRIC</text>
<line x1="1165.9" y1="1175.0" x2="1165.9" y2="1490.6" stroke="#0b0b0b" stroke-width="3.5"/>
<line x1="1151.3" y1="1490.6" x2="1474.7" y2="1490.6" stroke="#0b0b0b" stroke-width="3.5"/>
<line x1="1151.3" y1="1176.8" x2="1165.9" y2="1176.8" stroke="#0b0b0b" stroke-width="3.5"/>
<line x1="1151.3" y1="1333.7" x2="1165.9" y2="1333.7" stroke="#0b0b0b" stroke-width="3.5"/>
<text x="1150.8" y="1191.2" font-size="31" text-anchor="end" transform="translate(1150.8 1191.2) scale(1 1.04) translate(-1150.8 -1191.2)">100</text>
<text x="1150.8" y="1348.1" font-size="31" text-anchor="end" transform="translate(1150.8 1348.1) scale(1 1.04) translate(-1150.8 -1348.1)">50</text>
<text x="1150.8" y="1505.0" font-size="31" text-anchor="end" transform="translate(1150.8 1505.0) scale(1 1.04) translate(-1150.8 -1505.0)">0</text>
<text x="1104.2" y="1396.4" font-size="31" text-anchor="start" textLength="103.38" lengthAdjust="spacingAndGlyphs" transform="rotate(-90 1104.2 1396.4) translate(1104.2 1396.4) scale(1 1.04) translate(-1104.2 -1396.4)">Percent</text>
<rect x="1200.1" y="1179.5" width="57.4" height="159.7" fill="#df3113"/>
<rect x="1200.1" y="1339.2" width="57.4" height="126.9" fill="#fdd67a"/>
<rect x="1200.1" y="1466.1" width="57.4" height="24.5" fill="#7b9cd3"/>
<rect x="1200.1" y="1179.5" width="57.4" height="309.8" fill="none" stroke="#0b0b0b" stroke-width="4.7"/>
<line x1="1200.1" y1="1339.2" x2="1257.6" y2="1339.2" stroke="#0b0b0b" stroke-width="4.7"/>
<line x1="1200.1" y1="1466.1" x2="1257.6" y2="1466.1" stroke="#0b0b0b" stroke-width="4.7"/>
<rect x="1294.9" y="1179.5" width="57.4" height="97.0" fill="#df3113"/>
<rect x="1294.9" y="1276.5" width="57.4" height="189.6" fill="#fdd67a"/>
<rect x="1294.9" y="1466.1" width="57.4" height="24.5" fill="#7b9cd3"/>
<rect x="1294.9" y="1179.5" width="57.4" height="309.8" fill="none" stroke="#0b0b0b" stroke-width="4.7"/>
<line x1="1294.9" y1="1276.5" x2="1352.4" y2="1276.5" stroke="#0b0b0b" stroke-width="4.7"/>
<line x1="1294.9" y1="1466.1" x2="1352.4" y2="1466.1" stroke="#0b0b0b" stroke-width="4.7"/>
<rect x="1389.2" y="1179.5" width="57.4" height="97.0" fill="#df3113"/>
<rect x="1389.2" y="1276.5" width="57.4" height="167.4" fill="#fdd67a"/>
<rect x="1389.2" y="1443.9" width="57.4" height="46.7" fill="#7b9cd3"/>
<rect x="1389.2" y="1179.5" width="57.4" height="309.8" fill="none" stroke="#0b0b0b" stroke-width="4.7"/>
<line x1="1389.2" y1="1276.5" x2="1446.7" y2="1276.5" stroke="#0b0b0b" stroke-width="4.7"/>
<line x1="1389.2" y1="1443.9" x2="1446.7" y2="1443.9" stroke="#0b0b0b" stroke-width="4.7"/>
<text x="1240.6" y="1523.0" font-size="29.5" text-anchor="end" transform="rotate(-45 1240.6 1523.0) translate(1240.6 1523.0) scale(1 1.04) translate(-1240.6 -1523.0)">Adverse</text>
<text x="1335.6" y="1523.0" font-size="29.5" text-anchor="end" transform="rotate(-45 1335.6 1523.0) translate(1335.6 1523.0) scale(1 1.04) translate(-1335.6 -1523.0)">Intermediate</text>
<text x="1430.6" y="1523.0" font-size="29.5" text-anchor="end" transform="rotate(-45 1430.6 1523.0) translate(1430.6 1523.0) scale(1 1.04) translate(-1430.6 -1523.0)">Favorable</text>
<line x1="1580.5" y1="1171.0" x2="1580.5" y2="1486.8" stroke="#0b0b0b" stroke-width="3.5"/>
<line x1="1568.5" y1="1486.8" x2="1789.7" y2="1486.8" stroke="#0b0b0b" stroke-width="3.5"/>
<line x1="1568.5" y1="1172.7" x2="1580.5" y2="1172.7" stroke="#0b0b0b" stroke-width="3.5"/>
<line x1="1568.5" y1="1329.8" x2="1580.5" y2="1329.8" stroke="#0b0b0b" stroke-width="3.5"/>
<text x="1564.5" y="1187.1" font-size="31" text-anchor="end" transform="translate(1564.5 1187.1) scale(1 1.04) translate(-1564.5 -1187.1)">100</text>
<text x="1564.5" y="1344.1" font-size="31" text-anchor="end" transform="translate(1564.5 1344.1) scale(1 1.04) translate(-1564.5 -1344.1)">50</text>
<text x="1564.5" y="1501.2" font-size="31" text-anchor="end" transform="translate(1564.5 1501.2) scale(1 1.04) translate(-1564.5 -1501.2)">0</text>
<text x="1517.9" y="1392.6" font-size="31" text-anchor="start" textLength="103.28" lengthAdjust="spacingAndGlyphs" transform="rotate(-90 1517.9 1392.6) translate(1517.9 1392.6) scale(1 1.04) translate(-1517.9 -1392.6)">Percent</text>
<rect x="1612.9" y="1175.5" width="56.3" height="173.5" fill="#df3113"/>
<rect x="1612.9" y="1349.1" width="56.3" height="112.5" fill="#fdd67a"/>
<rect x="1612.9" y="1461.6" width="56.3" height="25.2" fill="#7b9cd3"/>
<rect x="1612.9" y="1175.5" width="56.3" height="310.0" fill="none" stroke="#0b0b0b" stroke-width="4.7"/>
<line x1="1612.9" y1="1349.1" x2="1669.2" y2="1349.1" stroke="#0b0b0b" stroke-width="4.7"/>
<line x1="1612.9" y1="1461.6" x2="1669.2" y2="1461.6" stroke="#0b0b0b" stroke-width="4.7"/>
<rect x="1702.8" y="1175.5" width="56.4" height="78.2" fill="#df3113"/>
<rect x="1702.8" y="1253.8" width="56.4" height="189.1" fill="#fdd67a"/>
<rect x="1702.8" y="1442.9" width="56.4" height="43.9" fill="#7b9cd3"/>
<rect x="1702.8" y="1175.5" width="56.4" height="310.0" fill="none" stroke="#0b0b0b" stroke-width="4.7"/>
<line x1="1702.8" y1="1253.8" x2="1759.2" y2="1253.8" stroke="#0b0b0b" stroke-width="4.7"/>
<line x1="1702.8" y1="1442.9" x2="1759.2" y2="1442.9" stroke="#0b0b0b" stroke-width="4.7"/>
<text x="1659.7" y="1513.0" font-size="29.5" text-anchor="end" transform="rotate(-45 1659.7 1513.0) translate(1659.7 1513.0) scale(1 1.04) translate(-1659.7 -1513.0)">LSC17 high</text>
<text x="1748.7" y="1511.0" font-size="29.5" text-anchor="end" transform="rotate(-45 1748.7 1511.0) translate(1748.7 1511.0) scale(1 1.04) translate(-1748.7 -1511.0)">LSC17 low</text>
<rect x="1816.2" y="1214.6" width="31.5" height="18.6" fill="#df3113" stroke="#0b0b0b" stroke-width="4.6"/>
<text x="1864.7" y="1235.5" font-size="30" text-anchor="start" transform="translate(1864.7 1235.5) scale(1 1.04) translate(-1864.7 -1235.5)">Enriched</text>
<rect x="1816.2" y="1260.0" width="31.5" height="18.7" fill="#fdd67a" stroke="#0b0b0b" stroke-width="4.6"/>
<text x="1864.7" y="1281.4" font-size="30" text-anchor="start" transform="translate(1864.7 1281.4) scale(1 1.04) translate(-1864.7 -1281.4)">Depleted</text>
<rect x="1816.2" y="1305.5" width="31.5" height="17.6" fill="#7b9cd3" stroke="#0b0b0b" stroke-width="4.6"/>
<text x="1864.7" y="1326.9" font-size="30" text-anchor="start" transform="translate(1864.7 1326.9) scale(1 1.04) translate(-1864.7 -1326.9)">None</text>
<text x="116.0" y="1760.0" font-size="37" text-anchor="start" font-weight="bold" transform="translate(116.0 1760.0) scale(1 1.04) translate(-116.0 -1760.0)">g</text>
<text x="257.9" y="1753.9" font-size="30" text-anchor="start" textLength="116.45" lengthAdjust="spacingAndGlyphs" transform="translate(257.9 1753.9) scale(1 1.04) translate(-257.9 -1753.9)">MECOM</text>
<text x="243.5" y="1784.3" font-size="30" text-anchor="start" textLength="146.30" lengthAdjust="spacingAndGlyphs" transform="translate(243.5 1784.3) scale(1 1.04) translate(-243.5 -1784.3)">expression</text>
<line x1="261.3" y1="1839.7" x2="287.6" y2="1839.7" stroke="#5a6db2" stroke-width="4.2"/>
<text x="294.3" y="1847.1" font-size="30" text-anchor="start" textLength="53.77" lengthAdjust="spacingAndGlyphs" transform="translate(294.3 1847.1) scale(1 1.04) translate(-294.3 -1847.1)">Low</text>
<line x1="261.3" y1="1875.3" x2="287.6" y2="1875.3" stroke="#972328" stroke-width="4.2"/>
<text x="294.2" y="1883.7" font-size="30" text-anchor="start" textLength="62.77" lengthAdjust="spacingAndGlyphs" transform="translate(294.2 1883.7) scale(1 1.04) translate(-294.2 -1883.7)">High</text>
<text x="286.3" y="1929.1" font-size="22.3" text-anchor="start" textLength="143.86" lengthAdjust="spacingAndGlyphs" transform="translate(286.3 1929.1) scale(1 1.04) translate(-286.3 -1929.1)">Threshold = 0.1</text>
<text x="330.4" y="1951.9" font-size="22.3" text-anchor="start" textLength="101.72" lengthAdjust="spacingAndGlyphs" transform="translate(330.4 1951.9) scale(1 1.04) translate(-330.4 -1951.9)">HR = 1.67</text>
<text x="325.6" y="1974.6" font-size="22.3" text-anchor="start" textLength="106.84" lengthAdjust="spacingAndGlyphs" transform="translate(325.6 1974.6) scale(1 1.04) translate(-325.6 -1974.6)">p = 0.0038</text>
<line x1="170.7" y1="1929.6" x2="170.7" y2="2112.8" stroke="#0b0b0b" stroke-width="4.6"/>
<line x1="165.2" y1="1930.8" x2="170.7" y2="1930.8" stroke="#0b0b0b" stroke-width="2.6"/>
<line x1="165.2" y1="1975.7" x2="170.7" y2="1975.7" stroke="#0b0b0b" stroke-width="2.6"/>
<line x1="165.2" y1="2021.3" x2="170.7" y2="2021.3" stroke="#0b0b0b" stroke-width="2.6"/>
<line x1="165.2" y1="2066.7" x2="170.7" y2="2066.7" stroke="#0b0b0b" stroke-width="2.6"/>
<line x1="165.2" y1="2112.1" x2="170.7" y2="2112.1" stroke="#0b0b0b" stroke-width="2.6"/>
<text x="82.1" y="1935.5" font-size="29.3" text-anchor="start" textLength="75.99" lengthAdjust="spacingAndGlyphs" transform="translate(82.1 1935.5) scale(1 1.04) translate(-82.1 -1935.5)">100%</text>
<text x="99.1" y="2030.1" font-size="29.3" text-anchor="start" textLength="59.10" lengthAdjust="spacingAndGlyphs" transform="translate(99.1 2030.1) scale(1 1.04) translate(-99.1 -2030.1)">50%</text>
<text x="115.7" y="2124.6" font-size="29.3" text-anchor="start" textLength="42.30" lengthAdjust="spacingAndGlyphs" transform="translate(115.7 2124.6) scale(1 1.04) translate(-115.7 -2124.6)">0%</text>
<line x1="183.2" y1="2122.3" x2="434.6" y2="2122.3" stroke="#0b0b0b" stroke-width="4.6"/>
<line x1="184.8" y1="2122.3" x2="184.8" y2="2127.3" stroke="#0b0b0b" stroke-width="2.8"/>
<line x1="233.7" y1="2122.3" x2="233.7" y2="2127.3" stroke="#0b0b0b" stroke-width="2.8"/>
<line x1="284.1" y1="2122.3" x2="284.1" y2="2127.3" stroke="#0b0b0b" stroke-width="2.8"/>
<line x1="333.7" y1="2122.3" x2="333.7" y2="2127.3" stroke="#0b0b0b" stroke-width="2.8"/>
<line x1="383.3" y1="2122.3" x2="383.3" y2="2127.3" stroke="#0b0b0b" stroke-width="2.8"/>
<line x1="433" y1="2122.3" x2="433" y2="2127.3" stroke="#0b0b0b" stroke-width="2.8"/>
<text x="178.4" y="2158.9" font-size="29.3" text-anchor="start" textLength="15.06" lengthAdjust="spacingAndGlyphs" transform="translate(178.4 2158.9) scale(1 1.04) translate(-178.4 -2158.9)">0</text>
<text x="253.9" y="2158.9" font-size="29.3" text-anchor="start" textLength="65.99" lengthAdjust="spacingAndGlyphs" transform="translate(253.9 2158.9) scale(1 1.04) translate(-253.9 -2158.9)">1000</text>
<text x="397.8" y="2158.9" font-size="29.3" text-anchor="start" textLength="67.56" lengthAdjust="spacingAndGlyphs" transform="translate(397.8 2158.9) scale(1 1.04) translate(-397.8 -2158.9)">2000</text>
<path d="M184.8,1930.8 L187.8,1930.8 L187.8,1939.7 L190.7,1939.7 L190.7,1948.5 L193.1,1948.5 L193.1,1949.7 L195.4,1949.7 L195.4,1950.9 L197.8,1950.9 L197.8,1953.3 L200.2,1953.3 L200.2,1955.6 L202.5,1955.6 L202.5,1959.2 L204.9,1959.2 L204.9,1962.7 L207.3,1962.7 L207.3,1966.3 L209.6,1966.3 L209.6,1969.8 L212.0,1969.8 L212.0,1974.5 L214.4,1974.5 L214.4,1979.3 L216.7,1979.3 L216.7,1982.2 L219.1,1982.2 L219.1,1985.2 L221.4,1985.2 L221.4,1987.1 L223.8,1987.1 L223.8,1989.1 L226.2,1989.1 L226.2,1991.1 L228.5,1991.1 L228.5,1993.1 L230.9,1993.1 L230.9,1995.0 L233.3,1995.0 L233.3,1997.0 L235.6,1997.0 L235.6,1998.8 L238.0,1998.8 L238.0,2000.5 L240.4,2000.5 L240.4,2002.3 L242.7,2002.3 L242.7,2004.1 L245.1,2004.1 L245.1,2004.3 L247.4,2004.3 L247.4,2004.4 L249.8,2004.4 L249.8,2004.6 L252.2,2004.6 L252.2,2004.8 L254.5,2004.8 L254.5,2005.5 L256.9,2005.5 L256.9,2006.2 L259.3,2006.2 L259.3,2006.9 L261.6,2006.9 L261.6,2007.6 L264.0,2007.6 L264.0,2008.6 L266.4,2008.6 L266.4,2009.5 L268.7,2009.5 L268.7,2009.9 L271.1,2009.9 L271.1,2010.2 L273.4,2010.2 L273.4,2010.5 L275.8,2010.5 L275.8,2010.8 L278.2,2010.8 L278.2,2011.2 L280.5,2011.2 L280.5,2011.3 L282.9,2011.3 L282.9,2011.5 L285.3,2011.5 L285.3,2011.6 L287.6,2011.6 L287.6,2011.7 L290.0,2011.7 L290.0,2011.9 L292.3,2011.9 L292.3,2012.1 L294.7,2012.1 L294.7,2012.4 L297.1,2012.4 L297.1,2012.6 L299.4,2012.6 L299.4,2012.8 L301.8,2012.8 L301.8,2013.1 L313.6,2013.5 L316.0,2013.5 L316.0,2013.8 L318.3,2013.8 L318.3,2014.0 L320.7,2014.0 L320.7,2014.2 L323.1,2014.2 L323.1,2014.5 L325.4,2014.5 L325.4,2014.7 L337.3,2015.2 L360.9,2015.7 L384.5,2016.1 L387.2,2016.1 L387.2,2016.3 L389.9,2016.3 L389.9,2016.4 L392.6,2016.4 L392.6,2016.5 L395.3,2016.5 L395.3,2016.7 L398.0,2016.7 L398.0,2016.8 L400.7,2016.8 L400.7,2016.9 L403.4,2016.9 L403.4,2017.1 L405.8,2017.1 L405.8,2019.4 L435.3,2019.4" fill="none" stroke="#5a6db2" stroke-width="3.7" stroke-linejoin="miter" stroke-linecap="butt"/>
<path d="M184.8,1930.8 L188.4,1930.8 L188.4,1936.7 L190.7,1936.7 L190.7,1948.5 L193.1,1948.5 L193.1,1965.1 L195.4,1965.1 L195.4,1979.3 L197.8,1979.3 L197.8,1981.6 L207.3,1981.6 L209.6,1981.6 L209.6,1986.4 L212.0,1986.4 L212.0,1995.8 L214.4,1995.8 L214.4,1999.4 L216.7,1999.4 L216.7,2002.9 L219.1,2002.9 L219.1,2005.3 L221.4,2005.3 L221.4,2006.4 L223.8,2006.4 L223.8,2007.6 L226.2,2007.6 L226.2,2010.0 L228.5,2010.0 L228.5,2012.4 L230.9,2012.4 L230.9,2019.4 L233.3,2019.4 L233.3,2028.9 L235.6,2028.9 L235.6,2031.0 L238.0,2031.0 L238.0,2033.2 L242.7,2033.6 L245.1,2033.6 L245.1,2038.4 L247.4,2038.4 L247.4,2040.7 L249.8,2040.7 L249.8,2043.1 L252.2,2043.1 L252.2,2045.4 L266.4,2045.9 L268.7,2045.9 L268.7,2049.0 L435.3,2049.0" fill="none" stroke="#972328" stroke-width="3.7" stroke-linejoin="miter" stroke-linecap="butt"/>
<text x="65.7" y="2139.8" font-size="32.5" text-anchor="start" textLength="254.31" lengthAdjust="spacingAndGlyphs" transform="rotate(-90 65.7 2139.8) translate(65.7 2139.8) scale(1 1.04) translate(-65.7 -2139.8)">Event-free survival</text>
<text x="526.6" y="1760.3" font-size="37" text-anchor="start" font-weight="bold" transform="translate(526.6 1760.3) scale(1 1.04) translate(-526.6 -1760.3)">h</text>
<text x="671.9" y="1753.6" font-size="30" text-anchor="start" textLength="117.18" lengthAdjust="spacingAndGlyphs" transform="translate(671.9 1753.6) scale(1 1.04) translate(-671.9 -1753.6)">MECOM</text>
<text x="674.6" y="1783.4" font-size="30" text-anchor="start" textLength="109.71" lengthAdjust="spacingAndGlyphs" transform="translate(674.6 1783.4) scale(1 1.04) translate(-674.6 -1783.4)">Network</text>
<line x1="663.8" y1="1838.3" x2="688.4" y2="1838.3" stroke="#5a6db2" stroke-width="4.2"/>
<text x="692.5" y="1845.4" font-size="30" text-anchor="start" textLength="120.70" lengthAdjust="spacingAndGlyphs" transform="translate(692.5 1845.4) scale(1 1.04) translate(-692.5 -1845.4)">Depleted</text>
<line x1="663.8" y1="1870.6" x2="689.7" y2="1870.6" stroke="#972328" stroke-width="4.2"/>
<text x="692.9" y="1878.6" font-size="30" text-anchor="start" textLength="120.06" lengthAdjust="spacingAndGlyphs" transform="translate(692.9 1878.6) scale(1 1.04) translate(-692.9 -1878.6)">Enriched</text>
<text x="748.0" y="1924.0" font-size="22.3" text-anchor="start" textLength="102.44" lengthAdjust="spacingAndGlyphs" transform="translate(748.0 1924.0) scale(1 1.04) translate(-748.0 -1924.0)">HR = 2.38</text>
<text x="748.5" y="1946.9" font-size="22.3" text-anchor="start" textLength="103.87" lengthAdjust="spacingAndGlyphs" transform="translate(748.5 1946.9) scale(1 1.04) translate(-748.5 -1946.9)">p &lt; 0.0001</text>
<line x1="585" y1="1923.3" x2="585" y2="2112.3" stroke="#0b0b0b" stroke-width="4.6"/>
<line x1="579.5" y1="1923.7" x2="585" y2="1923.7" stroke="#0b0b0b" stroke-width="2.6"/>
<line x1="579.5" y1="1970.5" x2="585" y2="1970.5" stroke="#0b0b0b" stroke-width="2.6"/>
<line x1="579.5" y1="2017.1" x2="585" y2="2017.1" stroke="#0b0b0b" stroke-width="2.6"/>
<line x1="579.5" y1="2063.6" x2="585" y2="2063.6" stroke="#0b0b0b" stroke-width="2.6"/>
<line x1="579.5" y1="2111.6" x2="585" y2="2111.6" stroke="#0b0b0b" stroke-width="2.6"/>
<text x="494.3" y="1937.9" font-size="29.3" text-anchor="start" textLength="74.31" lengthAdjust="spacingAndGlyphs" transform="translate(494.3 1937.9) scale(1 1.04) translate(-494.3 -1937.9)">100%</text>
<text x="510.8" y="2032.0" font-size="29.3" text-anchor="start" textLength="57.85" lengthAdjust="spacingAndGlyphs" transform="translate(510.8 2032.0) scale(1 1.04) translate(-510.8 -2032.0)">50%</text>
<text x="527.4" y="2125.8" font-size="29.3" text-anchor="start" textLength="41.14" lengthAdjust="spacingAndGlyphs" transform="translate(527.4 2125.8) scale(1 1.04) translate(-527.4 -2125.8)">0%</text>
<line x1="597.6" y1="2122.3" x2="848.2" y2="2122.3" stroke="#0b0b0b" stroke-width="4.6"/>
<line x1="598.8" y1="2122.3" x2="598.8" y2="2127.3" stroke="#0b0b0b" stroke-width="2.8"/>
<line x1="647.7" y1="2122.3" x2="647.7" y2="2127.3" stroke="#0b0b0b" stroke-width="2.8"/>
<line x1="698.1" y1="2122.3" x2="698.1" y2="2127.3" stroke="#0b0b0b" stroke-width="2.8"/>
<line x1="747.7" y1="2122.3" x2="747.7" y2="2127.3" stroke="#0b0b0b" stroke-width="2.8"/>
<line x1="797.3" y1="2122.3" x2="797.3" y2="2127.3" stroke="#0b0b0b" stroke-width="2.8"/>
<line x1="847" y1="2122.3" x2="847" y2="2127.3" stroke="#0b0b0b" stroke-width="2.8"/>
<text x="589.5" y="2158.9" font-size="29.3" text-anchor="start" textLength="15.64" lengthAdjust="spacingAndGlyphs" transform="translate(589.5 2158.9) scale(1 1.04) translate(-589.5 -2158.9)">0</text>
<text x="665.7" y="2158.9" font-size="29.3" text-anchor="start" textLength="64.73" lengthAdjust="spacingAndGlyphs" transform="translate(665.7 2158.9) scale(1 1.04) translate(-665.7 -2158.9)">1000</text>
<text x="809.4" y="2158.9" font-size="29.3" text-anchor="start" textLength="66.32" lengthAdjust="spacingAndGlyphs" transform="translate(809.4 2158.9) scale(1 1.04) translate(-809.4 -2158.9)">2000</text>
<path d="M599.5,1923.7 L602.4,1923.7 L602.4,1924.9 L605.9,1924.9 L605.9,1936.7 L608.9,1936.7 L608.9,1939.7 L611.8,1939.7 L611.8,1942.6 L614.2,1942.6 L614.2,1945.0 L616.5,1945.0 L616.5,1947.4 L618.9,1947.4 L618.9,1949.3 L621.3,1949.3 L621.3,1951.3 L623.6,1951.3 L623.6,1953.3 L626.0,1953.3 L626.0,1956.8 L628.4,1956.8 L628.4,1960.4 L630.7,1960.4 L630.7,1963.9 L633.1,1963.9 L633.1,1965.7 L635.4,1965.7 L635.4,1967.4 L637.8,1967.4 L637.8,1968.9 L640.2,1968.9 L640.2,1970.4 L642.5,1970.4 L642.5,1971.9 L644.9,1971.9 L644.9,1973.4 L647.3,1973.4 L647.3,1976.9 L649.6,1976.9 L649.6,1980.4 L652.0,1980.4 L652.0,1981.3 L654.4,1981.3 L654.4,1982.1 L657.2,1982.1 L657.2,1982.5 L660.0,1982.5 L660.0,1982.9 L662.9,1982.9 L662.9,1983.2 L665.7,1983.2 L665.7,1983.6 L668.5,1983.6 L668.5,1984.0 L670.9,1984.0 L670.9,1985.1 L673.3,1985.1 L673.3,1986.1 L675.6,1986.1 L675.6,1987.2 L678.0,1987.2 L678.0,1988.2 L680.4,1988.2 L680.4,1988.8 L682.7,1988.8 L682.7,1989.4 L685.1,1989.4 L685.1,1990.0 L687.4,1990.0 L687.4,1990.6 L689.8,1990.6 L689.8,1991.2 L692.2,1991.2 L692.2,1991.8 L694.5,1991.8 L694.5,1992.4 L696.9,1992.4 L696.9,1993.0 L711.1,1993.4 L713.4,1993.4 L713.4,1993.9 L715.8,1993.9 L715.8,1994.4 L718.2,1994.4 L718.2,1994.9 L720.5,1994.9 L720.5,1995.3 L722.9,1995.3 L722.9,1995.5 L725.3,1995.5 L725.3,1995.7 L727.6,1995.7 L727.6,1995.9 L730.0,1995.9 L730.0,1996.1 L732.3,1996.1 L732.3,1996.3 L734.7,1996.3 L734.7,1997.2 L737.1,1997.2 L737.1,1998.2 L815.1,1998.2 L817.4,1998.2 L817.4,2001.7 L848.2,2001.7" fill="none" stroke="#5a6db2" stroke-width="3.7" stroke-linejoin="miter" stroke-linecap="butt"/>
<path d="M599.5,1923.7 L602.4,1923.7 L602.4,1936.7 L605.9,1936.7 L605.9,1963.9 L607.1,1963.9 L607.1,1969.8 L609.4,1969.8 L609.4,1971.0 L611.8,1971.0 L611.8,1972.2 L614.2,1972.2 L614.2,1974.5 L616.5,1974.5 L616.5,1979.3 L618.9,1979.3 L618.9,1984.0 L621.3,1984.0 L621.3,1988.7 L623.6,1988.7 L623.6,1993.4 L626.0,1993.4 L626.0,2000.5 L628.4,2000.5 L628.4,2005.3 L630.7,2005.3 L630.7,2010.0 L633.1,2010.0 L633.1,2013.5 L635.4,2013.5 L635.4,2017.1 L637.8,2017.1 L637.8,2019.4 L640.2,2019.4 L640.2,2021.8 L642.5,2021.8 L642.5,2025.4 L644.9,2025.4 L644.9,2028.9 L647.3,2028.9 L647.3,2031.9 L649.6,2031.9 L649.6,2034.8 L652.0,2034.8 L652.0,2036.0 L654.4,2036.0 L654.4,2037.2 L656.7,2037.2 L656.7,2038.4 L659.1,2038.4 L659.1,2040.1 L661.4,2040.1 L661.4,2041.9 L663.8,2041.9 L663.8,2042.7 L666.2,2042.7 L666.2,2043.5 L668.5,2043.5 L668.5,2044.3 L670.9,2044.3 L670.9,2044.7 L673.3,2044.7 L673.3,2045.1 L675.6,2045.1 L675.6,2045.4 L678.0,2045.4 L678.0,2046.6 L680.4,2046.6 L680.4,2047.8 L751.3,2047.8 L753.6,2047.8 L753.6,2050.2 L798.5,2050.2 L800.9,2050.2 L800.9,2052.5 L848.2,2052.5" fill="none" stroke="#972328" stroke-width="3.7" stroke-linejoin="miter" stroke-linecap="butt"/>
<text x="930.4" y="1760.3" font-size="37" text-anchor="start" font-weight="bold" transform="translate(930.4 1760.3) scale(1 1.04) translate(-930.4 -1760.3)">i</text>
<text x="1074.0" y="1753.6" font-size="30" text-anchor="start" textLength="117.18" lengthAdjust="spacingAndGlyphs" transform="translate(1074.0 1753.6) scale(1 1.04) translate(-1074.0 -1753.6)">MECOM</text>
<text x="1101.9" y="1783.4" font-size="30" text-anchor="start" textLength="61.47" lengthAdjust="spacingAndGlyphs" transform="translate(1101.9 1783.4) scale(1 1.04) translate(-1101.9 -1783.4)">NES</text>
<line x1="1075" y1="1826.5" x2="1100.6" y2="1826.5" stroke="#5a6db2" stroke-width="4.2"/>
<text x="1107.3" y="1834.5" font-size="30" text-anchor="start" textLength="53.77" lengthAdjust="spacingAndGlyphs" transform="translate(1107.3 1834.5) scale(1 1.04) translate(-1107.3 -1834.5)">Low</text>
<line x1="1075" y1="1862.2" x2="1100.6" y2="1862.2" stroke="#972328" stroke-width="4.2"/>
<text x="1107.1" y="1870.2" font-size="30" text-anchor="start" textLength="63.20" lengthAdjust="spacingAndGlyphs" transform="translate(1107.1 1870.2) scale(1 1.04) translate(-1107.1 -1870.2)">High</text>
<text x="1091.5" y="1931.3" font-size="22.3" text-anchor="start" textLength="158.00" lengthAdjust="spacingAndGlyphs" transform="translate(1091.5 1931.3) scale(1 1.04) translate(-1091.5 -1931.3)">Threshold = 1.28</text>
<text x="1147.3" y="1954.0" font-size="22.3" text-anchor="start" textLength="102.44" lengthAdjust="spacingAndGlyphs" transform="translate(1147.3 1954.0) scale(1 1.04) translate(-1147.3 -1954.0)">HR = 2.43</text>
<text x="1142.2" y="1976.6" font-size="22.3" text-anchor="start" textLength="105.00" lengthAdjust="spacingAndGlyphs" transform="translate(1142.2 1976.6) scale(1 1.04) translate(-1142.2 -1976.6)">p &lt; 0.0001</text>
<line x1="987.2" y1="1923" x2="987.2" y2="2112.8" stroke="#0b0b0b" stroke-width="4.6"/>
<line x1="981.7" y1="1923.7" x2="987.2" y2="1923.7" stroke="#0b0b0b" stroke-width="2.6"/>
<line x1="981.7" y1="1970.5" x2="987.2" y2="1970.5" stroke="#0b0b0b" stroke-width="2.6"/>
<line x1="981.7" y1="2018.3" x2="987.2" y2="2018.3" stroke="#0b0b0b" stroke-width="2.6"/>
<line x1="981.7" y1="2064.4" x2="987.2" y2="2064.4" stroke="#0b0b0b" stroke-width="2.6"/>
<line x1="981.7" y1="2112.1" x2="987.2" y2="2112.1" stroke="#0b0b0b" stroke-width="2.6"/>
<text x="900.8" y="1933.2" font-size="29.3" text-anchor="start" textLength="74.21" lengthAdjust="spacingAndGlyphs" transform="translate(900.8 1933.2) scale(1 1.04) translate(-900.8 -1933.2)">100%</text>
<text x="917.2" y="2027.0" font-size="29.3" text-anchor="start" textLength="57.85" lengthAdjust="spacingAndGlyphs" transform="translate(917.2 2027.0) scale(1 1.04) translate(-917.2 -2027.0)">50%</text>
<text x="933.9" y="2121.5" font-size="29.3" text-anchor="start" textLength="41.04" lengthAdjust="spacingAndGlyphs" transform="translate(933.9 2121.5) scale(1 1.04) translate(-933.9 -2121.5)">0%</text>
<line x1="1000.5" y1="2122.3" x2="1249.9" y2="2122.3" stroke="#0b0b0b" stroke-width="4.6"/>
<line x1="1001.7" y1="2122.3" x2="1001.7" y2="2127.3" stroke="#0b0b0b" stroke-width="2.8"/>
<line x1="1050.6" y1="2122.3" x2="1050.6" y2="2127.3" stroke="#0b0b0b" stroke-width="2.8"/>
<line x1="1100.3" y1="2122.3" x2="1100.3" y2="2127.3" stroke="#0b0b0b" stroke-width="2.8"/>
<line x1="1149.9" y1="2122.3" x2="1149.9" y2="2127.3" stroke="#0b0b0b" stroke-width="2.8"/>
<line x1="1199.5" y1="2122.3" x2="1199.5" y2="2127.3" stroke="#0b0b0b" stroke-width="2.8"/>
<line x1="1248.7" y1="2122.3" x2="1248.7" y2="2127.3" stroke="#0b0b0b" stroke-width="2.8"/>
<text x="993.4" y="2158.9" font-size="29.3" text-anchor="start" textLength="15.87" lengthAdjust="spacingAndGlyphs" transform="translate(993.4 2158.9) scale(1 1.04) translate(-993.4 -2158.9)">0</text>
<text x="1069.2" y="2158.9" font-size="29.3" text-anchor="start" textLength="66.52" lengthAdjust="spacingAndGlyphs" transform="translate(1069.2 2158.9) scale(1 1.04) translate(-1069.2 -2158.9)">1000</text>
<text x="1214.2" y="2158.9" font-size="29.3" text-anchor="start" textLength="66.84" lengthAdjust="spacingAndGlyphs" transform="translate(1214.2 2158.9) scale(1 1.04) translate(-1214.2 -2158.9)">2000</text>
<path d="M1001.7,1930.8 L1005.3,1930.8 L1005.3,1932.0 L1008.8,1932.0 L1008.8,1943.8 L1011.8,1943.8 L1011.8,1946.2 L1014.7,1946.2 L1014.7,1948.5 L1017.1,1948.5 L1017.1,1950.9 L1019.4,1950.9 L1019.4,1953.3 L1021.8,1953.3 L1021.8,1955.6 L1024.2,1955.6 L1024.2,1958.6 L1026.5,1958.6 L1026.5,1961.5 L1029.5,1961.5 L1029.5,1966.3 L1032.4,1966.3 L1032.4,1971.0 L1035.2,1971.0 L1035.2,1973.0 L1038.0,1973.0 L1038.0,1974.9 L1040.7,1974.9 L1040.7,1976.9 L1043.1,1976.9 L1043.1,1978.7 L1045.4,1978.7 L1045.4,1980.4 L1047.8,1980.4 L1047.8,1982.8 L1050.2,1982.8 L1050.2,1985.2 L1052.5,1985.2 L1052.5,1986.4 L1054.9,1986.4 L1054.9,1987.5 L1057.7,1987.5 L1057.7,1987.9 L1060.6,1987.9 L1060.6,1988.2 L1063.4,1988.2 L1063.4,1988.5 L1066.2,1988.5 L1066.2,1988.9 L1069.1,1988.9 L1069.1,1989.2 L1071.4,1989.2 L1071.4,1990.3 L1073.8,1990.3 L1073.8,1991.3 L1076.2,1991.3 L1076.2,1992.4 L1078.5,1992.4 L1078.5,1993.4 L1080.9,1993.4 L1080.9,1994.0 L1083.3,1994.0 L1083.3,1994.6 L1085.6,1994.6 L1085.6,1995.2 L1088.0,1995.2 L1088.0,1995.8 L1090.4,1995.8 L1090.4,1996.2 L1092.7,1996.2 L1092.7,1996.6 L1095.1,1996.6 L1095.1,1997.1 L1097.4,1997.1 L1097.4,1997.5 L1100.1,1997.5 L1100.1,1997.6 L1102.8,1997.6 L1102.8,1997.7 L1105.5,1997.7 L1105.5,1997.8 L1108.2,1997.8 L1108.2,1997.9 L1110.9,1997.9 L1110.9,1998.0 L1113.6,1998.0 L1113.6,1998.1 L1116.4,1998.1 L1116.4,1998.2 L1119.1,1998.2 L1119.1,1998.6 L1121.8,1998.6 L1121.8,1999.0 L1124.5,1999.0 L1124.5,1999.4 L1127.2,1999.4 L1127.2,1999.8 L1129.9,1999.8 L1129.9,2000.2 L1132.6,2000.2 L1132.6,2000.6 L1135.3,2000.6 L1135.3,2001.0 L1137.6,2001.0 L1137.6,2001.7 L1140.0,2001.7 L1140.0,2002.4 L1216.8,2002.4 L1219.2,2002.4 L1219.2,2006.4 L1248.7,2006.4" fill="none" stroke="#5a6db2" stroke-width="3.7" stroke-linejoin="miter" stroke-linecap="butt"/>
<path d="M1001.7,1930.8 L1005.3,1930.8 L1005.3,1936.7 L1007.6,1936.7 L1007.6,1958.0 L1010.0,1958.0 L1010.0,1972.2 L1012.4,1972.2 L1012.4,1973.9 L1014.7,1973.9 L1014.7,1975.7 L1017.1,1975.7 L1017.1,1979.3 L1019.4,1979.3 L1019.4,1985.2 L1021.8,1985.2 L1021.8,1991.1 L1024.2,1991.1 L1024.2,1995.8 L1026.5,1995.8 L1026.5,2000.5 L1028.9,2000.5 L1028.9,2006.4 L1031.3,2006.4 L1031.3,2012.4 L1033.6,2012.4 L1033.6,2016.5 L1036.0,2016.5 L1036.0,2020.6 L1038.4,2020.6 L1038.4,2022.4 L1040.7,2022.4 L1040.7,2024.2 L1043.1,2024.2 L1043.1,2028.9 L1045.4,2028.9 L1045.4,2033.6 L1047.8,2033.6 L1047.8,2038.4 L1050.2,2038.4 L1050.2,2040.7 L1052.5,2040.7 L1052.5,2043.1 L1054.9,2043.1 L1054.9,2044.7 L1057.3,2044.7 L1057.3,2046.2 L1059.6,2046.2 L1059.6,2047.8 L1062.0,2047.8 L1062.0,2048.6 L1064.4,2048.6 L1064.4,2049.4 L1066.7,2049.4 L1066.7,2050.2 L1069.1,2050.2 L1069.1,2050.5 L1071.4,2050.5 L1071.4,2050.8 L1073.8,2050.8 L1073.8,2051.1 L1076.2,2051.1 L1076.2,2051.4 L1078.5,2051.4 L1078.5,2052.5 L1080.9,2052.5 L1080.9,2053.7 L1151.8,2053.7 L1154.2,2053.7 L1154.2,2056.1 L1199.1,2056.1 L1201.4,2056.1 L1201.4,2058.9 L1247.5,2058.9" fill="none" stroke="#972328" stroke-width="3.7" stroke-linejoin="miter" stroke-linecap="butt"/>
<text x="1040.8" y="2208.1" font-size="30.5" text-anchor="start" textLength="185.04" lengthAdjust="spacingAndGlyphs" transform="translate(1040.8 2208.1) scale(1 1.04) translate(-1040.8 -2208.1)">Days to event</text>
<text x="1383.6" y="1760.3" font-size="37" text-anchor="start" font-weight="bold" transform="translate(1383.6 1760.3) scale(1 1.04) translate(-1383.6 -1760.3)">j</text>
<text x="1491.9" y="1753.6" font-size="30" text-anchor="start" textLength="151.88" lengthAdjust="spacingAndGlyphs" transform="translate(1491.9 1753.6) scale(1 1.04) translate(-1491.9 -1753.6)">Clinical risk</text>
<line x1="1469.3" y1="1792.9" x2="1492.8" y2="1792.9" stroke="#5a6db2" stroke-width="4.2"/>
<text x="1505.3" y="1800.3" font-size="30" text-anchor="start" textLength="131.54" lengthAdjust="spacingAndGlyphs" transform="translate(1505.3 1800.3) scale(1 1.04) translate(-1505.3 -1800.3)">Favorable</text>
<line x1="1469.3" y1="1822.3" x2="1492.8" y2="1822.3" stroke="#f5c865" stroke-width="4.2"/>
<text x="1504.9" y="1829.2" font-size="30" text-anchor="start" textLength="170.03" lengthAdjust="spacingAndGlyphs" transform="translate(1504.9 1829.2) scale(1 1.04) translate(-1504.9 -1829.2)">Intermediate</text>
<line x1="1469.3" y1="1851.3" x2="1492.8" y2="1851.3" stroke="#972328" stroke-width="4.2"/>
<text x="1506.6" y="1858.2" font-size="30" text-anchor="start" textLength="109.34" lengthAdjust="spacingAndGlyphs" transform="translate(1506.6 1858.2) scale(1 1.04) translate(-1506.6 -1858.2)">Adverse</text>
<text x="1488.1" y="1903.4" font-size="22.3" text-anchor="start" textLength="189.54" lengthAdjust="spacingAndGlyphs" transform="translate(1488.1 1903.4) scale(1 1.04) translate(-1488.1 -1903.4)">HR (adverse) = 4.86</text>
<text x="1429.4" y="1925.8" font-size="22.3" text-anchor="start" textLength="248.00" lengthAdjust="spacingAndGlyphs" transform="translate(1429.4 1925.8) scale(1 1.04) translate(-1429.4 -1925.8)">HR (intermediate) = 3.14</text>
<text x="1571.3" y="1948.1" font-size="22.3" text-anchor="start" textLength="105.51" lengthAdjust="spacingAndGlyphs" transform="translate(1571.3 1948.1) scale(1 1.04) translate(-1571.3 -1948.1)">p &lt; 0.0001</text>
<line x1="1402.8" y1="1922.1" x2="1402.8" y2="2119.2" stroke="#0b0b0b" stroke-width="4.6"/>
<line x1="1397.3" y1="1922.5" x2="1402.8" y2="1922.5" stroke="#0b0b0b" stroke-width="2.6"/>
<line x1="1397.3" y1="1971" x2="1402.8" y2="1971" stroke="#0b0b0b" stroke-width="2.6"/>
<line x1="1397.3" y1="2020.6" x2="1402.8" y2="2020.6" stroke="#0b0b0b" stroke-width="2.6"/>
<line x1="1397.3" y1="2069.1" x2="1402.8" y2="2069.1" stroke="#0b0b0b" stroke-width="2.6"/>
<line x1="1397.3" y1="2118.7" x2="1402.8" y2="2118.7" stroke="#0b0b0b" stroke-width="2.6"/>
<text x="1314.4" y="1937.2" font-size="29.3" text-anchor="start" textLength="74.73" lengthAdjust="spacingAndGlyphs" transform="translate(1314.4 1937.2) scale(1 1.04) translate(-1314.4 -1937.2)">100%</text>
<text x="1330.1" y="2031.7" font-size="29.3" text-anchor="start" textLength="59.10" lengthAdjust="spacingAndGlyphs" transform="translate(1330.1 2031.7) scale(1 1.04) translate(-1330.1 -2031.7)">50%</text>
<text x="1346.7" y="2125.8" font-size="29.3" text-anchor="start" textLength="42.30" lengthAdjust="spacingAndGlyphs" transform="translate(1346.7 2125.8) scale(1 1.04) translate(-1346.7 -2125.8)">0%</text>
<line x1="1414.6" y1="2127.7" x2="1665.2" y2="2127.7" stroke="#0b0b0b" stroke-width="4.6"/>
<line x1="1415.8" y1="2127.7" x2="1415.8" y2="2132.7" stroke="#0b0b0b" stroke-width="2.8"/>
<line x1="1464.7" y1="2127.7" x2="1464.7" y2="2132.7" stroke="#0b0b0b" stroke-width="2.8"/>
<line x1="1514.4" y1="2127.7" x2="1514.4" y2="2132.7" stroke="#0b0b0b" stroke-width="2.8"/>
<line x1="1564" y1="2127.7" x2="1564" y2="2132.7" stroke="#0b0b0b" stroke-width="2.8"/>
<line x1="1613.6" y1="2127.7" x2="1613.6" y2="2132.7" stroke="#0b0b0b" stroke-width="2.8"/>
<line x1="1663.3" y1="2127.7" x2="1663.3" y2="2132.7" stroke="#0b0b0b" stroke-width="2.8"/>
<text x="1409.4" y="2159.4" font-size="29.3" text-anchor="start" textLength="15.64" lengthAdjust="spacingAndGlyphs" transform="translate(1409.4 2159.4) scale(1 1.04) translate(-1409.4 -2159.4)">0</text>
<text x="1486.2" y="2159.4" font-size="29.3" text-anchor="start" textLength="64.73" lengthAdjust="spacingAndGlyphs" transform="translate(1486.2 2159.4) scale(1 1.04) translate(-1486.2 -2159.4)">1000</text>
<text x="1630.0" y="2159.4" font-size="29.3" text-anchor="start" textLength="66.32" lengthAdjust="spacingAndGlyphs" transform="translate(1630.0 2159.4) scale(1 1.04) translate(-1630.0 -2159.4)">2000</text>
<path d="M1417.0,1930.8 L1419.4,1930.8 L1419.4,1931.2 L1421.7,1931.2 L1421.7,1931.5 L1424.1,1931.5 L1424.1,1939.1 L1437.1,1939.1 L1439.4,1939.1 L1439.4,1941.5 L1441.8,1941.5 L1441.8,1943.8 L1444.2,1943.8 L1444.2,1949.7 L1446.5,1949.7 L1446.5,1950.9 L1448.9,1950.9 L1448.9,1952.1 L1451.3,1952.1 L1451.3,1953.3 L1453.6,1953.3 L1453.6,1955.0 L1456.0,1955.0 L1456.0,1956.8 L1458.4,1956.8 L1458.4,1959.8 L1460.7,1959.8 L1460.7,1962.7 L1463.1,1962.7 L1463.1,1965.1 L1465.4,1965.1 L1465.4,1967.4 L1467.8,1967.4 L1467.8,1968.6 L1470.2,1968.6 L1470.2,1969.8 L1472.5,1969.8 L1472.5,1970.4 L1474.9,1970.4 L1474.9,1971.0 L1477.3,1971.0 L1477.3,1971.3 L1479.6,1971.3 L1479.6,1971.6 L1482.0,1971.6 L1482.0,1971.9 L1484.4,1971.9 L1484.4,1972.2 L1486.7,1972.2 L1486.7,1973.1 L1489.1,1973.1 L1489.1,1973.9 L1491.4,1973.9 L1491.4,1974.8 L1493.8,1974.8 L1493.8,1975.7 L1534.0,1975.7 L1536.4,1975.7 L1536.4,1978.1 L1548.2,1978.1 L1550.5,1978.1 L1550.5,1980.4 L1614.3,1980.4 L1616.7,1980.4 L1616.7,1983.3 L1665.2,1983.3" fill="none" stroke="#5a6db2" stroke-width="3.7" stroke-linejoin="miter" stroke-linecap="butt"/>
<path d="M1417.0,1930.8 L1420.5,1930.8 L1420.5,1939.1 L1422.9,1939.1 L1422.9,1950.9 L1425.3,1950.9 L1425.3,1956.8 L1427.6,1956.8 L1427.6,1962.7 L1430.0,1962.7 L1430.0,1967.4 L1432.4,1967.4 L1432.4,1972.2 L1434.7,1972.2 L1434.7,1975.7 L1437.1,1975.7 L1437.1,1979.3 L1439.4,1979.3 L1439.4,1984.0 L1441.8,1984.0 L1441.8,1988.7 L1444.2,1988.7 L1444.2,1993.4 L1446.5,1993.4 L1446.5,1998.2 L1448.9,1998.2 L1448.9,2002.9 L1451.3,2002.9 L1451.3,2007.6 L1453.6,2007.6 L1453.6,2010.6 L1456.0,2010.6 L1456.0,2013.5 L1458.4,2013.5 L1458.4,2016.5 L1460.7,2016.5 L1460.7,2019.4 L1463.1,2019.4 L1463.1,2021.8 L1465.4,2021.8 L1465.4,2024.2 L1467.8,2024.2 L1467.8,2025.7 L1470.2,2025.7 L1470.2,2027.1 L1472.5,2027.1 L1472.5,2028.6 L1474.9,2028.6 L1474.9,2030.1 L1477.3,2030.1 L1477.3,2031.3 L1479.6,2031.3 L1479.6,2032.4 L1482.0,2032.4 L1482.0,2033.6 L1484.4,2033.6 L1484.4,2034.8 L1486.7,2034.8 L1486.7,2035.7 L1489.1,2035.7 L1489.1,2036.6 L1491.4,2036.6 L1491.4,2037.5 L1493.8,2037.5 L1493.8,2038.4 L1496.2,2038.4 L1496.2,2039.2 L1498.5,2039.2 L1498.5,2040.1 L1500.9,2040.1 L1500.9,2041.0 L1503.3,2041.0 L1503.3,2041.9 L1505.6,2041.9 L1505.6,2042.2 L1508.0,2042.2 L1508.0,2042.5 L1510.4,2042.5 L1510.4,2042.8 L1512.7,2042.8 L1512.7,2043.1 L1515.3,2043.1 L1515.3,2043.2 L1518.0,2043.2 L1518.0,2043.3 L1520.6,2043.3 L1520.6,2043.5 L1523.2,2043.5 L1523.2,2043.6 L1525.8,2043.6 L1525.8,2043.7 L1528.5,2043.7 L1528.5,2043.9 L1531.1,2043.9 L1531.1,2044.0 L1533.7,2044.0 L1533.7,2044.1 L1536.4,2044.1 L1536.4,2044.3 L1539.1,2044.3 L1539.1,2044.5 L1541.9,2044.5 L1541.9,2044.7 L1544.6,2044.7 L1544.6,2044.9 L1547.4,2044.9 L1547.4,2045.1 L1550.1,2045.1 L1550.1,2045.2 L1552.9,2045.2 L1552.9,2045.4 L1665.2,2045.4" fill="none" stroke="#f5c865" stroke-width="3.7" stroke-linejoin="miter" stroke-linecap="butt"/>
<path d="M1417.0,1930.8 L1419.4,1930.8 L1419.4,1941.5 L1421.7,1941.5 L1421.7,1958.0 L1422.9,1958.0 L1422.9,1984.0 L1425.3,1984.0 L1425.3,1988.7 L1427.6,1988.7 L1427.6,1993.4 L1433.5,1993.4 L1435.9,1993.4 L1435.9,2002.9 L1438.3,2002.9 L1438.3,2012.4 L1440.6,2012.4 L1440.6,2017.1 L1444.2,2017.1 L1444.2,2021.8 L1446.5,2021.8 L1446.5,2028.9 L1448.9,2028.9 L1448.9,2030.7 L1451.3,2030.7 L1451.3,2032.4 L1453.6,2032.4 L1453.6,2032.9 L1456.0,2032.9 L1456.0,2033.4 L1458.4,2033.4 L1458.4,2033.9 L1460.7,2033.9 L1460.7,2034.3 L1463.1,2034.3 L1463.1,2034.8 L1465.4,2034.8 L1465.4,2043.1 L1467.8,2043.1 L1467.8,2045.4 L1470.2,2045.4 L1470.2,2047.8 L1472.5,2047.8 L1472.5,2050.2 L1474.9,2050.2 L1474.9,2052.5 L1477.7,2052.5 L1477.7,2052.9 L1480.6,2052.9 L1480.6,2053.3 L1483.4,2053.3 L1483.4,2053.7 L1486.2,2053.7 L1486.2,2054.0 L1489.1,2054.0 L1489.1,2054.4 L1491.4,2054.4 L1491.4,2056.4 L1493.8,2056.4 L1493.8,2058.4 L1496.2,2058.4 L1496.2,2059.6 L1498.5,2059.6 L1498.5,2060.8 L1567.1,2060.8 L1569.4,2060.8 L1569.4,2064.4 L1633.3,2064.4 L1635.6,2064.4 L1635.6,2071.4 L1664.0,2071.4" fill="none" stroke="#972328" stroke-width="3.7" stroke-linejoin="miter" stroke-linecap="butt"/>
<text x="1831.8" y="1760.6" font-size="37" text-anchor="start" font-weight="bold" transform="translate(1831.8 1760.6) scale(1 1.04) translate(-1831.8 -1760.6)">k</text>
<text x="1953.6" y="1754.3" font-size="30" text-anchor="start" textLength="90.89" lengthAdjust="spacingAndGlyphs" transform="translate(1953.6 1754.3) scale(1 1.04) translate(-1953.6 -1754.3)">LSC17</text>
<line x1="1945.8" y1="1831.7" x2="1970.6" y2="1831.7" stroke="#5a6db2" stroke-width="4.2"/>
<text x="1977.0" y="1839.8" font-size="30" text-anchor="start" textLength="55.35" lengthAdjust="spacingAndGlyphs" transform="translate(1977.0 1839.8) scale(1 1.04) translate(-1977.0 -1839.8)">Low</text>
<line x1="1945.8" y1="1867.7" x2="1970.6" y2="1867.7" stroke="#972328" stroke-width="4.2"/>
<text x="1976.9" y="1875.3" font-size="30" text-anchor="start" textLength="63.74" lengthAdjust="spacingAndGlyphs" transform="translate(1976.9 1875.3) scale(1 1.04) translate(-1976.9 -1875.3)">High</text>
<text x="1937.3" y="1922.4" font-size="22.3" text-anchor="start" textLength="162.45" lengthAdjust="spacingAndGlyphs" transform="translate(1937.3 1922.4) scale(1 1.04) translate(-1937.3 -1922.4)">Threshold = -0.01</text>
<text x="2000.1" y="1945.2" font-size="22.3" text-anchor="start" textLength="101.36" lengthAdjust="spacingAndGlyphs" transform="translate(2000.1 1945.2) scale(1 1.04) translate(-2000.1 -1945.2)">HR = 2.54</text>
<text x="1995.3" y="1968.0" font-size="22.3" text-anchor="start" textLength="104.49" lengthAdjust="spacingAndGlyphs" transform="translate(1995.3 1968.0) scale(1 1.04) translate(-1995.3 -1968.0)">p &lt; 0.0001</text>
<line x1="1837.7" y1="1930.1" x2="1837.7" y2="2112.1" stroke="#0b0b0b" stroke-width="4.6"/>
<line x1="1832.2" y1="1930.6" x2="1837.7" y2="1930.6" stroke="#0b0b0b" stroke-width="2.6"/>
<line x1="1832.2" y1="1976.8" x2="1837.7" y2="1976.8" stroke="#0b0b0b" stroke-width="2.6"/>
<line x1="1832.2" y1="2022" x2="1837.7" y2="2022" stroke="#0b0b0b" stroke-width="2.6"/>
<line x1="1832.2" y1="2066.4" x2="1837.7" y2="2066.4" stroke="#0b0b0b" stroke-width="2.6"/>
<line x1="1832.2" y1="2111.6" x2="1837.7" y2="2111.6" stroke="#0b0b0b" stroke-width="2.6"/>
<text x="1746.2" y="1935.7" font-size="29.3" text-anchor="start" textLength="75.15" lengthAdjust="spacingAndGlyphs" transform="translate(1746.2 1935.7) scale(1 1.04) translate(-1746.2 -1935.7)">100%</text>
<text x="1763.2" y="2030.9" font-size="29.3" text-anchor="start" textLength="58.27" lengthAdjust="spacingAndGlyphs" transform="translate(1763.2 2030.9) scale(1 1.04) translate(-1763.2 -2030.9)">50%</text>
<text x="1779.7" y="2123.5" font-size="29.3" text-anchor="start" textLength="41.57" lengthAdjust="spacingAndGlyphs" transform="translate(1779.7 2123.5) scale(1 1.04) translate(-1779.7 -2123.5)">0%</text>
<line x1="1850.1" y1="2122.2" x2="2100.1" y2="2122.2" stroke="#0b0b0b" stroke-width="4.6"/>
<line x1="1851.9" y1="2122.2" x2="1851.9" y2="2127.2" stroke="#0b0b0b" stroke-width="2.8"/>
<line x1="1900.3" y1="2122.2" x2="1900.3" y2="2127.2" stroke="#0b0b0b" stroke-width="2.8"/>
<line x1="1949.8" y1="2122.2" x2="1949.8" y2="2127.2" stroke="#0b0b0b" stroke-width="2.8"/>
<line x1="1999.8" y1="2122.2" x2="1999.8" y2="2127.2" stroke="#0b0b0b" stroke-width="2.8"/>
<line x1="2050.1" y1="2122.2" x2="2050.1" y2="2127.2" stroke="#0b0b0b" stroke-width="2.8"/>
<line x1="2098.8" y1="2122.2" x2="2098.8" y2="2127.2" stroke="#0b0b0b" stroke-width="2.8"/>
<text x="1842.0" y="2156.5" font-size="29.3" text-anchor="start" textLength="15.41" lengthAdjust="spacingAndGlyphs" transform="translate(1842.0 2156.5) scale(1 1.04) translate(-1842.0 -2156.5)">0</text>
<text x="1918.1" y="2156.5" font-size="29.3" text-anchor="start" textLength="65.57" lengthAdjust="spacingAndGlyphs" transform="translate(1918.1 2156.5) scale(1 1.04) translate(-1918.1 -2156.5)">1000</text>
<text x="2062.4" y="2156.5" font-size="29.3" text-anchor="start" textLength="66.00" lengthAdjust="spacingAndGlyphs" transform="translate(2062.4 2156.5) scale(1 1.04) translate(-2062.4 -2156.5)">2000</text>
<path d="M1852.6,1930.6 L1856.4,1930.6 L1856.4,1933.2 L1859.0,1933.2 L1859.0,1943.3 L1861.5,1943.3 L1861.5,1949.7 L1864.1,1949.7 L1864.1,1950.1 L1866.6,1950.1 L1866.6,1950.5 L1869.1,1950.5 L1869.1,1950.9 L1872.9,1950.9 L1872.9,1953.5 L1876.7,1953.5 L1876.7,1959.8 L1879.3,1959.8 L1879.3,1961.7 L1881.8,1961.7 L1881.8,1963.6 L1884.4,1963.6 L1884.4,1965.5 L1886.9,1965.5 L1886.9,1967.4 L1889.4,1967.4 L1889.4,1967.8 L1892.0,1967.8 L1892.0,1968.2 L1895.8,1968.2 L1895.8,1970.0 L1898.3,1970.0 L1898.3,1976.3 L1902.1,1976.3 L1902.1,1978.9 L1905.9,1978.9 L1905.9,1981.4 L1909.1,1981.4 L1909.1,1982.0 L1912.3,1982.0 L1912.3,1982.7 L1914.8,1982.7 L1914.8,1983.0 L1917.3,1983.0 L1917.3,1983.3 L1919.9,1983.3 L1919.9,1983.6 L1922.4,1983.6 L1922.4,1983.9 L1925.0,1983.9 L1925.0,1985.8 L1927.5,1985.8 L1927.5,1987.7 L1930.0,1987.7 L1930.0,1987.8 L1932.6,1987.8 L1932.6,1987.9 L1935.1,1987.9 L1935.1,1988.0 L1937.6,1988.0 L1937.6,1988.1 L1940.2,1988.1 L1940.2,1988.2 L1942.7,1988.2 L1942.7,1988.3 L1945.3,1988.3 L1945.3,1988.4 L1947.8,1988.4 L1947.8,1988.5 L1950.3,1988.5 L1950.3,1988.8 L1952.9,1988.8 L1952.9,1989.1 L1955.4,1989.1 L1955.4,1989.4 L1957.9,1989.4 L1957.9,1989.7 L1960.5,1989.7 L1960.5,1990.0 L1963.0,1990.0 L1963.0,1990.3 L1965.6,1990.3 L1965.6,1991.2 L1968.1,1991.2 L1968.1,1992.1 L1970.6,1992.1 L1970.6,1992.3 L1973.2,1992.3 L1973.2,1992.6 L1975.7,1992.6 L1975.7,1992.8 L1978.3,1992.8 L1978.3,1993.1 L1980.8,1993.1 L1980.8,1993.3 L1983.3,1993.3 L1983.3,1993.6 L2100.1,1993.6" fill="none" stroke="#5a6db2" stroke-width="3.7" stroke-linejoin="miter" stroke-linecap="butt"/>
<path d="M1852.6,1930.6 L1855.2,1930.6 L1855.2,1938.3 L1857.7,1938.3 L1857.7,1958.6 L1860.2,1958.6 L1860.2,1963.6 L1864.1,1963.6 L1864.1,1966.2 L1866.6,1966.2 L1866.6,1972.5 L1870.4,1972.5 L1870.4,1981.4 L1874.2,1981.4 L1874.2,1986.5 L1876.7,1986.5 L1876.7,1994.1 L1880.5,1994.1 L1880.5,2004.2 L1883.1,2004.2 L1883.1,2009.3 L1885.6,2009.3 L1885.6,2014.4 L1888.8,2014.4 L1888.8,2019.5 L1892.0,2019.5 L1892.0,2024.5 L1895.1,2024.5 L1895.1,2027.7 L1898.3,2027.7 L1898.3,2030.9 L1901.5,2030.9 L1901.5,2032.8 L1904.7,2032.8 L1904.7,2034.7 L1907.2,2034.7 L1907.2,2036.0 L1909.7,2036.0 L1909.7,2037.2 L1912.3,2037.2 L1912.3,2038.5 L1914.8,2038.5 L1914.8,2038.9 L1917.3,2038.9 L1917.3,2039.4 L1919.9,2039.4 L1919.9,2039.8 L1922.4,2039.8 L1922.4,2040.3 L1925.0,2040.3 L1925.0,2040.9 L1927.5,2040.9 L1927.5,2041.5 L1930.0,2041.5 L1930.0,2042.2 L1932.6,2042.2 L1932.6,2042.8 L1935.1,2042.8 L1935.1,2043.4 L1937.6,2043.4 L1937.6,2044.1 L1940.2,2044.1 L1940.2,2044.7 L1942.7,2044.7 L1942.7,2045.3 L1945.3,2045.3 L1945.3,2045.4 L1947.8,2045.4 L1947.8,2045.4 L1950.3,2045.4 L1950.3,2045.5 L1952.9,2045.5 L1952.9,2045.5 L1955.4,2045.5 L1955.4,2045.6 L1957.9,2045.6 L1957.9,2045.6 L1960.5,2045.6 L1960.5,2045.6 L1963.0,2045.6 L1963.0,2045.7 L1965.6,2045.7 L1965.6,2045.7 L1968.1,2045.7 L1968.1,2045.8 L1970.6,2045.8 L1970.6,2045.8 L1973.2,2045.8 L1973.2,2045.9 L1975.7,2045.9 L1975.7,2045.9 L1978.3,2045.9 L1978.3,2045.9 L1980.8,2045.9 L1980.8,2046.0 L1983.3,2046.0 L1983.3,2046.0 L1985.9,2046.0 L1985.9,2046.1 L1988.4,2046.1 L1988.4,2046.1 L1990.9,2046.1 L1990.9,2046.4 L1993.5,2046.4 L1993.5,2046.7 L1996.0,2046.7 L1996.0,2047.0 L1998.6,2047.0 L1998.6,2047.3 L2001.1,2047.3 L2001.1,2047.6 L2003.6,2047.6 L2003.6,2047.9 L2006.2,2047.9 L2006.2,2047.9 L2008.7,2047.9 L2008.7,2048.0 L2011.2,2048.0 L2011.2,2048.0 L2013.8,2048.0 L2013.8,2048.1 L2016.3,2048.1 L2016.3,2048.1 L2018.9,2048.1 L2018.9,2048.1 L2021.4,2048.1 L2021.4,2048.2 L2023.9,2048.2 L2023.9,2048.2 L2026.5,2048.2 L2026.5,2048.3 L2029.0,2048.3 L2029.0,2048.3 L2031.5,2048.3 L2031.5,2048.4 L2034.1,2048.4 L2034.1,2048.4 L2036.6,2048.4 L2036.6,2048.4 L2039.2,2048.4 L2039.2,2048.5 L2041.7,2048.5 L2041.7,2048.5 L2044.2,2048.5 L2044.2,2048.6 L2046.8,2048.6 L2046.8,2048.6 L2049.3,2048.6 L2049.3,2048.6 L2051.8,2048.6 L2051.8,2049.5 L2054.4,2049.5 L2054.4,2050.4 L2056.9,2050.4 L2056.9,2050.6 L2059.5,2050.6 L2059.5,2050.7 L2062.0,2050.7 L2062.0,2050.8 L2064.5,2050.8 L2064.5,2050.9 L2067.1,2050.9 L2067.1,2051.1 L2069.6,2051.1 L2069.6,2051.2 L2072.2,2051.2 L2072.2,2053.2 L2100.1,2053.2" fill="none" stroke="#972328" stroke-width="3.7" stroke-linejoin="miter" stroke-linecap="butt"/>
</svg>
</body></html>
